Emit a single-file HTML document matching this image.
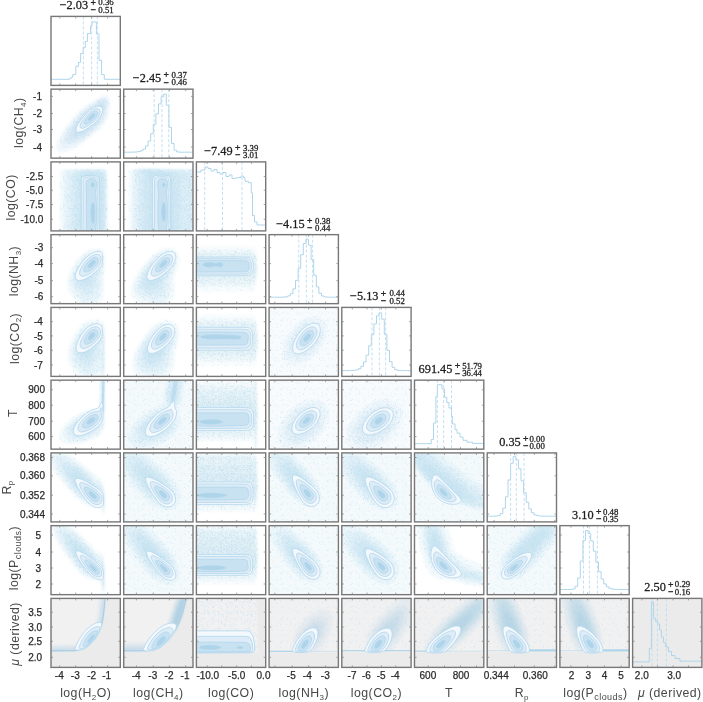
<!DOCTYPE html><html><head><meta charset="utf-8"><style>html,body{margin:0;padding:0;background:#fff}svg{display:block;will-change:transform}</style></head><body><svg width="703" height="702" viewBox="0 0 703 702">
<defs></defs>
<rect width="703" height="702" fill="#fff"/>
<rect x="51.00" y="16.40" width="69.3" height="69.0" fill="#fff"/>
<rect x="51.00" y="89.15" width="69.3" height="69.0" fill="#fff"/>
<rect x="123.70" y="89.15" width="69.3" height="69.0" fill="#fff"/>
<rect x="51.00" y="161.90" width="69.3" height="69.0" fill="#fff"/>
<rect x="123.70" y="161.90" width="69.3" height="69.0" fill="#fff"/>
<rect x="196.40" y="161.90" width="69.3" height="69.0" fill="#fff"/>
<rect x="51.00" y="234.65" width="69.3" height="69.0" fill="#fff"/>
<rect x="123.70" y="234.65" width="69.3" height="69.0" fill="#fff"/>
<rect x="196.40" y="234.65" width="69.3" height="69.0" fill="#fff"/>
<rect x="269.10" y="234.65" width="69.3" height="69.0" fill="#fff"/>
<rect x="51.00" y="307.40" width="69.3" height="69.0" fill="#fff"/>
<rect x="123.70" y="307.40" width="69.3" height="69.0" fill="#fff"/>
<rect x="196.40" y="307.40" width="69.3" height="69.0" fill="#fff"/>
<rect x="269.10" y="307.40" width="69.3" height="69.0" fill="#fff"/>
<rect x="341.80" y="307.40" width="69.3" height="69.0" fill="#fff"/>
<rect x="51.00" y="380.15" width="69.3" height="69.0" fill="#fff"/>
<rect x="123.70" y="380.15" width="69.3" height="69.0" fill="#fff"/>
<rect x="196.40" y="380.15" width="69.3" height="69.0" fill="#fff"/>
<rect x="269.10" y="380.15" width="69.3" height="69.0" fill="#fff"/>
<rect x="341.80" y="380.15" width="69.3" height="69.0" fill="#fff"/>
<rect x="414.50" y="380.15" width="69.3" height="69.0" fill="#fff"/>
<rect x="51.00" y="452.90" width="69.3" height="69.0" fill="#fff"/>
<rect x="123.70" y="452.90" width="69.3" height="69.0" fill="#fff"/>
<rect x="196.40" y="452.90" width="69.3" height="69.0" fill="#fff"/>
<rect x="269.10" y="452.90" width="69.3" height="69.0" fill="#fff"/>
<rect x="341.80" y="452.90" width="69.3" height="69.0" fill="#fff"/>
<rect x="414.50" y="452.90" width="69.3" height="69.0" fill="#fff"/>
<rect x="487.20" y="452.90" width="69.3" height="69.0" fill="#fff"/>
<rect x="51.00" y="525.65" width="69.3" height="69.0" fill="#fff"/>
<rect x="123.70" y="525.65" width="69.3" height="69.0" fill="#fff"/>
<rect x="196.40" y="525.65" width="69.3" height="69.0" fill="#fff"/>
<rect x="269.10" y="525.65" width="69.3" height="69.0" fill="#fff"/>
<rect x="341.80" y="525.65" width="69.3" height="69.0" fill="#fff"/>
<rect x="414.50" y="525.65" width="69.3" height="69.0" fill="#fff"/>
<rect x="487.20" y="525.65" width="69.3" height="69.0" fill="#fff"/>
<rect x="559.90" y="525.65" width="69.3" height="69.0" fill="#fff"/>
<rect x="51.00" y="598.40" width="69.3" height="69.0" fill="#ebebeb"/>
<rect x="123.70" y="598.40" width="69.3" height="69.0" fill="#ebebeb"/>
<rect x="196.40" y="598.40" width="69.3" height="69.0" fill="#ebebeb"/>
<rect x="269.10" y="598.40" width="69.3" height="69.0" fill="#ebebeb"/>
<rect x="341.80" y="598.40" width="69.3" height="69.0" fill="#ebebeb"/>
<rect x="414.50" y="598.40" width="69.3" height="69.0" fill="#ebebeb"/>
<rect x="487.20" y="598.40" width="69.3" height="69.0" fill="#ebebeb"/>
<rect x="559.90" y="598.40" width="69.3" height="69.0" fill="#ebebeb"/>
<rect x="632.60" y="598.40" width="69.3" height="69.0" fill="#ebebeb"/>
<defs><filter id="hb" x="-5%" y="-5%" width="110%" height="110%"><feGaussianBlur stdDeviation="0.9"/></filter>
<pattern id="sp0" width="23" height="23" patternUnits="userSpaceOnUse"><path d="M14.4 2.1h0.6v0.6h-0.6zM20.6 12.4h0.6v0.6h-0.6zM17.8 11.7h0.6v0.6h-0.6zM5.2 20.0h0.6v0.6h-0.6zM6.9 8.3h0.6v0.6h-0.6zM20.1 13.8h0.6v0.6h-0.6zM0.1 1.4h0.6v0.6h-0.6zM18.9 8.9h0.6v0.6h-0.6zM18.3 7.4h0.6v0.6h-0.6zM10.8 3.5h0.6v0.6h-0.6zM7.0 18.8h0.6v0.6h-0.6zM6.4 8.7h0.6v0.6h-0.6zM5.9 22.5h0.6v0.6h-0.6zM10.2 13.6h0.6v0.6h-0.6zM11.6 13.9h0.6v0.6h-0.6zM12.7 14.7h0.6v0.6h-0.6zM22.9 15.6h0.6v0.6h-0.6zM18.2 3.5h0.6v0.6h-0.6zM14.3 10.1h0.6v0.6h-0.6zM22.7 5.5h0.6v0.6h-0.6zM5.0 9.3h0.6v0.6h-0.6zM3.7 2.2h0.6v0.6h-0.6zM14.1 22.3h0.6v0.6h-0.6zM1.0 4.9h0.6v0.6h-0.6zM0.8 15.5h0.6v0.6h-0.6zM11.8 6.9h0.6v0.6h-0.6zM10.7 20.1h0.6v0.6h-0.6zM21.1 15.2h0.6v0.6h-0.6zM14.5 3.0h0.6v0.6h-0.6zM11.8 19.4h0.6v0.6h-0.6zM11.4 21.7h0.6v0.6h-0.6zM5.7 20.8h0.6v0.6h-0.6zM0.3 13.1h0.6v0.6h-0.6zM4.4 3.3h0.6v0.6h-0.6zM15.9 4.4h0.6v0.6h-0.6zM4.6 21.3h0.6v0.6h-0.6zM8.5 12.7h0.6v0.6h-0.6zM0.1 4.2h0.6v0.6h-0.6zM19.1 20.3h0.6v0.6h-0.6zM3.6 14.8h0.6v0.6h-0.6zM6.2 13.1h0.6v0.6h-0.6zM20.2 8.7h0.6v0.6h-0.6zM11.7 9.5h0.6v0.6h-0.6zM19.5 5.5h0.6v0.6h-0.6zM14.7 0.9h0.6v0.6h-0.6zM17.1 20.2h0.6v0.6h-0.6z" fill="#bddef1"/></pattern><pattern id="sp1" width="29" height="29" patternUnits="userSpaceOnUse"><path d="M13.6 19.2h0.6v0.6h-0.6zM15.9 18.3h0.6v0.6h-0.6zM9.3 23.9h0.6v0.6h-0.6zM21.8 23.3h0.6v0.6h-0.6zM0.7 9.5h0.6v0.6h-0.6zM10.8 20.9h0.6v0.6h-0.6zM0.9 25.2h0.6v0.6h-0.6zM3.6 25.9h0.6v0.6h-0.6zM28.0 4.7h0.6v0.6h-0.6zM19.1 0.8h0.6v0.6h-0.6zM12.4 18.9h0.6v0.6h-0.6zM15.2 6.2h0.6v0.6h-0.6zM25.3 16.3h0.6v0.6h-0.6zM10.0 27.4h0.6v0.6h-0.6zM17.1 11.0h0.6v0.6h-0.6zM19.8 7.3h0.6v0.6h-0.6zM10.3 13.2h0.6v0.6h-0.6zM15.1 19.1h0.6v0.6h-0.6zM22.2 2.9h0.6v0.6h-0.6zM26.4 11.0h0.6v0.6h-0.6zM4.4 3.9h0.6v0.6h-0.6zM27.1 19.2h0.6v0.6h-0.6zM0.2 24.1h0.6v0.6h-0.6zM21.8 10.9h0.6v0.6h-0.6zM23.5 10.8h0.6v0.6h-0.6zM4.0 15.6h0.6v0.6h-0.6zM12.1 6.2h0.6v0.6h-0.6zM23.6 7.2h0.6v0.6h-0.6zM0.4 9.6h0.6v0.6h-0.6zM18.2 13.3h0.6v0.6h-0.6zM23.0 2.4h0.6v0.6h-0.6zM14.9 21.8h0.6v0.6h-0.6zM21.0 16.8h0.6v0.6h-0.6zM6.6 8.7h0.6v0.6h-0.6zM5.8 2.2h0.6v0.6h-0.6zM10.5 22.1h0.6v0.6h-0.6zM5.2 3.8h0.6v0.6h-0.6zM10.0 3.9h0.6v0.6h-0.6zM27.5 3.8h0.6v0.6h-0.6zM16.6 2.4h0.6v0.6h-0.6zM9.9 26.3h0.6v0.6h-0.6zM7.9 7.8h0.6v0.6h-0.6zM27.6 8.9h0.6v0.6h-0.6zM12.9 24.2h0.6v0.6h-0.6zM28.4 18.0h0.6v0.6h-0.6zM15.0 5.4h0.6v0.6h-0.6zM15.1 12.6h0.6v0.6h-0.6zM26.0 25.6h0.6v0.6h-0.6zM21.5 10.9h0.6v0.6h-0.6zM16.8 20.6h0.6v0.6h-0.6zM12.4 2.8h0.6v0.6h-0.6zM25.5 21.1h0.6v0.6h-0.6zM11.9 22.5h0.6v0.6h-0.6zM26.8 23.9h0.6v0.6h-0.6zM2.0 19.6h0.6v0.6h-0.6zM12.5 10.8h0.6v0.6h-0.6zM15.1 1.9h0.6v0.6h-0.6zM27.6 15.0h0.6v0.6h-0.6zM7.3 22.0h0.6v0.6h-0.6zM23.4 5.5h0.6v0.6h-0.6zM19.6 7.7h0.6v0.6h-0.6zM20.8 15.5h0.6v0.6h-0.6zM18.3 21.7h0.6v0.6h-0.6zM28.2 26.0h0.6v0.6h-0.6zM9.6 3.6h0.6v0.6h-0.6zM11.5 5.3h0.6v0.6h-0.6zM5.9 23.2h0.6v0.6h-0.6zM1.5 18.7h0.6v0.6h-0.6zM6.2 20.9h0.6v0.6h-0.6zM26.5 28.9h0.6v0.6h-0.6zM24.4 27.2h0.6v0.6h-0.6zM3.3 24.4h0.6v0.6h-0.6zM17.5 22.5h0.6v0.6h-0.6zM13.9 11.5h0.6v0.6h-0.6zM17.2 18.6h0.6v0.6h-0.6zM19.1 5.3h0.6v0.6h-0.6zM8.9 22.0h0.6v0.6h-0.6zM27.9 22.0h0.6v0.6h-0.6zM13.5 20.9h0.6v0.6h-0.6zM18.2 12.9h0.6v0.6h-0.6zM18.4 11.0h0.6v0.6h-0.6zM5.3 12.2h0.6v0.6h-0.6zM1.8 1.0h0.6v0.6h-0.6zM11.9 24.5h0.6v0.6h-0.6zM22.2 15.7h0.6v0.6h-0.6zM23.6 11.2h0.6v0.6h-0.6zM21.2 15.9h0.6v0.6h-0.6zM3.3 20.9h0.6v0.6h-0.6zM26.5 11.1h0.6v0.6h-0.6zM23.3 24.1h0.6v0.6h-0.6zM25.5 26.7h0.6v0.6h-0.6zM15.2 11.2h0.6v0.6h-0.6zM26.6 4.0h0.6v0.6h-0.6zM1.4 22.1h0.6v0.6h-0.6zM0.9 28.8h0.6v0.6h-0.6zM0.6 4.3h0.6v0.6h-0.6zM7.3 20.7h0.6v0.6h-0.6zM7.2 23.9h0.6v0.6h-0.6zM5.4 26.7h0.6v0.6h-0.6zM16.4 3.6h0.6v0.6h-0.6zM1.1 2.7h0.6v0.6h-0.6zM17.1 28.6h0.6v0.6h-0.6zM4.8 3.4h0.6v0.6h-0.6zM19.7 5.1h0.6v0.6h-0.6zM0.6 16.7h0.6v0.6h-0.6zM9.0 12.9h0.6v0.6h-0.6zM27.2 21.8h0.6v0.6h-0.6zM15.6 5.5h0.6v0.6h-0.6zM23.5 26.5h0.6v0.6h-0.6zM19.1 6.3h0.6v0.6h-0.6zM17.7 22.3h0.6v0.6h-0.6zM5.5 2.0h0.6v0.6h-0.6zM16.7 13.7h0.6v0.6h-0.6zM1.2 0.9h0.6v0.6h-0.6zM23.2 9.1h0.6v0.6h-0.6zM27.8 9.1h0.6v0.6h-0.6zM24.8 20.9h0.6v0.6h-0.6zM1.5 13.2h0.6v0.6h-0.6zM9.8 1.6h0.6v0.6h-0.6zM9.2 28.9h0.6v0.6h-0.6zM3.3 25.8h0.6v0.6h-0.6zM18.2 26.6h0.6v0.6h-0.6zM23.1 7.2h0.6v0.6h-0.6zM9.1 11.4h0.6v0.6h-0.6zM25.0 6.6h0.6v0.6h-0.6zM23.1 3.6h0.6v0.6h-0.6zM3.7 1.0h0.6v0.6h-0.6zM22.2 14.6h0.6v0.6h-0.6zM25.6 3.6h0.6v0.6h-0.6zM5.7 5.1h0.6v0.6h-0.6zM16.6 25.0h0.6v0.6h-0.6zM18.5 14.0h0.6v0.6h-0.6zM17.7 5.3h0.6v0.6h-0.6zM2.8 19.4h0.6v0.6h-0.6z" fill="#bddef1"/></pattern><pattern id="sp2" width="31" height="31" patternUnits="userSpaceOnUse"><path d="M8.2 22.7h0.6v0.6h-0.6zM16.3 25.3h0.6v0.6h-0.6zM8.8 13.8h0.6v0.6h-0.6zM16.0 1.9h0.6v0.6h-0.6zM19.5 21.2h0.6v0.6h-0.6zM16.6 7.6h0.6v0.6h-0.6zM12.3 19.9h0.6v0.6h-0.6zM24.5 11.7h0.6v0.6h-0.6zM27.1 19.8h0.6v0.6h-0.6zM5.6 8.0h0.6v0.6h-0.6zM4.2 14.8h0.6v0.6h-0.6zM3.5 16.3h0.6v0.6h-0.6zM30.4 19.6h0.6v0.6h-0.6zM29.2 6.3h0.6v0.6h-0.6zM7.2 29.8h0.6v0.6h-0.6zM30.1 9.0h0.6v0.6h-0.6zM6.4 9.5h0.6v0.6h-0.6zM15.7 7.9h0.6v0.6h-0.6zM15.4 2.1h0.6v0.6h-0.6zM28.4 13.1h0.6v0.6h-0.6zM1.3 23.9h0.6v0.6h-0.6zM9.8 22.0h0.6v0.6h-0.6zM18.6 6.1h0.6v0.6h-0.6zM2.1 4.2h0.6v0.6h-0.6zM7.3 10.0h0.6v0.6h-0.6zM14.4 23.8h0.6v0.6h-0.6zM27.3 15.1h0.6v0.6h-0.6zM23.6 28.6h0.6v0.6h-0.6zM25.7 20.3h0.6v0.6h-0.6zM23.6 19.2h0.6v0.6h-0.6zM21.9 23.8h0.6v0.6h-0.6zM26.3 23.3h0.6v0.6h-0.6zM21.1 10.7h0.6v0.6h-0.6zM22.8 8.0h0.6v0.6h-0.6zM9.4 13.6h0.6v0.6h-0.6zM5.2 15.2h0.6v0.6h-0.6zM23.5 4.4h0.6v0.6h-0.6zM5.1 13.7h0.6v0.6h-0.6zM28.5 19.8h0.6v0.6h-0.6zM18.5 4.2h0.6v0.6h-0.6zM10.2 4.3h0.6v0.6h-0.6zM29.0 5.4h0.6v0.6h-0.6zM4.8 8.8h0.6v0.6h-0.6zM15.9 29.8h0.6v0.6h-0.6zM2.8 0.8h0.6v0.6h-0.6zM29.9 5.7h0.6v0.6h-0.6zM17.8 5.1h0.6v0.6h-0.6zM24.9 14.7h0.6v0.6h-0.6zM8.7 0.5h0.6v0.6h-0.6zM24.9 14.2h0.6v0.6h-0.6zM21.8 5.1h0.6v0.6h-0.6zM20.0 8.4h0.6v0.6h-0.6zM29.5 24.6h0.6v0.6h-0.6zM13.4 5.7h0.6v0.6h-0.6zM12.9 19.1h0.6v0.6h-0.6zM21.5 12.6h0.6v0.6h-0.6zM25.9 12.9h0.6v0.6h-0.6zM10.4 25.3h0.6v0.6h-0.6zM20.8 5.0h0.6v0.6h-0.6zM6.5 28.6h0.6v0.6h-0.6zM17.1 27.7h0.6v0.6h-0.6zM23.8 20.7h0.6v0.6h-0.6zM2.0 1.5h0.6v0.6h-0.6zM22.6 20.6h0.6v0.6h-0.6zM0.5 18.6h0.6v0.6h-0.6zM29.7 23.9h0.6v0.6h-0.6zM14.5 6.6h0.6v0.6h-0.6zM12.7 29.6h0.6v0.6h-0.6zM22.3 27.5h0.6v0.6h-0.6zM16.2 3.5h0.6v0.6h-0.6zM22.7 9.8h0.6v0.6h-0.6zM2.6 1.0h0.6v0.6h-0.6zM17.4 25.8h0.6v0.6h-0.6zM17.3 28.4h0.6v0.6h-0.6zM28.9 30.7h0.6v0.6h-0.6zM1.2 19.0h0.6v0.6h-0.6zM14.0 20.6h0.6v0.6h-0.6zM19.6 21.0h0.6v0.6h-0.6zM17.1 17.7h0.6v0.6h-0.6zM2.3 29.5h0.6v0.6h-0.6zM18.4 18.8h0.6v0.6h-0.6zM6.9 10.4h0.6v0.6h-0.6zM6.1 15.9h0.6v0.6h-0.6zM27.2 0.6h0.6v0.6h-0.6zM6.1 22.4h0.6v0.6h-0.6zM14.1 21.5h0.6v0.6h-0.6zM23.3 13.1h0.6v0.6h-0.6zM21.9 26.4h0.6v0.6h-0.6zM17.2 23.4h0.6v0.6h-0.6zM25.0 10.4h0.6v0.6h-0.6zM14.4 2.4h0.6v0.6h-0.6zM19.2 4.1h0.6v0.6h-0.6zM25.4 5.7h0.6v0.6h-0.6zM21.0 9.4h0.6v0.6h-0.6zM19.9 13.9h0.6v0.6h-0.6zM12.6 28.8h0.6v0.6h-0.6zM17.3 8.6h0.6v0.6h-0.6zM12.3 27.9h0.6v0.6h-0.6zM23.1 21.1h0.6v0.6h-0.6zM11.8 26.5h0.6v0.6h-0.6zM14.5 12.5h0.6v0.6h-0.6zM23.4 0.1h0.6v0.6h-0.6zM15.6 24.4h0.6v0.6h-0.6zM10.5 7.6h0.6v0.6h-0.6zM25.6 4.4h0.6v0.6h-0.6zM11.8 24.8h0.6v0.6h-0.6zM26.2 21.3h0.6v0.6h-0.6zM24.3 6.6h0.6v0.6h-0.6zM13.9 8.3h0.6v0.6h-0.6zM22.1 29.1h0.6v0.6h-0.6zM1.1 8.3h0.6v0.6h-0.6zM12.1 21.8h0.6v0.6h-0.6zM26.7 4.0h0.6v0.6h-0.6zM18.0 25.3h0.6v0.6h-0.6zM17.3 3.6h0.6v0.6h-0.6zM20.6 16.0h0.6v0.6h-0.6zM21.0 1.1h0.6v0.6h-0.6zM18.1 17.1h0.6v0.6h-0.6zM13.0 26.2h0.6v0.6h-0.6zM5.7 2.6h0.6v0.6h-0.6zM9.1 8.5h0.6v0.6h-0.6zM9.1 23.7h0.6v0.6h-0.6zM13.4 18.9h0.6v0.6h-0.6zM31.0 9.7h0.6v0.6h-0.6zM10.9 19.5h0.6v0.6h-0.6zM13.9 14.1h0.6v0.6h-0.6zM11.5 26.7h0.6v0.6h-0.6zM18.0 9.1h0.6v0.6h-0.6zM29.4 23.5h0.6v0.6h-0.6zM27.6 19.7h0.6v0.6h-0.6zM11.7 23.0h0.6v0.6h-0.6zM8.3 11.7h0.6v0.6h-0.6zM27.4 22.5h0.6v0.6h-0.6zM15.3 21.7h0.6v0.6h-0.6zM21.3 12.0h0.6v0.6h-0.6zM2.3 0.8h0.6v0.6h-0.6zM26.9 29.9h0.6v0.6h-0.6zM9.7 22.1h0.6v0.6h-0.6zM15.3 6.3h0.6v0.6h-0.6zM6.1 22.7h0.6v0.6h-0.6zM13.0 8.6h0.6v0.6h-0.6zM25.7 14.5h0.6v0.6h-0.6zM25.7 26.7h0.6v0.6h-0.6zM14.7 13.9h0.6v0.6h-0.6zM23.8 8.9h0.6v0.6h-0.6zM14.2 9.5h0.6v0.6h-0.6zM11.6 2.4h0.6v0.6h-0.6zM16.9 6.8h0.6v0.6h-0.6zM6.2 8.4h0.6v0.6h-0.6zM9.8 5.4h0.6v0.6h-0.6zM21.9 2.0h0.6v0.6h-0.6zM23.9 14.4h0.6v0.6h-0.6zM1.8 6.6h0.6v0.6h-0.6z" fill="#bddef1"/></pattern><pattern id="sp3" width="37" height="37" patternUnits="userSpaceOnUse"><path d="M27.3 8.1h0.6v0.6h-0.6zM34.1 0.9h0.6v0.6h-0.6zM10.1 4.7h0.6v0.6h-0.6zM21.2 23.4h0.6v0.6h-0.6zM18.7 3.7h0.6v0.6h-0.6zM2.8 5.8h0.6v0.6h-0.6zM4.6 33.4h0.6v0.6h-0.6zM32.7 12.4h0.6v0.6h-0.6zM17.5 12.3h0.6v0.6h-0.6zM29.8 3.2h0.6v0.6h-0.6zM2.5 29.4h0.6v0.6h-0.6zM22.0 25.0h0.6v0.6h-0.6zM32.0 20.2h0.6v0.6h-0.6zM32.1 22.9h0.6v0.6h-0.6zM0.2 3.7h0.6v0.6h-0.6zM19.3 9.6h0.6v0.6h-0.6zM13.7 21.6h0.6v0.6h-0.6zM28.1 35.2h0.6v0.6h-0.6zM2.7 30.2h0.6v0.6h-0.6zM9.8 23.7h0.6v0.6h-0.6zM30.1 19.2h0.6v0.6h-0.6zM17.4 0.6h0.6v0.6h-0.6zM16.8 33.0h0.6v0.6h-0.6zM35.8 2.5h0.6v0.6h-0.6zM11.8 4.8h0.6v0.6h-0.6zM1.5 25.6h0.6v0.6h-0.6zM14.5 30.0h0.6v0.6h-0.6zM5.7 29.1h0.6v0.6h-0.6zM3.0 16.7h0.6v0.6h-0.6zM21.0 6.6h0.6v0.6h-0.6zM35.3 1.3h0.6v0.6h-0.6zM21.4 31.5h0.6v0.6h-0.6zM23.9 36.2h0.6v0.6h-0.6zM12.0 9.0h0.6v0.6h-0.6zM21.1 32.0h0.6v0.6h-0.6zM27.8 14.9h0.6v0.6h-0.6zM21.8 11.5h0.6v0.6h-0.6zM29.7 18.7h0.6v0.6h-0.6zM20.4 0.3h0.6v0.6h-0.6zM7.3 16.4h0.6v0.6h-0.6zM21.6 7.4h0.6v0.6h-0.6zM18.2 26.4h0.6v0.6h-0.6zM6.1 18.6h0.6v0.6h-0.6zM22.9 32.1h0.6v0.6h-0.6zM30.2 33.2h0.6v0.6h-0.6zM5.0 11.7h0.6v0.6h-0.6zM20.2 10.4h0.6v0.6h-0.6zM27.1 34.7h0.6v0.6h-0.6zM14.9 18.6h0.6v0.6h-0.6zM10.0 3.6h0.6v0.6h-0.6zM13.8 1.7h0.6v0.6h-0.6zM20.0 36.6h0.6v0.6h-0.6zM25.4 21.4h0.6v0.6h-0.6zM20.7 2.0h0.6v0.6h-0.6zM4.0 18.9h0.6v0.6h-0.6zM30.3 18.7h0.6v0.6h-0.6zM34.2 16.1h0.6v0.6h-0.6zM3.7 35.2h0.6v0.6h-0.6zM9.2 35.1h0.6v0.6h-0.6zM6.4 4.6h0.6v0.6h-0.6zM31.4 5.6h0.6v0.6h-0.6zM33.7 15.1h0.6v0.6h-0.6zM1.6 30.9h0.6v0.6h-0.6zM12.3 23.1h0.6v0.6h-0.6zM7.1 27.0h0.6v0.6h-0.6zM17.4 21.3h0.6v0.6h-0.6zM34.1 7.8h0.6v0.6h-0.6zM2.6 30.3h0.6v0.6h-0.6zM6.3 0.5h0.6v0.6h-0.6zM18.0 25.8h0.6v0.6h-0.6zM19.4 7.2h0.6v0.6h-0.6zM27.6 17.4h0.6v0.6h-0.6zM16.2 36.1h0.6v0.6h-0.6zM5.2 19.9h0.6v0.6h-0.6zM13.1 2.1h0.6v0.6h-0.6zM36.3 15.9h0.6v0.6h-0.6zM27.8 24.4h0.6v0.6h-0.6zM4.3 2.1h0.6v0.6h-0.6zM29.9 9.3h0.6v0.6h-0.6zM11.5 0.7h0.6v0.6h-0.6zM28.9 20.0h0.6v0.6h-0.6zM0.5 14.1h0.6v0.6h-0.6zM32.2 18.6h0.6v0.6h-0.6zM6.0 10.9h0.6v0.6h-0.6zM16.9 24.3h0.6v0.6h-0.6zM24.5 6.4h0.6v0.6h-0.6zM18.8 33.5h0.6v0.6h-0.6zM6.1 35.5h0.6v0.6h-0.6zM5.1 18.2h0.6v0.6h-0.6zM10.5 17.2h0.6v0.6h-0.6zM1.9 31.8h0.6v0.6h-0.6zM8.0 10.7h0.6v0.6h-0.6zM4.8 29.7h0.6v0.6h-0.6zM17.2 10.6h0.6v0.6h-0.6zM13.2 26.6h0.6v0.6h-0.6zM21.7 12.4h0.6v0.6h-0.6zM10.4 22.3h0.6v0.6h-0.6zM1.3 34.3h0.6v0.6h-0.6zM12.3 2.0h0.6v0.6h-0.6zM27.9 29.9h0.6v0.6h-0.6zM9.5 20.0h0.6v0.6h-0.6zM15.0 14.0h0.6v0.6h-0.6zM27.9 13.0h0.6v0.6h-0.6zM15.0 2.6h0.6v0.6h-0.6zM32.8 9.6h0.6v0.6h-0.6zM34.0 23.1h0.6v0.6h-0.6zM11.5 3.6h0.6v0.6h-0.6zM27.2 24.8h0.6v0.6h-0.6zM9.4 35.6h0.6v0.6h-0.6zM5.2 36.3h0.6v0.6h-0.6zM16.2 32.9h0.6v0.6h-0.6zM22.3 29.8h0.6v0.6h-0.6zM34.6 6.6h0.6v0.6h-0.6zM5.4 35.9h0.6v0.6h-0.6zM26.4 7.5h0.6v0.6h-0.6zM17.6 32.2h0.6v0.6h-0.6zM4.9 32.5h0.6v0.6h-0.6zM36.0 23.0h0.6v0.6h-0.6zM25.7 19.3h0.6v0.6h-0.6zM4.8 7.4h0.6v0.6h-0.6zM33.5 19.2h0.6v0.6h-0.6zM3.8 10.8h0.6v0.6h-0.6zM3.4 4.7h0.6v0.6h-0.6zM12.3 4.7h0.6v0.6h-0.6zM34.7 29.6h0.6v0.6h-0.6zM1.2 34.1h0.6v0.6h-0.6zM34.0 5.2h0.6v0.6h-0.6zM22.6 0.5h0.6v0.6h-0.6zM2.5 9.8h0.6v0.6h-0.6zM21.0 5.0h0.6v0.6h-0.6zM17.0 7.0h0.6v0.6h-0.6zM20.9 21.6h0.6v0.6h-0.6zM27.3 15.6h0.6v0.6h-0.6zM25.1 15.9h0.6v0.6h-0.6zM36.9 7.6h0.6v0.6h-0.6zM5.8 24.6h0.6v0.6h-0.6zM30.1 10.7h0.6v0.6h-0.6zM15.2 14.8h0.6v0.6h-0.6zM29.0 17.1h0.6v0.6h-0.6zM33.0 33.5h0.6v0.6h-0.6zM36.7 9.1h0.6v0.6h-0.6zM9.8 26.6h0.6v0.6h-0.6zM16.8 11.4h0.6v0.6h-0.6zM34.9 33.1h0.6v0.6h-0.6zM35.0 14.6h0.6v0.6h-0.6zM13.8 18.7h0.6v0.6h-0.6zM34.8 32.5h0.6v0.6h-0.6zM15.0 24.9h0.6v0.6h-0.6zM13.9 3.5h0.6v0.6h-0.6zM28.0 5.1h0.6v0.6h-0.6zM17.4 36.7h0.6v0.6h-0.6zM16.6 1.1h0.6v0.6h-0.6zM14.3 11.1h0.6v0.6h-0.6zM16.0 35.5h0.6v0.6h-0.6zM5.2 0.6h0.6v0.6h-0.6zM2.3 6.0h0.6v0.6h-0.6zM27.9 7.9h0.6v0.6h-0.6zM20.9 3.2h0.6v0.6h-0.6zM24.9 17.5h0.6v0.6h-0.6zM29.7 21.9h0.6v0.6h-0.6zM8.5 11.8h0.6v0.6h-0.6zM8.6 4.0h0.6v0.6h-0.6zM10.3 30.0h0.6v0.6h-0.6zM11.2 29.8h0.6v0.6h-0.6zM28.1 20.8h0.6v0.6h-0.6zM13.8 5.1h0.6v0.6h-0.6zM12.0 20.1h0.6v0.6h-0.6zM23.5 23.3h0.6v0.6h-0.6zM6.9 15.8h0.6v0.6h-0.6zM3.9 32.0h0.6v0.6h-0.6zM25.8 14.4h0.6v0.6h-0.6zM28.0 18.9h0.6v0.6h-0.6zM11.0 4.2h0.6v0.6h-0.6zM23.5 20.9h0.6v0.6h-0.6zM1.3 28.4h0.6v0.6h-0.6zM15.0 27.1h0.6v0.6h-0.6zM21.4 9.5h0.6v0.6h-0.6zM9.4 36.7h0.6v0.6h-0.6zM12.9 26.6h0.6v0.6h-0.6zM22.6 15.7h0.6v0.6h-0.6zM21.8 15.4h0.6v0.6h-0.6zM5.7 28.8h0.6v0.6h-0.6zM26.1 6.5h0.6v0.6h-0.6zM3.0 23.7h0.6v0.6h-0.6zM35.9 26.6h0.6v0.6h-0.6zM7.5 19.1h0.6v0.6h-0.6zM9.4 32.3h0.6v0.6h-0.6zM7.4 17.3h0.6v0.6h-0.6zM36.7 17.2h0.6v0.6h-0.6zM10.6 10.5h0.6v0.6h-0.6zM22.4 34.0h0.6v0.6h-0.6zM36.7 11.7h0.6v0.6h-0.6zM35.2 25.7h0.6v0.6h-0.6zM1.6 15.1h0.6v0.6h-0.6zM19.3 34.6h0.6v0.6h-0.6zM22.2 35.1h0.6v0.6h-0.6zM26.0 1.1h0.6v0.6h-0.6zM12.4 36.8h0.6v0.6h-0.6zM12.1 22.4h0.6v0.6h-0.6zM0.2 2.7h0.6v0.6h-0.6zM1.3 18.4h0.6v0.6h-0.6zM20.4 1.8h0.6v0.6h-0.6zM2.8 20.3h0.6v0.6h-0.6zM7.5 6.9h0.6v0.6h-0.6zM12.3 13.6h0.6v0.6h-0.6zM2.6 11.3h0.6v0.6h-0.6zM1.1 22.3h0.6v0.6h-0.6zM34.3 30.4h0.6v0.6h-0.6zM16.1 34.7h0.6v0.6h-0.6zM7.6 12.2h0.6v0.6h-0.6zM26.2 21.1h0.6v0.6h-0.6zM0.3 0.2h0.6v0.6h-0.6zM9.1 13.8h0.6v0.6h-0.6zM35.5 35.5h0.6v0.6h-0.6zM33.2 4.4h0.6v0.6h-0.6zM23.5 32.2h0.6v0.6h-0.6zM3.4 24.1h0.6v0.6h-0.6zM11.8 10.9h0.6v0.6h-0.6zM1.0 28.8h0.6v0.6h-0.6z" fill="#bddef1"/></pattern><pattern id="sp4" width="26" height="26" patternUnits="userSpaceOnUse"><path d="M7.5 18.3h0.6v0.6h-0.6zM23.3 23.8h0.6v0.6h-0.6zM2.2 25.2h0.6v0.6h-0.6zM3.1 18.6h0.6v0.6h-0.6zM19.5 22.4h0.6v0.6h-0.6zM11.7 21.9h0.6v0.6h-0.6zM3.8 9.3h0.6v0.6h-0.6zM13.3 2.6h0.6v0.6h-0.6zM7.7 18.9h0.6v0.6h-0.6zM14.3 3.6h0.6v0.6h-0.6zM19.3 10.0h0.6v0.6h-0.6zM22.3 25.9h0.6v0.6h-0.6zM1.5 14.6h0.6v0.6h-0.6zM15.4 13.6h0.6v0.6h-0.6zM25.6 24.6h0.6v0.6h-0.6zM12.0 7.4h0.6v0.6h-0.6zM20.0 26.0h0.6v0.6h-0.6zM2.5 23.7h0.6v0.6h-0.6zM22.7 9.5h0.6v0.6h-0.6zM15.1 8.5h0.6v0.6h-0.6zM23.1 3.3h0.6v0.6h-0.6zM20.5 23.8h0.6v0.6h-0.6zM22.6 4.8h0.6v0.6h-0.6zM1.5 0.2h0.6v0.6h-0.6zM18.6 23.1h0.6v0.6h-0.6zM5.1 15.6h0.6v0.6h-0.6zM6.9 17.5h0.6v0.6h-0.6zM8.4 19.1h0.6v0.6h-0.6zM15.4 1.1h0.6v0.6h-0.6zM16.3 2.4h0.6v0.6h-0.6zM24.2 13.0h0.6v0.6h-0.6zM0.3 1.3h0.6v0.6h-0.6zM5.0 13.1h0.6v0.6h-0.6zM9.4 19.1h0.6v0.6h-0.6zM21.3 17.1h0.6v0.6h-0.6zM14.3 16.0h0.6v0.6h-0.6zM13.3 1.2h0.6v0.6h-0.6zM19.8 6.2h0.6v0.6h-0.6zM17.0 23.3h0.6v0.6h-0.6zM7.5 3.2h0.6v0.6h-0.6zM2.3 13.9h0.6v0.6h-0.6zM12.0 1.3h0.6v0.6h-0.6zM22.9 24.4h0.6v0.6h-0.6zM15.6 4.5h0.6v0.6h-0.6zM1.4 10.7h0.6v0.6h-0.6zM11.4 14.2h0.6v0.6h-0.6zM10.0 18.7h0.6v0.6h-0.6zM15.1 24.4h0.6v0.6h-0.6zM15.3 19.1h0.6v0.6h-0.6zM24.7 9.0h0.6v0.6h-0.6zM8.8 2.0h0.6v0.6h-0.6zM10.6 18.4h0.6v0.6h-0.6zM16.0 25.3h0.6v0.6h-0.6zM23.0 0.4h0.6v0.6h-0.6zM18.4 20.1h0.6v0.6h-0.6zM12.2 4.6h0.6v0.6h-0.6zM21.2 12.0h0.6v0.6h-0.6zM12.6 13.6h0.6v0.6h-0.6zM25.1 16.0h0.6v0.6h-0.6zM7.3 25.7h0.6v0.6h-0.6zM3.3 17.9h0.6v0.6h-0.6zM21.6 10.2h0.6v0.6h-0.6zM7.7 18.6h0.6v0.6h-0.6zM22.0 12.1h0.6v0.6h-0.6zM15.8 10.7h0.6v0.6h-0.6zM13.2 9.5h0.6v0.6h-0.6zM2.3 12.8h0.6v0.6h-0.6zM20.4 7.3h0.6v0.6h-0.6zM1.7 6.3h0.6v0.6h-0.6zM25.1 3.9h0.6v0.6h-0.6zM22.8 11.4h0.6v0.6h-0.6zM7.9 7.6h0.6v0.6h-0.6zM3.3 21.8h0.6v0.6h-0.6zM23.0 22.0h0.6v0.6h-0.6zM12.5 8.9h0.6v0.6h-0.6zM3.2 16.1h0.6v0.6h-0.6zM13.0 23.5h0.6v0.6h-0.6zM6.4 9.3h0.6v0.6h-0.6zM10.6 14.4h0.6v0.6h-0.6zM16.6 11.5h0.6v0.6h-0.6zM23.8 16.9h0.6v0.6h-0.6zM20.8 25.0h0.6v0.6h-0.6zM4.2 3.6h0.6v0.6h-0.6zM12.4 25.1h0.6v0.6h-0.6zM12.8 17.3h0.6v0.6h-0.6zM25.7 20.7h0.6v0.6h-0.6zM2.3 16.5h0.6v0.6h-0.6zM13.3 22.6h0.6v0.6h-0.6zM23.8 8.5h0.6v0.6h-0.6zM10.4 18.4h0.6v0.6h-0.6zM6.8 6.9h0.6v0.6h-0.6zM14.5 13.2h0.6v0.6h-0.6zM8.3 17.7h0.6v0.6h-0.6zM24.1 5.2h0.6v0.6h-0.6zM2.2 1.6h0.6v0.6h-0.6zM5.4 20.6h0.6v0.6h-0.6zM2.2 21.0h0.6v0.6h-0.6zM18.5 17.3h0.6v0.6h-0.6zM7.6 8.4h0.6v0.6h-0.6zM23.4 17.1h0.6v0.6h-0.6zM23.2 2.2h0.6v0.6h-0.6zM24.3 17.2h0.6v0.6h-0.6zM6.7 15.0h0.6v0.6h-0.6zM0.0 16.0h0.6v0.6h-0.6zM10.1 11.6h0.6v0.6h-0.6zM25.0 5.9h0.6v0.6h-0.6zM19.9 18.9h0.6v0.6h-0.6zM1.6 12.1h0.6v0.6h-0.6z" fill="#bddef1"/></pattern><pattern id="sp5" width="34" height="34" patternUnits="userSpaceOnUse"><path d="M25.3 10.5h0.6v0.6h-0.6zM12.4 9.6h0.6v0.6h-0.6zM3.0 25.7h0.6v0.6h-0.6zM18.4 33.8h0.6v0.6h-0.6zM21.2 23.2h0.6v0.6h-0.6zM31.3 1.1h0.6v0.6h-0.6zM30.2 10.1h0.6v0.6h-0.6zM1.9 27.3h0.6v0.6h-0.6zM26.2 31.4h0.6v0.6h-0.6zM8.9 20.2h0.6v0.6h-0.6zM23.7 11.9h0.6v0.6h-0.6zM12.9 12.1h0.6v0.6h-0.6zM11.0 21.5h0.6v0.6h-0.6zM16.6 29.4h0.6v0.6h-0.6zM18.0 11.6h0.6v0.6h-0.6zM23.6 6.5h0.6v0.6h-0.6zM21.7 0.1h0.6v0.6h-0.6zM23.1 4.7h0.6v0.6h-0.6zM13.1 28.9h0.6v0.6h-0.6zM23.0 21.2h0.6v0.6h-0.6zM11.7 33.7h0.6v0.6h-0.6zM20.7 2.4h0.6v0.6h-0.6zM15.6 12.4h0.6v0.6h-0.6zM19.1 27.1h0.6v0.6h-0.6zM0.6 22.5h0.6v0.6h-0.6zM17.0 2.3h0.6v0.6h-0.6zM7.5 13.6h0.6v0.6h-0.6zM13.1 21.7h0.6v0.6h-0.6zM2.5 23.4h0.6v0.6h-0.6zM22.3 15.4h0.6v0.6h-0.6zM30.4 6.4h0.6v0.6h-0.6zM12.1 32.8h0.6v0.6h-0.6zM3.6 15.9h0.6v0.6h-0.6zM21.1 24.4h0.6v0.6h-0.6zM4.3 18.2h0.6v0.6h-0.6zM30.3 2.7h0.6v0.6h-0.6zM4.2 8.0h0.6v0.6h-0.6zM12.3 2.1h0.6v0.6h-0.6zM16.8 6.5h0.6v0.6h-0.6zM4.0 6.8h0.6v0.6h-0.6zM10.8 14.1h0.6v0.6h-0.6zM9.4 10.9h0.6v0.6h-0.6zM24.3 12.3h0.6v0.6h-0.6zM33.5 27.8h0.6v0.6h-0.6zM12.3 0.7h0.6v0.6h-0.6zM26.9 3.5h0.6v0.6h-0.6zM4.8 27.5h0.6v0.6h-0.6zM19.7 18.2h0.6v0.6h-0.6zM14.7 14.9h0.6v0.6h-0.6zM9.8 9.1h0.6v0.6h-0.6zM27.9 18.4h0.6v0.6h-0.6zM25.4 7.5h0.6v0.6h-0.6zM4.6 29.2h0.6v0.6h-0.6zM9.9 28.0h0.6v0.6h-0.6zM27.9 10.9h0.6v0.6h-0.6zM33.7 0.8h0.6v0.6h-0.6zM20.8 30.2h0.6v0.6h-0.6zM29.6 10.2h0.6v0.6h-0.6zM33.5 22.3h0.6v0.6h-0.6zM25.2 29.2h0.6v0.6h-0.6zM21.9 27.1h0.6v0.6h-0.6zM7.5 29.3h0.6v0.6h-0.6zM12.6 16.6h0.6v0.6h-0.6zM21.2 28.6h0.6v0.6h-0.6zM31.5 15.7h0.6v0.6h-0.6zM10.3 9.0h0.6v0.6h-0.6zM13.4 16.4h0.6v0.6h-0.6zM0.8 11.4h0.6v0.6h-0.6zM23.7 26.1h0.6v0.6h-0.6zM15.1 28.3h0.6v0.6h-0.6zM27.1 4.8h0.6v0.6h-0.6zM7.9 5.6h0.6v0.6h-0.6zM22.4 13.0h0.6v0.6h-0.6zM22.9 15.8h0.6v0.6h-0.6zM15.8 32.5h0.6v0.6h-0.6zM6.4 32.0h0.6v0.6h-0.6zM13.7 32.9h0.6v0.6h-0.6zM25.3 24.8h0.6v0.6h-0.6zM6.4 23.0h0.6v0.6h-0.6zM3.1 9.2h0.6v0.6h-0.6zM15.7 12.7h0.6v0.6h-0.6zM8.0 0.1h0.6v0.6h-0.6zM27.2 28.3h0.6v0.6h-0.6zM27.8 9.4h0.6v0.6h-0.6zM32.1 2.7h0.6v0.6h-0.6zM28.6 10.7h0.6v0.6h-0.6zM22.0 11.0h0.6v0.6h-0.6zM6.4 24.6h0.6v0.6h-0.6zM28.0 0.2h0.6v0.6h-0.6zM24.8 7.8h0.6v0.6h-0.6zM25.4 30.5h0.6v0.6h-0.6zM23.7 29.1h0.6v0.6h-0.6zM28.2 21.4h0.6v0.6h-0.6zM10.1 19.0h0.6v0.6h-0.6zM22.9 7.6h0.6v0.6h-0.6zM17.6 29.8h0.6v0.6h-0.6zM11.5 25.9h0.6v0.6h-0.6zM11.1 17.4h0.6v0.6h-0.6zM5.3 5.5h0.6v0.6h-0.6zM16.7 7.3h0.6v0.6h-0.6zM12.5 12.9h0.6v0.6h-0.6zM14.3 11.3h0.6v0.6h-0.6zM29.0 2.1h0.6v0.6h-0.6zM23.2 13.8h0.6v0.6h-0.6zM23.1 15.3h0.6v0.6h-0.6zM33.5 9.8h0.6v0.6h-0.6zM7.4 13.1h0.6v0.6h-0.6zM17.3 11.3h0.6v0.6h-0.6zM3.1 12.8h0.6v0.6h-0.6zM13.4 21.0h0.6v0.6h-0.6zM32.3 16.9h0.6v0.6h-0.6zM2.9 6.7h0.6v0.6h-0.6zM25.8 27.0h0.6v0.6h-0.6zM29.4 17.4h0.6v0.6h-0.6zM17.3 15.6h0.6v0.6h-0.6zM27.1 24.3h0.6v0.6h-0.6zM15.0 25.6h0.6v0.6h-0.6zM12.0 28.9h0.6v0.6h-0.6zM17.2 27.6h0.6v0.6h-0.6zM6.6 22.7h0.6v0.6h-0.6zM10.5 24.5h0.6v0.6h-0.6zM10.4 5.3h0.6v0.6h-0.6zM33.6 23.8h0.6v0.6h-0.6zM11.4 8.7h0.6v0.6h-0.6zM7.8 8.8h0.6v0.6h-0.6zM32.0 4.1h0.6v0.6h-0.6zM4.7 13.5h0.6v0.6h-0.6zM32.8 0.7h0.6v0.6h-0.6zM29.0 22.3h0.6v0.6h-0.6zM22.0 25.4h0.6v0.6h-0.6zM14.5 26.4h0.6v0.6h-0.6zM6.7 4.4h0.6v0.6h-0.6zM3.6 21.8h0.6v0.6h-0.6zM3.5 28.5h0.6v0.6h-0.6zM11.9 1.2h0.6v0.6h-0.6zM13.8 6.6h0.6v0.6h-0.6zM31.4 9.1h0.6v0.6h-0.6zM18.2 15.7h0.6v0.6h-0.6zM33.7 5.9h0.6v0.6h-0.6zM24.5 18.3h0.6v0.6h-0.6zM5.0 11.7h0.6v0.6h-0.6zM18.8 22.3h0.6v0.6h-0.6zM5.4 18.1h0.6v0.6h-0.6zM1.3 23.3h0.6v0.6h-0.6zM32.1 8.4h0.6v0.6h-0.6zM11.5 24.0h0.6v0.6h-0.6zM6.4 25.0h0.6v0.6h-0.6zM3.5 24.5h0.6v0.6h-0.6zM22.2 2.3h0.6v0.6h-0.6zM15.7 32.2h0.6v0.6h-0.6zM0.4 19.6h0.6v0.6h-0.6zM24.3 9.3h0.6v0.6h-0.6zM8.7 14.8h0.6v0.6h-0.6zM26.5 17.6h0.6v0.6h-0.6zM16.6 17.6h0.6v0.6h-0.6zM18.2 8.4h0.6v0.6h-0.6zM15.5 9.0h0.6v0.6h-0.6zM23.0 12.4h0.6v0.6h-0.6zM33.7 26.6h0.6v0.6h-0.6zM27.1 14.9h0.6v0.6h-0.6zM2.3 1.3h0.6v0.6h-0.6zM16.8 15.4h0.6v0.6h-0.6zM8.0 6.8h0.6v0.6h-0.6zM3.5 0.4h0.6v0.6h-0.6zM6.6 33.2h0.6v0.6h-0.6zM8.4 10.0h0.6v0.6h-0.6zM32.6 18.3h0.6v0.6h-0.6zM25.3 12.2h0.6v0.6h-0.6zM29.0 1.8h0.6v0.6h-0.6zM23.8 30.6h0.6v0.6h-0.6zM10.7 31.8h0.6v0.6h-0.6zM13.3 6.3h0.6v0.6h-0.6zM15.0 14.2h0.6v0.6h-0.6zM10.0 12.7h0.6v0.6h-0.6zM14.3 5.7h0.6v0.6h-0.6zM26.2 22.5h0.6v0.6h-0.6zM2.6 26.6h0.6v0.6h-0.6zM9.4 25.8h0.6v0.6h-0.6zM16.3 23.0h0.6v0.6h-0.6zM23.0 0.6h0.6v0.6h-0.6zM22.0 7.8h0.6v0.6h-0.6zM24.6 17.5h0.6v0.6h-0.6zM3.6 23.9h0.6v0.6h-0.6zM6.1 13.1h0.6v0.6h-0.6z" fill="#bddef1"/></pattern><pattern id="sp6" width="41" height="41" patternUnits="userSpaceOnUse"><path d="M18.4 32.8h0.6v0.6h-0.6zM34.5 37.4h0.6v0.6h-0.6zM1.0 35.7h0.6v0.6h-0.6zM11.0 20.6h0.6v0.6h-0.6zM11.9 15.1h0.6v0.6h-0.6zM40.7 18.3h0.6v0.6h-0.6zM9.3 7.2h0.6v0.6h-0.6zM1.9 20.3h0.6v0.6h-0.6zM17.1 9.5h0.6v0.6h-0.6zM26.6 6.6h0.6v0.6h-0.6zM6.3 15.6h0.6v0.6h-0.6zM34.4 2.6h0.6v0.6h-0.6zM8.1 19.3h0.6v0.6h-0.6zM28.9 28.5h0.6v0.6h-0.6zM6.6 26.7h0.6v0.6h-0.6zM36.2 40.0h0.6v0.6h-0.6zM8.3 36.3h0.6v0.6h-0.6zM30.0 26.0h0.6v0.6h-0.6zM34.4 36.8h0.6v0.6h-0.6zM10.5 18.2h0.6v0.6h-0.6zM3.8 32.8h0.6v0.6h-0.6zM24.0 11.7h0.6v0.6h-0.6zM20.5 21.6h0.6v0.6h-0.6zM19.7 40.2h0.6v0.6h-0.6zM32.0 24.6h0.6v0.6h-0.6zM19.0 20.8h0.6v0.6h-0.6zM20.4 32.3h0.6v0.6h-0.6zM20.0 12.8h0.6v0.6h-0.6zM18.6 34.1h0.6v0.6h-0.6zM16.6 0.8h0.6v0.6h-0.6zM6.6 9.8h0.6v0.6h-0.6zM12.1 7.3h0.6v0.6h-0.6zM10.9 10.6h0.6v0.6h-0.6zM10.2 38.8h0.6v0.6h-0.6zM32.1 1.0h0.6v0.6h-0.6zM4.7 12.2h0.6v0.6h-0.6zM8.4 23.6h0.6v0.6h-0.6zM21.6 28.8h0.6v0.6h-0.6zM12.8 31.7h0.6v0.6h-0.6zM9.8 15.7h0.6v0.6h-0.6zM15.3 9.0h0.6v0.6h-0.6zM20.6 34.9h0.6v0.6h-0.6zM27.6 5.0h0.6v0.6h-0.6zM39.9 2.7h0.6v0.6h-0.6zM35.0 9.5h0.6v0.6h-0.6zM17.6 20.2h0.6v0.6h-0.6zM18.5 38.6h0.6v0.6h-0.6zM17.0 29.9h0.6v0.6h-0.6zM9.8 23.1h0.6v0.6h-0.6zM39.0 21.4h0.6v0.6h-0.6zM2.8 28.4h0.6v0.6h-0.6zM8.4 25.7h0.6v0.6h-0.6zM27.1 13.8h0.6v0.6h-0.6zM24.2 3.8h0.6v0.6h-0.6zM11.4 8.2h0.6v0.6h-0.6zM38.4 32.1h0.6v0.6h-0.6zM16.8 26.0h0.6v0.6h-0.6zM24.4 32.7h0.6v0.6h-0.6zM3.7 1.8h0.6v0.6h-0.6zM36.5 36.9h0.6v0.6h-0.6zM4.2 15.7h0.6v0.6h-0.6zM16.2 38.0h0.6v0.6h-0.6zM36.3 24.4h0.6v0.6h-0.6zM38.7 22.4h0.6v0.6h-0.6zM37.1 33.5h0.6v0.6h-0.6zM33.9 25.6h0.6v0.6h-0.6zM9.6 27.7h0.6v0.6h-0.6zM1.3 6.5h0.6v0.6h-0.6zM18.5 24.8h0.6v0.6h-0.6zM2.6 14.6h0.6v0.6h-0.6zM39.4 3.1h0.6v0.6h-0.6zM0.3 5.5h0.6v0.6h-0.6zM13.3 19.7h0.6v0.6h-0.6zM8.3 10.8h0.6v0.6h-0.6zM0.6 31.4h0.6v0.6h-0.6zM20.5 5.0h0.6v0.6h-0.6zM3.1 0.6h0.6v0.6h-0.6zM36.9 40.9h0.6v0.6h-0.6zM28.2 12.8h0.6v0.6h-0.6zM15.2 20.9h0.6v0.6h-0.6zM34.5 8.6h0.6v0.6h-0.6zM32.7 8.6h0.6v0.6h-0.6zM13.4 16.5h0.6v0.6h-0.6zM34.7 32.4h0.6v0.6h-0.6zM38.1 1.6h0.6v0.6h-0.6zM25.4 34.3h0.6v0.6h-0.6zM14.4 40.6h0.6v0.6h-0.6zM36.9 22.9h0.6v0.6h-0.6zM38.7 14.8h0.6v0.6h-0.6zM14.2 9.6h0.6v0.6h-0.6zM3.5 7.5h0.6v0.6h-0.6zM35.6 13.3h0.6v0.6h-0.6zM27.3 34.9h0.6v0.6h-0.6zM9.5 0.1h0.6v0.6h-0.6zM23.2 32.2h0.6v0.6h-0.6zM12.6 27.4h0.6v0.6h-0.6zM37.7 0.8h0.6v0.6h-0.6zM14.0 2.9h0.6v0.6h-0.6zM8.0 30.1h0.6v0.6h-0.6zM1.8 27.6h0.6v0.6h-0.6zM14.0 12.9h0.6v0.6h-0.6zM40.6 35.3h0.6v0.6h-0.6zM9.0 8.6h0.6v0.6h-0.6zM18.8 17.5h0.6v0.6h-0.6zM39.9 4.7h0.6v0.6h-0.6zM0.3 26.5h0.6v0.6h-0.6zM12.1 3.6h0.6v0.6h-0.6zM33.7 7.4h0.6v0.6h-0.6zM3.9 31.4h0.6v0.6h-0.6zM38.1 20.5h0.6v0.6h-0.6zM34.2 27.1h0.6v0.6h-0.6zM5.9 30.1h0.6v0.6h-0.6zM24.3 24.9h0.6v0.6h-0.6zM22.8 8.1h0.6v0.6h-0.6zM28.4 28.6h0.6v0.6h-0.6zM12.6 4.8h0.6v0.6h-0.6zM15.8 11.1h0.6v0.6h-0.6zM9.9 18.4h0.6v0.6h-0.6zM12.0 4.7h0.6v0.6h-0.6zM7.2 4.3h0.6v0.6h-0.6zM37.1 26.7h0.6v0.6h-0.6zM36.4 30.4h0.6v0.6h-0.6zM14.8 15.2h0.6v0.6h-0.6zM28.4 16.0h0.6v0.6h-0.6zM20.1 8.5h0.6v0.6h-0.6zM11.5 21.4h0.6v0.6h-0.6zM14.3 23.8h0.6v0.6h-0.6zM39.6 38.3h0.6v0.6h-0.6zM14.0 1.7h0.6v0.6h-0.6zM23.7 37.3h0.6v0.6h-0.6zM38.7 40.6h0.6v0.6h-0.6zM12.2 14.2h0.6v0.6h-0.6zM33.2 29.8h0.6v0.6h-0.6zM4.7 33.8h0.6v0.6h-0.6zM30.1 26.7h0.6v0.6h-0.6zM33.1 11.8h0.6v0.6h-0.6zM34.3 25.5h0.6v0.6h-0.6zM40.0 36.0h0.6v0.6h-0.6zM29.1 4.4h0.6v0.6h-0.6zM40.1 19.7h0.6v0.6h-0.6zM11.4 0.9h0.6v0.6h-0.6zM21.4 34.6h0.6v0.6h-0.6zM8.8 31.9h0.6v0.6h-0.6zM3.4 1.9h0.6v0.6h-0.6zM18.0 30.6h0.6v0.6h-0.6zM29.5 28.4h0.6v0.6h-0.6zM31.9 5.2h0.6v0.6h-0.6zM0.7 21.5h0.6v0.6h-0.6zM38.6 28.3h0.6v0.6h-0.6zM10.1 13.8h0.6v0.6h-0.6zM12.0 20.7h0.6v0.6h-0.6zM34.1 40.0h0.6v0.6h-0.6zM36.7 26.1h0.6v0.6h-0.6zM30.2 20.6h0.6v0.6h-0.6zM13.6 2.7h0.6v0.6h-0.6zM19.0 5.0h0.6v0.6h-0.6zM34.2 34.9h0.6v0.6h-0.6zM14.6 30.4h0.6v0.6h-0.6zM33.0 34.2h0.6v0.6h-0.6zM32.1 23.7h0.6v0.6h-0.6zM19.2 23.6h0.6v0.6h-0.6zM36.8 21.8h0.6v0.6h-0.6zM15.8 30.1h0.6v0.6h-0.6zM30.7 13.5h0.6v0.6h-0.6zM26.2 20.4h0.6v0.6h-0.6zM13.6 19.3h0.6v0.6h-0.6zM21.8 27.1h0.6v0.6h-0.6zM24.8 8.9h0.6v0.6h-0.6zM22.0 1.0h0.6v0.6h-0.6zM4.5 3.6h0.6v0.6h-0.6zM40.6 7.3h0.6v0.6h-0.6zM39.6 35.1h0.6v0.6h-0.6zM1.5 29.4h0.6v0.6h-0.6zM38.7 30.7h0.6v0.6h-0.6zM21.8 18.2h0.6v0.6h-0.6zM5.2 4.2h0.6v0.6h-0.6zM33.6 19.1h0.6v0.6h-0.6zM17.8 35.4h0.6v0.6h-0.6zM29.2 20.9h0.6v0.6h-0.6zM33.9 25.9h0.6v0.6h-0.6zM22.1 15.3h0.6v0.6h-0.6zM2.0 6.2h0.6v0.6h-0.6zM33.7 25.7h0.6v0.6h-0.6zM28.5 19.9h0.6v0.6h-0.6zM37.3 14.2h0.6v0.6h-0.6zM11.1 10.6h0.6v0.6h-0.6zM32.2 28.5h0.6v0.6h-0.6zM35.8 13.0h0.6v0.6h-0.6zM14.6 23.6h0.6v0.6h-0.6zM16.8 10.6h0.6v0.6h-0.6zM13.7 30.9h0.6v0.6h-0.6zM0.2 15.4h0.6v0.6h-0.6zM9.5 19.6h0.6v0.6h-0.6zM13.6 38.0h0.6v0.6h-0.6zM4.4 29.5h0.6v0.6h-0.6zM31.4 30.2h0.6v0.6h-0.6zM17.5 13.9h0.6v0.6h-0.6zM23.3 34.5h0.6v0.6h-0.6zM11.7 15.8h0.6v0.6h-0.6zM14.8 40.5h0.6v0.6h-0.6zM30.9 36.7h0.6v0.6h-0.6zM19.3 27.0h0.6v0.6h-0.6zM24.5 34.1h0.6v0.6h-0.6zM17.3 22.3h0.6v0.6h-0.6zM22.8 30.1h0.6v0.6h-0.6zM36.8 5.1h0.6v0.6h-0.6zM11.0 40.5h0.6v0.6h-0.6zM21.3 32.8h0.6v0.6h-0.6zM28.2 5.8h0.6v0.6h-0.6zM3.6 9.9h0.6v0.6h-0.6zM39.4 23.6h0.6v0.6h-0.6zM20.4 31.3h0.6v0.6h-0.6zM10.1 6.1h0.6v0.6h-0.6zM31.2 39.4h0.6v0.6h-0.6zM33.4 14.2h0.6v0.6h-0.6zM25.9 40.8h0.6v0.6h-0.6zM37.6 30.9h0.6v0.6h-0.6zM3.6 19.9h0.6v0.6h-0.6zM21.6 14.9h0.6v0.6h-0.6zM30.5 4.0h0.6v0.6h-0.6zM37.6 3.6h0.6v0.6h-0.6zM26.3 25.8h0.6v0.6h-0.6zM24.7 31.7h0.6v0.6h-0.6zM15.9 37.2h0.6v0.6h-0.6zM23.4 15.0h0.6v0.6h-0.6zM22.7 38.4h0.6v0.6h-0.6zM37.1 12.2h0.6v0.6h-0.6zM33.9 38.5h0.6v0.6h-0.6zM30.2 37.7h0.6v0.6h-0.6zM37.9 6.4h0.6v0.6h-0.6zM2.7 35.3h0.6v0.6h-0.6zM31.6 28.9h0.6v0.6h-0.6zM19.0 28.8h0.6v0.6h-0.6zM30.8 34.5h0.6v0.6h-0.6zM12.1 22.0h0.6v0.6h-0.6zM19.2 20.8h0.6v0.6h-0.6zM33.8 15.0h0.6v0.6h-0.6zM1.4 35.5h0.6v0.6h-0.6zM11.9 36.9h0.6v0.6h-0.6zM20.0 6.6h0.6v0.6h-0.6zM34.9 31.7h0.6v0.6h-0.6zM11.1 11.3h0.6v0.6h-0.6zM33.7 7.5h0.6v0.6h-0.6zM10.0 8.1h0.6v0.6h-0.6zM12.4 23.5h0.6v0.6h-0.6zM22.7 11.5h0.6v0.6h-0.6zM26.8 9.9h0.6v0.6h-0.6zM36.1 4.0h0.6v0.6h-0.6zM36.1 13.3h0.6v0.6h-0.6zM10.3 31.7h0.6v0.6h-0.6zM30.6 0.9h0.6v0.6h-0.6zM26.0 19.8h0.6v0.6h-0.6zM15.8 24.7h0.6v0.6h-0.6zM31.8 2.0h0.6v0.6h-0.6zM36.8 12.1h0.6v0.6h-0.6zM19.6 37.2h0.6v0.6h-0.6zM37.6 40.8h0.6v0.6h-0.6zM5.2 34.9h0.6v0.6h-0.6zM6.8 7.0h0.6v0.6h-0.6zM31.3 31.3h0.6v0.6h-0.6zM12.5 18.5h0.6v0.6h-0.6zM24.0 7.0h0.6v0.6h-0.6zM20.4 19.7h0.6v0.6h-0.6zM6.0 37.8h0.6v0.6h-0.6zM30.9 36.0h0.6v0.6h-0.6zM30.4 16.1h0.6v0.6h-0.6zM6.0 2.6h0.6v0.6h-0.6zM10.7 36.9h0.6v0.6h-0.6z" fill="#bddef1"/></pattern>
<clipPath id="c10"><rect x="51.00" y="89.15" width="69.3" height="69.0"/></clipPath>
<clipPath id="c20"><rect x="51.00" y="161.90" width="69.3" height="69.0"/></clipPath>
<clipPath id="c21"><rect x="123.70" y="161.90" width="69.3" height="69.0"/></clipPath>
<clipPath id="c30"><rect x="51.00" y="234.65" width="69.3" height="69.0"/></clipPath>
<clipPath id="c31"><rect x="123.70" y="234.65" width="69.3" height="69.0"/></clipPath>
<clipPath id="c32"><rect x="196.40" y="234.65" width="69.3" height="69.0"/></clipPath>
<clipPath id="c40"><rect x="51.00" y="307.40" width="69.3" height="69.0"/></clipPath>
<clipPath id="c41"><rect x="123.70" y="307.40" width="69.3" height="69.0"/></clipPath>
<clipPath id="c42"><rect x="196.40" y="307.40" width="69.3" height="69.0"/></clipPath>
<clipPath id="c43"><rect x="269.10" y="307.40" width="69.3" height="69.0"/></clipPath>
<clipPath id="c50"><rect x="51.00" y="380.15" width="69.3" height="69.0"/></clipPath>
<clipPath id="c51"><rect x="123.70" y="380.15" width="69.3" height="69.0"/></clipPath>
<clipPath id="c52"><rect x="196.40" y="380.15" width="69.3" height="69.0"/></clipPath>
<clipPath id="c53"><rect x="269.10" y="380.15" width="69.3" height="69.0"/></clipPath>
<clipPath id="c54"><rect x="341.80" y="380.15" width="69.3" height="69.0"/></clipPath>
<clipPath id="c60"><rect x="51.00" y="452.90" width="69.3" height="69.0"/></clipPath>
<clipPath id="c61"><rect x="123.70" y="452.90" width="69.3" height="69.0"/></clipPath>
<clipPath id="c62"><rect x="196.40" y="452.90" width="69.3" height="69.0"/></clipPath>
<clipPath id="c63"><rect x="269.10" y="452.90" width="69.3" height="69.0"/></clipPath>
<clipPath id="c64"><rect x="341.80" y="452.90" width="69.3" height="69.0"/></clipPath>
<clipPath id="c65"><rect x="414.50" y="452.90" width="69.3" height="69.0"/></clipPath>
<clipPath id="c70"><rect x="51.00" y="525.65" width="69.3" height="69.0"/></clipPath>
<clipPath id="c71"><rect x="123.70" y="525.65" width="69.3" height="69.0"/></clipPath>
<clipPath id="c72"><rect x="196.40" y="525.65" width="69.3" height="69.0"/></clipPath>
<clipPath id="c73"><rect x="269.10" y="525.65" width="69.3" height="69.0"/></clipPath>
<clipPath id="c74"><rect x="341.80" y="525.65" width="69.3" height="69.0"/></clipPath>
<clipPath id="c75"><rect x="414.50" y="525.65" width="69.3" height="69.0"/></clipPath>
<clipPath id="c76"><rect x="487.20" y="525.65" width="69.3" height="69.0"/></clipPath>
<clipPath id="c80"><rect x="51.00" y="598.40" width="69.3" height="69.0"/></clipPath>
<clipPath id="c81"><rect x="123.70" y="598.40" width="69.3" height="69.0"/></clipPath>
<clipPath id="c82"><rect x="196.40" y="598.40" width="69.3" height="69.0"/></clipPath>
<clipPath id="c83"><rect x="269.10" y="598.40" width="69.3" height="69.0"/></clipPath>
<clipPath id="c84"><rect x="341.80" y="598.40" width="69.3" height="69.0"/></clipPath>
<clipPath id="c85"><rect x="414.50" y="598.40" width="69.3" height="69.0"/></clipPath>
<clipPath id="c86"><rect x="487.20" y="598.40" width="69.3" height="69.0"/></clipPath>
<clipPath id="c87"><rect x="559.90" y="598.40" width="69.3" height="69.0"/></clipPath>
</defs>
<g clip-path="url(#c10)">
<g filter="url(#hb)" fill="#6fb0d9" fill-opacity="0.08">
<path id="h100" d="M62.5 152.7L60.5 152.7L59.0 152.4L57.6 151.7L56.7 150.7L55.8 148.2L56.2 144.2L57.7 139.7L60.8 133.7L64.7 127.7L69.4 121.7L74.1 116.2L80.0 110.2L83.0 107.4L86.5 104.9L93.0 101.2L99.0 97.2L101.5 96.0L103.5 95.4L105.5 95.2L107.0 95.5L108.5 96.4L110.0 98.7L110.6 101.7L110.4 105.7L109.4 111.7L108.3 115.7L106.7 119.7L104.7 123.2L102.5 126.2L99.5 129.4L93.0 135.3L86.5 140.5L81.0 144.5L75.5 147.8L70.5 150.3L66.0 152.0L62.5 152.7Z"/>
<path id="h101" d="M68.0 147.7L64.5 148.0L62.3 147.2L61.5 146.4L60.9 145.2L60.7 142.2L61.7 138.2L63.8 133.7L66.8 128.7L70.8 123.2L79.2 113.7L83.0 110.0L86.0 107.6L92.5 103.6L98.5 99.4L101.0 98.0L103.0 97.3L104.5 97.2L106.0 97.5L107.0 98.0L108.2 99.7L108.8 101.7L108.8 104.2L108.2 107.7L106.7 113.7L105.3 117.7L103.2 121.7L101.2 124.7L98.5 127.6L94.0 131.8L89.0 136.0L84.0 139.7L75.5 144.9L71.5 146.7L68.0 147.7Z"/>
<path id="h102" d="M71.5 143.7L68.5 144.1L66.5 143.6L65.1 142.2L64.7 139.7L65.4 136.2L67.2 132.2L69.8 127.7L73.1 123.2L80.0 115.2L83.5 111.7L86.5 109.3L92.5 105.5L98.0 101.3L100.5 99.7L103.5 98.9L105.0 99.1L105.9 99.7L106.7 100.7L107.3 102.7L107.3 105.2L106.8 107.7L103.4 117.7L101.9 120.7L99.9 123.7L97.5 126.4L93.5 130.1L85.0 136.8L77.5 141.4L74.5 142.8L71.5 143.7Z"/>
<path id="h103" d="M72.5 140.2L70.5 139.9L69.1 138.7L68.7 137.2L69.0 134.7L70.1 131.7L71.9 128.2L77.3 120.7L81.0 116.5L85.0 112.5L87.5 110.6L93.0 107.0L98.5 102.5L100.5 101.3L102.0 100.8L103.5 100.7L104.5 101.2L105.3 102.2L105.8 103.7L105.7 105.7L105.2 108.2L101.2 118.2L99.6 121.2L97.8 123.7L91.5 129.6L84.0 135.3L77.5 138.9L75.0 139.7L72.5 140.2Z"/>
<path id="h104" d="M77.0 136.2L75.0 136.4L73.5 135.8L72.7 134.7L72.7 132.7L73.4 130.2L74.6 127.7L79.0 121.2L82.5 117.2L86.0 113.7L93.5 108.5L98.5 104.2L100.0 103.2L101.5 102.7L102.5 102.7L103.5 103.2L104.0 104.0L104.2 105.2L103.5 108.7L99.4 118.2L96.6 122.7L92.0 127.1L86.5 131.5L81.5 134.5L77.0 136.2Z"/>
<path id="h105" d="M80.5 131.7L79.0 131.9L78.0 131.5L77.4 130.7L77.3 129.2L77.9 127.2L78.9 125.2L82.0 120.7L85.1 117.2L88.0 114.4L94.0 110.6L99.0 106.2L100.5 105.6L101.5 106.0L101.8 107.2L101.1 109.7L97.2 118.2L95.0 121.7L91.5 125.1L87.5 128.2L83.5 130.6L80.5 131.7Z"/>
</g>
<use href="#h100" fill="url(#sp0)"/>
<use href="#h101" fill="url(#sp1)"/>
<use href="#h102" fill="url(#sp2)"/>
<use href="#h103" fill="url(#sp3)"/>
<use href="#h104" fill="url(#sp4)"/>
<use href="#h105" fill="url(#sp5)"/>
<path d="M79.5 132.2L77.5 132.2L76.5 131.5L76.0 130.2L76.2 128.2L77.1 125.7L78.8 122.7L83.7 116.2L89.5 110.3L94.0 107.4L96.5 106.5L98.5 106.2L100.0 106.3L101.5 107.0L102.4 108.2L102.7 109.2L102.7 110.7L102.3 112.7L100.7 116.2L98.1 119.7L93.5 124.0L88.5 127.8L83.5 130.8L79.5 132.2Z" fill="#f3f8fc"/>
<path d="M83.0 128.2L81.5 128.2L80.5 127.7L80.1 126.7L80.1 125.7L80.8 123.7L81.8 121.7L85.1 117.2L89.3 112.7L92.5 110.2L96.0 108.8L97.5 108.7L99.0 109.2L100.0 110.7L100.1 112.7L99.2 115.2L97.2 118.2L94.0 121.4L89.5 124.9L86.0 127.0L83.0 128.2Z" fill="#ddecf6"/>
<path d="M86.0 124.2L85.0 124.2L84.5 123.9L84.2 123.2L84.3 122.2L85.5 119.7L88.1 116.2L90.6 113.7L93.0 112.0L95.5 111.2L97.0 111.7L97.5 112.7L97.5 114.2L96.9 115.7L95.5 117.7L93.0 120.1L90.5 122.0L88.0 123.5L86.0 124.2Z" fill="#c9e2f1"/>
<path d="M89.5 120.2L88.5 120.2L88.3 119.7L88.6 118.7L89.5 117.1L92.0 114.6L93.5 113.8L94.5 113.9L95.0 114.7L94.9 115.2L94.0 116.9L91.5 119.1L89.5 120.2Z" fill="#aed4ea"/>
<path d="M79.5 132.2L77.5 132.2L76.5 131.5L76.0 130.2L76.2 128.2L77.1 125.7L78.8 122.7L83.7 116.2L89.5 110.3L94.0 107.4L96.5 106.5L98.5 106.2L100.0 106.3L101.5 107.0L102.4 108.2L102.7 109.2L102.7 110.7L102.3 112.7L100.7 116.2L98.1 119.7L93.5 124.0L88.5 127.8L83.5 130.8L79.5 132.2ZM83.0 128.2L81.5 128.2L80.5 127.7L80.1 126.7L80.1 125.7L80.8 123.7L81.8 121.7L85.1 117.2L89.3 112.7L92.5 110.2L96.0 108.8L97.5 108.7L99.0 109.2L100.0 110.7L100.1 112.7L99.2 115.2L97.2 118.2L94.0 121.4L89.5 124.9L86.0 127.0L83.0 128.2ZM86.0 124.2L85.0 124.2L84.5 123.9L84.2 123.2L84.3 122.2L85.5 119.7L88.1 116.2L90.6 113.7L93.0 112.0L95.5 111.2L97.0 111.7L97.5 112.7L97.5 114.2L96.9 115.7L95.5 117.7L93.0 120.1L90.5 122.0L88.0 123.5L86.0 124.2ZM89.5 120.2L88.5 120.2L88.3 119.7L88.6 118.7L89.5 117.1L92.0 114.6L93.5 113.8L94.5 113.9L95.0 114.7L94.9 115.2L94.0 116.9L91.5 119.1L89.5 120.2Z" fill="none" stroke="#b3d7ed" stroke-width="0.8"/>
</g>
<g clip-path="url(#c20)">
<g filter="url(#hb)" fill="#6fb0d9" fill-opacity="0.065">
<path id="h200" d="M108.0 230.9L59.9 230.9L59.9 173.9L60.1 171.4L61.0 170.5L63.5 169.7L67.5 169.2L85.5 168.7L103.5 168.8L105.0 169.1L105.9 169.9L107.9 173.9L108.3 176.4L108.4 230.9L108.0 230.9Z"/>
<path id="h201" d="M106.5 230.9L63.0 230.9L63.0 174.9L63.3 171.9L63.9 170.9L65.5 170.2L69.0 169.7L84.0 169.2L103.0 169.3L104.5 169.5L105.5 170.2L106.7 173.9L106.8 176.4L106.9 230.9L106.5 230.9Z"/>
<path id="h202" d="M106.0 230.9L66.5 230.9L66.5 175.4L66.9 172.4L67.4 171.4L68.0 171.0L70.2 170.4L73.0 170.1L87.5 169.6L103.0 169.8L104.5 170.1L105.0 170.6L105.8 172.9L106.1 176.4L106.0 230.9Z"/>
<path id="h203" d="M105.0 230.9L71.3 230.9L71.3 176.4L71.8 173.4L73.4 171.9L75.0 171.3L78.0 170.8L89.0 170.2L102.0 170.6L103.8 170.9L104.5 171.5L105.2 173.4L105.4 176.9L105.4 230.9L105.0 230.9Z"/>
<path id="h204" d="M104.0 230.9L76.2 230.9L76.3 176.4L76.9 173.9L78.0 172.9L79.0 172.4L81.5 171.8L85.0 171.3L94.0 171.1L101.4 171.9L103.0 172.4L104.0 173.4L104.5 177.4L104.5 230.9L104.0 230.9Z"/>
<path id="h205" d="M101.0 230.9L80.8 230.9L80.9 176.9L81.1 175.4L81.5 174.4L82.7 173.4L84.0 172.9L89.5 172.1L95.6 172.4L99.4 173.4L100.6 174.4L101.0 175.4L101.3 179.4L101.3 230.9L101.0 230.9Z"/>
</g>
<use href="#h200" fill="url(#sp0)"/>
<use href="#h201" fill="url(#sp1)"/>
<use href="#h202" fill="url(#sp2)"/>
<use href="#h203" fill="url(#sp3)"/>
<use href="#h204" fill="url(#sp4)"/>
<use href="#h205" fill="url(#sp5)"/>
<path d="M99.0 230.9L81.3 230.9L81.3 180.4L81.6 178.4L82.1 177.4L83.0 176.7L84.5 176.0L91.0 175.6L95.5 175.8L98.0 176.8L98.9 177.9L99.2 178.9L99.6 184.4L99.4 192.9L99.6 215.9L99.4 230.9L99.0 230.9Z" fill="#f3f8fc"/>
<path d="M97.5 230.9L83.0 230.9L83.1 180.9L83.2 179.4L83.7 178.4L84.5 177.7L85.5 177.3L91.5 176.9L95.0 177.1L96.7 177.9L97.5 178.9L97.8 179.9L98.2 184.4L97.8 192.9L98.2 214.9L97.8 230.9L97.5 230.9Z" fill="#ddecf6"/>
<path d="M95.5 230.9L86.5 230.9L86.4 212.9L86.5 193.9L86.1 185.4L86.2 182.4L86.5 180.9L87.3 179.9L89.0 179.2L92.0 178.7L94.0 178.9L95.0 179.4L96.0 181.2L96.5 183.9L96.4 186.4L95.5 192.4L96.4 204.9L96.6 212.9L96.3 222.4L95.5 230.9Z" fill="#c9e2f1"/>
<path d="M93.0 187.1L92.0 186.9L91.5 186.4L91.0 184.9L91.3 183.4L92.5 182.4L93.0 182.4L93.7 182.9L94.3 184.4L94.0 186.2L93.0 187.1ZM93.0 223.4L92.5 223.1L92.0 222.0L91.5 220.0L90.9 212.9L91.5 205.9L92.0 203.9L92.5 202.9L93.0 202.6L93.5 202.9L93.9 203.9L94.4 205.9L94.9 212.9L94.4 219.9L94.0 221.9L93.5 223.1L93.0 223.4Z" fill="#aed4ea"/>
<path d="M81.3 230.9L81.3 182.9L81.5 178.9L82.1 177.4L84.0 176.2L86.5 175.7L92.5 175.6L95.5 175.8L97.5 176.5L98.9 177.9L99.4 179.9L99.6 184.4L99.4 192.9L99.4 230.9M83.0 230.9L83.1 179.9L83.7 178.4L85.2 177.4L87.5 177.1L92.5 176.9L95.0 177.1L96.7 177.9L97.7 179.4L98.1 181.9L98.2 185.4L97.8 193.4L98.2 214.4L97.8 230.9M86.5 230.9L86.4 212.9L86.5 193.9L86.1 185.4L86.2 182.4L86.5 180.9L87.5 179.8L90.0 179.0L92.5 178.7L94.1 178.9L95.4 179.9L96.1 181.4L96.5 183.9L96.4 186.4L95.5 192.4L96.4 204.4L96.6 212.4L96.4 221.4L95.6 230.9M93.0 187.1L92.0 186.9L91.5 186.4L91.0 184.9L91.3 183.4L92.5 182.4L93.0 182.4L93.7 182.9L94.3 184.4L94.0 186.2L93.0 187.1ZM93.0 223.4L92.5 223.1L92.0 222.0L91.5 220.0L90.9 212.9L91.5 205.9L92.0 203.9L92.5 202.9L93.0 202.6L93.5 202.9L93.9 203.9L94.4 205.9L94.9 212.9L94.4 219.9L94.0 221.9L93.5 223.1L93.0 223.4Z" fill="none" stroke="#b3d7ed" stroke-width="0.8"/>
</g>
<g clip-path="url(#c21)">
<g filter="url(#hb)" fill="#6fb0d9" fill-opacity="0.065">
<path id="h210" d="M192.7 230.9L129.4 230.9L129.4 175.9L129.2 173.9L128.7 171.9L128.9 170.9L130.4 169.9L133.7 169.1L145.7 168.2L154.2 168.1L174.2 168.7L192.7 168.9L192.7 230.9Z"/>
<path id="h211" d="M192.7 230.9L132.3 230.9L132.3 175.9L132.1 173.9L131.4 171.9L131.5 170.9L133.4 169.9L136.2 169.3L147.2 168.6L155.7 168.6L175.7 169.3L192.7 169.4L192.7 230.9Z"/>
<path id="h212" d="M192.7 230.9L135.3 230.9L135.4 175.9L135.0 173.9L133.9 171.9L134.1 170.9L135.7 170.1L138.7 169.5L148.7 168.9L156.7 169.0L176.7 169.8L192.7 170.0L192.7 230.9Z"/>
<path id="h213" d="M192.7 230.9L139.1 230.9L139.1 175.4L138.6 173.9L136.8 171.9L136.7 171.4L137.0 170.9L139.2 170.1L143.2 169.6L155.2 169.4L179.8 170.9L189.0 171.9L192.7 172.8L192.7 230.9Z"/>
<path id="h214" d="M179.7 230.9L143.5 230.9L143.6 175.4L142.9 173.9L140.0 171.9L139.9 171.4L140.3 170.9L143.7 170.1L149.2 169.8L156.2 169.9L163.2 170.4L174.7 172.0L177.5 172.9L178.4 173.4L179.3 174.4L179.7 175.9L179.8 178.9L179.7 230.9Z"/>
<path id="h215" d="M173.2 230.9L148.7 230.9L148.8 174.9L148.2 173.8L144.5 171.9L144.3 171.4L145.1 170.9L148.2 170.5L151.7 170.3L160.0 170.9L166.0 171.9L170.2 172.9L172.3 173.9L173.1 174.9L173.5 176.4L173.6 180.4L173.6 230.9L173.2 230.9Z"/>
</g>
<use href="#h210" fill="url(#sp0)"/>
<use href="#h211" fill="url(#sp1)"/>
<use href="#h212" fill="url(#sp2)"/>
<use href="#h213" fill="url(#sp3)"/>
<use href="#h214" fill="url(#sp4)"/>
<use href="#h215" fill="url(#sp5)"/>
<path d="M170.2 230.9L152.7 230.9L152.7 179.9L153.0 177.9L153.5 176.9L154.2 176.3L155.7 175.6L160.7 175.2L166.7 175.4L169.2 176.4L170.1 177.4L170.4 178.4L170.8 184.9L170.6 192.9L170.6 230.9L170.2 230.9Z" fill="#f3f8fc"/>
<path d="M168.7 230.9L154.4 230.9L154.5 180.4L154.7 178.9L155.2 177.9L155.7 177.4L157.2 176.8L163.2 176.5L166.2 176.7L167.2 177.1L168.2 177.8L168.9 179.4L169.3 184.9L168.9 192.4L169.2 214.4L168.9 230.9L168.7 230.9Z" fill="#ddecf6"/>
<path d="M165.7 230.9L158.8 230.9L158.2 222.4L157.9 208.4L158.6 192.9L157.8 186.4L157.8 182.9L158.2 181.1L158.9 179.9L160.7 179.0L163.2 178.6L165.2 178.8L166.2 179.6L167.1 181.4L167.5 183.9L167.4 186.4L166.4 190.9L166.3 192.9L167.3 205.9L167.3 217.4L166.5 227.9L166.1 230.9L165.7 230.9Z" fill="#c9e2f1"/>
<path d="M164.2 186.5L163.2 186.4L162.7 185.8L162.4 184.9L162.7 183.6L163.7 182.9L164.7 183.4L165.1 184.4L164.8 185.9L164.2 186.5ZM163.7 221.2L163.2 220.9L162.7 220.1L162.2 218.4L161.6 211.9L162.2 205.6L162.7 203.9L163.2 203.1L163.7 202.8L164.2 203.1L164.6 203.9L165.1 205.9L165.6 211.9L165.2 217.9L164.7 219.8L164.2 220.9L163.7 221.2Z" fill="#aed4ea"/>
<path d="M152.7 230.9L152.7 182.4L152.9 178.4L153.7 176.7L155.7 175.6L158.2 175.3L163.2 175.1L166.2 175.3L168.7 176.1L170.1 177.4L170.5 178.9L170.8 184.4L170.6 192.9L170.6 230.9M154.4 230.9L154.6 179.4L155.2 177.9L156.7 177.0L163.2 176.5L166.2 176.7L167.7 177.4L168.7 178.9L169.2 181.4L169.3 185.4L168.9 193.4L169.2 214.4L168.9 230.9M158.8 230.9L158.2 222.4L157.9 212.9L158.0 204.4L158.6 192.9L157.8 186.4L157.8 182.9L158.3 180.9L159.2 179.7L161.1 178.9L163.7 178.6L165.2 178.8L166.2 179.6L167.1 181.4L167.5 183.9L167.4 186.4L166.3 192.4L167.2 203.9L167.5 212.4L167.1 221.4L166.1 230.9M164.2 186.5L163.2 186.4L162.7 185.8L162.4 184.9L162.7 183.6L163.7 182.9L164.7 183.4L165.1 184.4L164.8 185.9L164.2 186.5ZM163.7 221.2L163.2 220.9L162.7 220.1L162.2 218.4L161.6 211.9L162.2 205.6L162.7 203.9L163.2 203.1L163.7 202.8L164.2 203.1L164.6 203.9L165.1 205.9L165.6 211.9L165.2 217.9L164.7 219.8L164.2 220.9L163.7 221.2Z" fill="none" stroke="#b3d7ed" stroke-width="0.8"/>
</g>
<g clip-path="url(#c30)">
<g filter="url(#hb)" fill="#6fb0d9" fill-opacity="0.065">
<path id="h300" d="M100.0 303.6L77.3 303.6L69.0 292.6L67.4 289.1L66.7 285.6L66.6 283.1L67.0 280.1L67.6 277.1L68.8 273.6L71.7 267.6L76.4 260.6L81.0 255.2L85.0 251.8L90.0 249.1L92.5 248.3L95.0 247.9L97.5 247.9L99.5 248.3L102.5 249.6L103.5 250.9L104.0 252.2L104.6 256.1L104.8 264.1L104.0 276.6L104.0 287.6L103.7 294.1L103.1 297.6L102.5 299.9L101.0 302.8L100.4 303.6L100.0 303.6Z"/>
<path id="h301" d="M93.5 303.6L84.4 303.6L81.0 301.2L74.5 293.7L71.8 290.1L70.1 286.1L69.7 281.6L70.6 276.1L72.7 270.6L76.1 264.6L80.7 258.6L84.0 255.2L88.0 252.5L92.0 250.9L96.0 250.5L98.0 250.7L100.0 251.4L102.0 252.7L103.0 254.0L104.0 257.8L104.1 264.6L103.6 269.6L102.1 277.1L102.0 287.1L101.1 293.1L99.8 296.6L98.0 299.6L96.0 301.9L93.5 303.6Z"/>
<path id="h302" d="M90.0 299.7L87.0 299.6L84.0 298.1L81.0 295.5L75.9 290.1L74.0 287.5L72.7 284.6L72.3 281.6L72.4 278.6L73.5 274.1L75.6 269.1L78.7 264.1L83.0 258.6L86.0 255.9L89.5 253.9L93.0 252.8L96.5 252.8L98.5 253.4L100.0 254.2L101.1 255.2L102.2 256.6L103.2 260.1L103.1 265.6L102.3 269.1L99.6 277.1L98.8 287.1L97.4 292.6L96.0 295.4L94.1 297.6L92.0 299.1L90.0 299.7Z"/>
<path id="h303" d="M89.0 293.7L86.5 293.4L84.0 292.2L80.0 289.2L77.4 286.6L76.0 284.6L75.1 282.1L74.8 279.6L75.1 276.6L76.2 272.6L78.3 268.1L81.2 263.6L84.5 259.6L87.0 257.5L90.0 255.8L93.0 255.0L95.5 255.0L97.0 255.4L98.5 256.1L100.5 258.3L101.5 261.3L101.4 265.1L100.3 269.1L97.0 277.1L95.2 285.6L94.0 289.1L93.0 291.0L92.0 292.2L90.5 293.3L89.0 293.7Z"/>
<path id="h304" d="M87.5 287.2L85.5 287.2L83.0 286.5L80.7 285.1L79.0 283.4L78.0 281.5L77.4 279.1L77.4 276.6L77.9 274.1L79.1 270.6L81.0 267.1L83.4 263.6L86.0 260.6L88.5 258.6L91.0 257.4L93.5 257.0L95.5 257.3L97.8 258.6L99.1 260.6L99.6 263.6L99.2 266.6L98.2 269.6L94.9 276.1L91.5 283.8L89.6 286.1L87.5 287.2Z"/>
<path id="h305" d="M87.0 281.2L85.5 281.6L84.0 281.5L82.5 280.7L81.5 279.6L80.8 278.1L80.5 276.1L80.6 274.1L81.3 271.6L83.8 266.6L87.5 262.0L89.0 260.8L91.0 259.9L93.0 259.6L94.5 259.9L96.0 260.9L97.0 262.6L97.2 265.1L96.7 267.6L95.0 271.0L91.0 277.3L89.0 279.7L87.0 281.2Z"/>
</g>
<use href="#h300" fill="url(#sp0)"/>
<use href="#h301" fill="url(#sp1)"/>
<use href="#h302" fill="url(#sp2)"/>
<use href="#h303" fill="url(#sp3)"/>
<use href="#h304" fill="url(#sp4)"/>
<use href="#h305" fill="url(#sp5)"/>
<path d="M82.0 280.2L79.5 280.6L77.5 280.3L76.0 279.1L75.4 277.6L75.3 275.1L76.1 272.1L77.8 268.6L79.6 265.6L82.2 262.1L85.3 258.6L88.0 256.0L90.5 254.2L93.5 252.5L96.5 251.6L99.0 251.3L101.0 251.8L102.0 253.0L102.4 254.2L102.8 258.6L102.2 263.1L101.5 265.1L100.6 266.6L97.0 270.7L91.5 275.2L86.5 278.4L82.0 280.2Z" fill="#f3f8fc"/>
<path d="M83.5 276.2L82.0 276.2L80.5 275.6L79.8 274.6L79.5 272.6L80.0 270.6L80.8 268.6L84.2 263.1L88.5 258.4L92.5 255.6L94.5 254.8L96.5 254.4L98.5 254.6L99.7 255.2L100.5 255.9L101.0 257.1L101.1 260.1L100.2 263.1L98.4 266.1L95.0 269.6L91.0 272.8L87.0 275.1L83.5 276.2Z" fill="#ddecf6"/>
<path d="M87.5 271.7L86.0 272.0L85.0 271.9L84.1 271.1L83.8 270.1L84.0 268.6L84.5 267.1L86.6 263.6L89.7 260.1L92.5 258.2L94.0 257.6L95.5 257.4L96.5 257.6L97.5 258.1L98.2 259.1L98.3 261.1L97.7 263.1L96.5 265.0L94.6 267.1L92.0 269.3L89.5 270.9L87.5 271.7Z" fill="#c9e2f1"/>
<path d="M89.5 267.7L88.5 267.6L88.0 266.6L88.5 265.1L89.4 263.6L92.0 261.1L93.5 260.5L94.7 260.6L95.2 261.1L95.3 262.1L94.5 264.1L92.0 266.5L89.5 267.7Z" fill="#aed4ea"/>
<path d="M82.0 280.2L79.5 280.6L77.5 280.3L76.0 279.1L75.4 277.6L75.3 275.1L76.1 272.1L77.8 268.6L79.6 265.6L82.2 262.1L85.3 258.6L88.0 256.0L90.5 254.2L93.5 252.5L96.5 251.6L99.0 251.3L101.0 251.8L102.0 253.0L102.4 254.2L102.8 258.6L102.2 263.1L101.5 265.1L100.6 266.6L97.0 270.7L91.5 275.2L86.5 278.4L82.0 280.2ZM83.5 276.2L82.0 276.2L80.5 275.6L79.8 274.6L79.5 272.6L80.0 270.6L80.8 268.6L84.2 263.1L88.5 258.4L92.5 255.6L94.5 254.8L96.5 254.4L98.5 254.6L99.7 255.2L100.5 255.9L101.0 257.1L101.1 260.1L100.2 263.1L98.4 266.1L95.0 269.6L91.0 272.8L87.0 275.1L83.5 276.2ZM87.5 271.7L86.0 272.0L85.0 271.9L84.1 271.1L83.8 270.1L84.0 268.6L84.5 267.1L86.6 263.6L89.7 260.1L92.5 258.2L94.0 257.6L95.5 257.4L96.5 257.6L97.5 258.1L98.2 259.1L98.3 261.1L97.7 263.1L96.5 265.0L94.6 267.1L92.0 269.3L89.5 270.9L87.5 271.7ZM89.5 267.7L88.5 267.6L88.0 266.6L88.5 265.1L89.4 263.6L92.0 261.1L93.5 260.5L94.7 260.6L95.2 261.1L95.3 262.1L94.5 264.1L92.0 266.5L89.5 267.7Z" fill="none" stroke="#b3d7ed" stroke-width="0.8"/>
</g>
<g clip-path="url(#c31)">
<g filter="url(#hb)" fill="#6fb0d9" fill-opacity="0.065">
<path id="h310" d="M169.2 303.6L141.9 303.6L135.7 300.8L133.2 298.9L131.5 296.1L130.8 292.1L130.9 289.1L131.6 285.6L132.9 281.6L134.4 278.1L138.5 271.1L144.3 263.6L151.2 255.9L156.2 251.8L159.2 250.1L162.2 248.8L165.2 247.9L168.2 247.6L170.7 247.7L172.7 248.2L174.7 249.2L176.5 250.7L178.0 252.7L178.9 254.7L179.4 256.6L179.6 259.1L179.4 262.1L178.8 265.1L175.4 274.6L174.6 277.6L174.5 280.6L175.1 287.6L174.4 293.6L173.5 296.6L172.2 299.6L170.3 302.6L169.5 303.6L169.2 303.6Z"/>
<path id="h311" d="M161.2 303.6L151.9 303.6L138.7 297.2L136.3 295.1L135.0 292.6L134.5 289.6L134.7 286.1L136.4 280.1L140.0 273.1L145.0 266.1L151.9 258.1L156.2 254.5L160.7 251.9L165.2 250.5L169.2 250.5L171.2 251.0L172.7 251.7L174.2 252.9L175.6 254.7L176.8 258.1L176.8 262.6L175.6 267.6L172.2 275.6L171.2 278.6L170.9 281.6L170.9 289.1L170.4 292.1L169.7 294.6L168.2 297.6L166.2 300.3L163.7 302.5L161.2 303.6Z"/>
<path id="h312" d="M157.7 299.7L154.7 299.6L151.7 298.9L143.7 295.7L140.4 293.6L138.7 291.6L137.7 289.1L137.5 286.1L137.9 283.1L139.9 277.6L143.0 272.1L147.7 265.6L153.7 258.9L157.2 256.0L161.2 253.8L165.2 252.8L168.7 252.9L170.2 253.4L171.7 254.3L173.0 255.7L173.9 257.1L174.7 260.6L174.3 265.1L172.9 269.1L169.5 276.1L168.3 279.1L167.7 282.1L167.0 289.1L165.5 293.6L164.2 295.8L162.2 297.8L160.2 299.0L157.7 299.7Z"/>
<path id="h313" d="M156.2 294.2L153.2 294.3L148.7 293.4L145.2 292.2L142.8 290.6L141.3 288.6L140.6 286.6L140.5 283.6L141.2 280.6L143.0 276.1L145.9 271.1L150.4 265.1L155.2 259.9L158.2 257.5L161.7 255.8L164.7 255.1L167.7 255.3L170.3 256.6L171.2 257.7L172.0 259.1L172.5 262.1L171.9 266.1L170.4 270.1L165.8 278.6L163.1 287.1L161.8 290.1L160.7 291.6L159.2 293.0L157.7 293.8L156.2 294.2Z"/>
<path id="h314" d="M153.2 289.7L150.2 289.8L147.7 289.2L145.7 288.1L144.3 286.6L143.6 284.6L143.4 282.1L143.9 279.6L145.0 276.6L147.2 272.6L149.9 268.6L153.5 264.1L156.9 260.6L159.7 258.7L162.2 257.7L164.7 257.3L167.2 257.8L169.2 259.4L170.2 261.8L170.2 265.1L169.1 268.6L159.2 286.0L156.7 288.4L155.2 289.2L153.2 289.7Z"/>
<path id="h315" d="M151.7 285.2L150.2 285.1L148.7 284.4L147.6 283.1L147.1 281.6L147.1 279.6L147.5 277.6L149.5 273.1L153.7 267.1L158.4 262.1L160.2 261.0L162.2 260.2L164.2 260.1L165.7 260.5L167.2 262.1L167.7 264.1L167.4 266.6L166.2 269.6L160.2 278.4L157.2 282.2L154.7 284.2L153.2 284.9L151.7 285.2Z"/>
</g>
<use href="#h310" fill="url(#sp0)"/>
<use href="#h311" fill="url(#sp1)"/>
<use href="#h312" fill="url(#sp2)"/>
<use href="#h313" fill="url(#sp3)"/>
<use href="#h314" fill="url(#sp4)"/>
<use href="#h315" fill="url(#sp5)"/>
<path d="M152.7 280.2L150.2 280.5L148.2 279.8L147.2 278.6L146.8 276.6L147.4 273.6L148.6 270.6L150.5 267.1L153.0 263.6L158.8 257.1L161.7 254.8L164.2 253.3L167.2 252.0L169.7 251.5L172.2 251.7L174.2 252.7L175.0 253.7L175.6 255.2L175.8 256.6L175.6 258.6L174.2 262.6L171.7 266.6L167.7 270.9L162.2 275.4L157.2 278.5L152.7 280.2Z" fill="#f3f8fc"/>
<path d="M154.7 276.2L152.7 276.0L151.7 275.3L151.2 274.1L151.1 272.6L151.6 270.6L152.7 268.1L156.5 262.6L160.7 258.2L164.7 255.5L166.7 254.8L168.7 254.5L170.2 254.7L171.7 255.5L172.5 256.6L172.8 257.6L172.6 260.1L171.5 263.1L169.5 266.1L165.7 269.9L161.7 273.0L157.7 275.3L154.7 276.2Z" fill="#ddecf6"/>
<path d="M158.7 271.7L157.2 272.0L156.2 271.8L155.6 271.1L155.3 270.1L155.9 267.6L158.0 264.1L161.0 260.6L163.7 258.6L166.7 257.5L168.7 257.9L169.7 259.1L169.8 260.6L169.2 262.6L168.1 264.6L166.3 266.6L163.7 268.9L161.2 270.6L158.7 271.7Z" fill="#c9e2f1"/>
<path d="M160.7 267.7L159.7 267.3L159.6 266.6L160.1 265.1L161.0 263.6L163.7 261.1L165.2 260.5L166.2 260.6L166.7 261.1L166.8 262.1L165.9 264.1L163.2 266.6L160.7 267.7Z" fill="#aed4ea"/>
<path d="M152.7 280.2L150.2 280.5L148.2 279.8L147.2 278.6L146.8 276.6L147.4 273.6L148.6 270.6L150.5 267.1L153.0 263.6L158.8 257.1L161.7 254.8L164.2 253.3L167.2 252.0L169.7 251.5L172.2 251.7L174.2 252.7L175.0 253.7L175.6 255.2L175.8 256.6L175.6 258.6L174.2 262.6L171.7 266.6L167.7 270.9L162.2 275.4L157.2 278.5L152.7 280.2ZM154.7 276.2L152.7 276.0L151.7 275.3L151.2 274.1L151.1 272.6L151.6 270.6L152.7 268.1L156.5 262.6L160.7 258.2L164.7 255.5L166.7 254.8L168.7 254.5L170.2 254.7L171.7 255.5L172.5 256.6L172.8 257.6L172.6 260.1L171.5 263.1L169.5 266.1L165.7 269.9L161.7 273.0L157.7 275.3L154.7 276.2ZM158.7 271.7L157.2 272.0L156.2 271.8L155.6 271.1L155.3 270.1L155.9 267.6L158.0 264.1L161.0 260.6L163.7 258.6L166.7 257.5L168.7 257.9L169.7 259.1L169.8 260.6L169.2 262.6L168.1 264.6L166.3 266.6L163.7 268.9L161.2 270.6L158.7 271.7ZM160.7 267.7L159.7 267.3L159.6 266.6L160.1 265.1L161.0 263.6L163.7 261.1L165.2 260.5L166.2 260.6L166.7 261.1L166.8 262.1L165.9 264.1L163.2 266.6L160.7 267.7Z" fill="none" stroke="#b3d7ed" stroke-width="0.8"/>
</g>
<g clip-path="url(#c32)">
<g filter="url(#hb)" fill="#6fb0d9" fill-opacity="0.045">
<path id="h320" d="M252.4 291.7L196.4 291.8L196.4 246.0L250.9 246.1L253.4 246.3L254.4 246.9L255.2 248.2L255.9 250.1L257.2 256.1L258.1 263.1L258.1 270.1L257.2 279.6L255.4 288.4L254.4 290.6L253.4 291.4L252.4 291.7Z"/>
<path id="h321" d="M251.9 287.2L196.4 287.3L196.4 249.3L249.9 249.4L252.4 249.5L253.9 249.9L254.9 251.1L255.4 252.1L256.7 257.1L257.5 264.1L257.5 270.6L256.7 278.1L255.4 283.9L254.9 285.2L253.9 286.5L251.9 287.2Z"/>
<path id="h322" d="M252.4 283.7L196.4 283.8L196.4 252.2L249.9 252.2L252.4 252.3L253.9 252.8L254.9 254.0L255.4 255.0L256.3 258.6L257.0 264.6L257.0 270.1L256.4 275.6L255.4 280.5L254.4 282.6L253.4 283.4L252.4 283.7Z"/>
<path id="h323" d="M252.4 280.7L196.4 280.8L196.4 254.7L249.4 254.7L251.9 254.8L253.4 255.2L254.4 256.0L254.9 256.8L255.8 259.6L256.4 264.1L256.4 269.1L256.0 274.1L255.2 277.6L253.9 280.0L252.4 280.7Z"/>
<path id="h324" d="M249.9 278.2L196.4 278.2L196.4 257.1L248.9 257.1L252.9 257.4L254.4 258.6L255.6 262.1L255.9 267.1L255.5 272.6L254.9 275.4L253.9 277.2L252.4 278.0L249.9 278.2Z"/>
<path id="h325" d="M252.9 274.7L251.4 275.0L248.9 275.1L196.4 275.1L196.4 259.8L248.4 259.8L252.4 260.0L253.4 260.5L254.4 261.9L254.9 263.7L255.1 266.1L255.0 269.6L254.6 272.1L253.9 273.8L252.9 274.7Z"/>
</g>
<use href="#h320" fill="url(#sp0)"/>
<use href="#h321" fill="url(#sp1)"/>
<use href="#h322" fill="url(#sp2)"/>
<path d="M245.9 275.7L196.4 275.7L196.4 257.1L244.4 257.1L247.9 257.3L249.9 257.7L251.9 259.2L252.7 260.6L253.1 262.1L253.4 266.1L252.8 271.6L251.8 273.6L250.4 274.8L248.4 275.5L245.9 275.7Z" fill="#f3f8fc"/>
<path d="M244.9 274.2L196.4 274.2L196.4 258.6L242.9 258.6L248.4 259.0L250.2 260.1L251.1 262.1L251.5 265.6L251.1 270.6L250.5 272.1L249.4 273.3L247.9 273.9L244.9 274.2Z" fill="#ddecf6"/>
<path d="M246.4 271.7L240.9 272.0L196.4 272.0L196.4 260.8L209.4 260.4L225.9 260.7L241.9 260.7L246.4 261.0L247.4 261.4L248.4 262.1L249.0 263.6L249.2 265.6L248.9 268.6L248.5 270.1L247.6 271.1L246.4 271.7Z" fill="#c9e2f1"/>
<path d="M220.9 266.7L218.9 266.8L215.4 265.8L210.9 267.0L207.4 267.0L204.5 266.1L203.7 265.6L203.2 264.6L203.9 263.6L206.9 262.6L210.9 262.6L215.4 263.6L218.9 262.7L220.4 262.7L222.4 263.6L223.0 264.6L222.4 265.9L220.9 266.7Z" fill="#aed4ea"/>
<path d="M196.4 257.1L242.9 257.1L248.4 257.3L250.7 258.1L252.2 259.6L253.1 262.1L253.4 265.6L253.1 270.1L252.4 272.6L250.9 274.5L248.4 275.5L242.9 275.7L196.4 275.7M196.4 258.6L246.9 258.8L249.4 259.5L250.6 260.6L251.3 262.6L251.5 265.6L251.2 269.6L250.8 271.6L249.6 273.1L247.4 274.0L241.9 274.2L196.4 274.2M196.4 260.8L208.9 260.4L244.9 260.8L246.9 261.1L248.4 262.1L249.0 263.6L249.2 265.6L248.9 268.6L248.4 270.3L247.4 271.3L245.4 271.8L196.4 272.0M220.9 266.7L218.9 266.8L215.4 265.8L210.9 267.0L207.4 267.0L204.5 266.1L203.7 265.6L203.2 264.6L203.9 263.6L206.9 262.6L210.9 262.6L215.4 263.6L218.9 262.7L220.4 262.7L222.4 263.6L223.0 264.6L222.4 265.9L220.9 266.7Z" fill="none" stroke="#b3d7ed" stroke-width="0.8"/>
</g>
<g clip-path="url(#c40)">
<g filter="url(#hb)" fill="#6fb0d9" fill-opacity="0.065">
<path id="h400" d="M104.5 376.4L77.7 376.4L73.7 371.9L70.9 367.9L69.0 364.4L67.9 360.9L67.3 355.4L68.1 349.4L70.1 342.9L73.2 336.4L77.7 329.4L81.5 325.0L86.0 321.7L88.5 320.5L91.0 319.7L95.5 319.2L99.5 319.9L102.5 321.0L103.5 322.2L104.0 323.6L104.7 328.4L105.0 335.9L105.1 362.4L104.5 376.4Z"/>
<path id="h401" d="M103.5 376.4L101.7 376.4L100.5 372.0L100.0 370.9L99.5 370.5L98.5 371.1L95.0 374.7L91.8 376.4L86.0 376.4L83.5 375.3L79.5 372.2L74.8 366.9L72.3 362.9L70.7 358.4L70.3 353.4L71.1 347.9L73.1 341.9L76.2 335.9L80.1 329.9L83.0 326.7L87.0 323.9L91.5 322.2L94.0 321.9L96.0 322.0L100.0 323.2L102.7 324.9L103.5 326.3L103.9 327.9L104.5 335.4L104.7 360.9L104.2 372.9L103.8 376.4L103.5 376.4Z"/>
<path id="h402" d="M103.0 373.0L102.5 372.6L102.0 371.1L100.5 362.2L99.8 359.9L99.5 359.7L99.0 360.7L96.7 366.4L94.5 369.4L93.0 370.6L91.5 371.4L90.0 371.8L88.0 371.9L86.0 371.5L84.0 370.6L82.0 369.2L79.3 366.9L75.5 362.3L74.2 359.9L73.3 357.4L72.8 352.9L73.3 348.4L74.8 343.4L77.3 337.9L80.6 332.4L83.5 328.9L87.0 326.2L91.0 324.5L95.0 324.2L98.5 325.2L102.0 327.7L103.0 329.3L103.5 330.9L104.0 336.4L104.2 360.9L103.8 368.9L103.5 371.7L103.0 373.0Z"/>
<path id="h403" d="M88.5 366.4L86.0 366.2L83.5 365.1L80.5 362.9L78.0 360.2L76.5 357.6L75.6 354.9L75.3 351.9L75.6 348.4L76.8 343.9L78.7 339.4L81.2 334.9L84.0 331.2L86.5 328.9L89.5 327.2L92.5 326.5L95.0 326.6L97.0 327.2L98.8 328.4L100.6 330.4L101.8 332.4L102.5 334.4L102.7 336.4L102.5 342.1L102.0 343.1L100.5 343.9L99.0 346.5L97.7 350.4L95.9 357.9L94.0 362.4L93.0 363.9L91.5 365.3L90.0 366.1L88.5 366.4ZM103.0 363.5L102.5 362.7L102.2 359.4L102.5 352.9L103.0 352.9L103.3 356.4L103.0 363.5Z"/>
<path id="h404" d="M87.5 360.9L85.5 360.9L83.0 359.9L81.0 358.5L79.5 356.7L78.4 354.4L77.9 351.9L77.8 349.4L78.2 346.4L79.3 342.9L80.8 339.4L83.0 335.6L85.4 332.4L87.5 330.5L90.0 329.2L92.5 328.7L94.5 328.8L97.0 330.0L98.9 332.4L99.8 335.4L99.6 338.9L98.7 341.9L92.5 356.9L91.5 358.4L90.0 359.9L87.5 360.9Z"/>
<path id="h405" d="M87.5 355.1L86.0 355.4L84.5 355.1L83.0 354.3L81.9 352.9L81.2 351.4L80.8 349.4L80.9 346.9L81.4 344.4L83.6 338.9L87.0 333.9L88.5 332.7L90.0 331.9L92.0 331.4L93.5 331.5L95.5 332.5L96.8 334.4L97.3 336.9L97.0 339.4L95.5 343.3L91.5 351.0L89.5 353.7L87.5 355.1Z"/>
</g>
<use href="#h400" fill="url(#sp0)"/>
<use href="#h401" fill="url(#sp1)"/>
<use href="#h402" fill="url(#sp2)"/>
<use href="#h403" fill="url(#sp3)"/>
<use href="#h404" fill="url(#sp4)"/>
<use href="#h405" fill="url(#sp5)"/>
<path d="M81.0 352.9L79.0 352.7L77.5 351.9L76.5 350.4L76.0 347.9L76.3 345.4L77.4 341.9L78.8 338.9L81.2 334.9L83.8 331.4L86.5 328.4L88.5 326.7L91.0 325.2L93.5 324.2L96.0 323.7L98.5 323.9L100.5 324.8L101.5 325.9L102.0 327.2L102.5 331.9L101.9 336.4L100.2 339.9L96.0 344.5L90.5 349.0L85.5 351.8L83.0 352.6L81.0 352.9Z" fill="#f3f8fc"/>
<path d="M85.0 348.4L83.0 348.5L81.5 348.0L80.5 346.9L80.1 345.4L80.2 343.4L80.9 340.9L83.4 335.9L87.5 330.6L91.0 327.9L93.0 327.1L95.0 326.7L97.0 326.9L98.5 327.5L100.1 329.4L100.6 331.9L100.2 334.9L98.8 337.9L96.0 341.3L92.0 344.8L88.5 347.1L85.0 348.4Z" fill="#ddecf6"/>
<path d="M88.0 344.0L86.5 344.2L85.5 344.1L84.6 343.4L84.2 342.4L84.2 340.9L84.5 339.4L86.3 335.9L89.0 332.3L91.5 330.4L94.0 329.6L95.5 329.8L96.5 330.2L97.5 331.4L97.8 332.9L97.6 334.9L96.7 336.9L95.2 338.9L92.5 341.4L90.0 343.1L88.0 344.0Z" fill="#c9e2f1"/>
<path d="M90.5 339.6L89.0 339.9L88.3 339.4L88.2 338.4L88.8 336.4L90.2 334.4L91.5 333.1L93.0 332.6L94.0 332.7L94.5 333.0L95.0 333.9L94.6 335.9L93.0 337.9L90.5 339.6Z" fill="#aed4ea"/>
<path d="M81.0 352.9L79.0 352.7L77.5 351.9L76.5 350.4L76.0 347.9L76.3 345.4L77.4 341.9L78.8 338.9L81.2 334.9L83.8 331.4L86.5 328.4L88.5 326.7L91.0 325.2L93.5 324.2L96.0 323.7L98.5 323.9L100.5 324.8L101.5 325.9L102.0 327.2L102.5 331.9L101.9 336.4L100.2 339.9L96.0 344.5L90.5 349.0L85.5 351.8L83.0 352.6L81.0 352.9ZM85.0 348.4L83.0 348.5L81.5 348.0L80.5 346.9L80.1 345.4L80.2 343.4L80.9 340.9L83.4 335.9L87.5 330.6L91.0 327.9L93.0 327.1L95.0 326.7L97.0 326.9L98.5 327.5L100.1 329.4L100.6 331.9L100.2 334.9L98.8 337.9L96.0 341.3L92.0 344.8L88.5 347.1L85.0 348.4ZM88.0 344.0L86.5 344.2L85.5 344.1L84.6 343.4L84.2 342.4L84.2 340.9L84.5 339.4L86.3 335.9L89.0 332.3L91.5 330.4L94.0 329.6L95.5 329.8L96.5 330.2L97.5 331.4L97.8 332.9L97.6 334.9L96.7 336.9L95.2 338.9L92.5 341.4L90.0 343.1L88.0 344.0ZM90.5 339.6L89.0 339.9L88.3 339.4L88.2 338.4L88.8 336.4L90.2 334.4L91.5 333.1L93.0 332.6L94.0 332.7L94.5 333.0L95.0 333.9L94.6 335.9L93.0 337.9L90.5 339.6Z" fill="none" stroke="#b3d7ed" stroke-width="0.8"/>
</g>
<g clip-path="url(#c41)">
<g filter="url(#hb)" fill="#6fb0d9" fill-opacity="0.065">
<path id="h410" d="M168.2 376.4L139.0 376.4L135.8 374.4L133.7 371.9L132.5 368.9L132.0 364.9L132.2 361.4L132.9 357.4L133.9 353.9L135.4 349.9L139.5 342.4L145.6 333.9L150.7 327.8L155.7 323.7L158.2 322.2L161.2 320.9L164.2 320.1L166.7 319.8L169.2 320.0L171.7 320.6L174.2 321.9L176.0 323.4L177.6 325.4L178.5 327.4L179.3 329.9L179.6 332.9L179.5 335.9L179.0 338.9L175.5 351.4L175.0 361.4L174.1 366.4L173.1 369.4L171.6 372.4L169.5 375.4L168.6 376.4L168.2 376.4Z"/>
<path id="h411" d="M158.7 376.4L153.1 376.4L149.7 375.6L143.2 373.4L139.2 371.1L136.9 368.4L135.8 365.4L135.5 361.9L135.9 357.4L137.9 350.9L140.8 344.9L145.8 337.4L151.8 329.9L155.7 326.5L160.2 324.0L164.7 322.8L168.7 323.0L170.7 323.6L172.7 324.7L174.4 326.4L175.7 328.4L176.4 330.4L176.9 332.9L176.9 335.4L176.6 338.4L175.5 342.4L172.4 351.4L170.8 362.4L170.1 365.4L169.1 367.9L167.2 371.0L164.7 373.6L161.7 375.5L158.7 376.4Z"/>
<path id="h412" d="M158.2 371.9L154.7 372.3L150.2 371.8L145.2 370.3L142.0 368.4L140.1 366.4L138.8 363.4L138.3 359.9L138.7 355.9L140.5 350.4L143.5 344.4L147.8 337.9L153.0 331.4L156.7 328.3L160.2 326.3L164.2 325.3L167.7 325.4L169.7 326.1L171.2 327.0L172.6 328.4L173.5 329.9L174.3 331.9L174.6 333.9L174.7 336.4L174.3 338.9L173.0 343.4L169.8 351.4L167.6 360.9L166.1 364.9L164.7 367.4L162.7 369.6L160.7 370.9L158.2 371.9Z"/>
<path id="h413" d="M154.7 368.0L151.2 368.0L147.7 367.2L145.2 366.0L143.2 364.3L141.8 361.9L141.3 359.4L141.3 355.9L142.1 352.4L144.0 347.9L146.8 342.9L151.0 336.9L154.7 332.4L157.7 330.0L161.2 328.3L164.2 327.7L167.2 328.0L168.7 328.6L170.2 329.8L171.2 331.1L172.0 332.9L172.4 334.9L172.4 336.9L171.6 341.4L167.2 351.4L164.4 359.4L162.7 362.7L161.2 364.7L159.2 366.4L157.2 367.4L154.7 368.0Z"/>
<path id="h414" d="M154.2 363.9L151.2 364.1L148.7 363.6L146.7 362.5L145.2 360.9L144.3 358.9L144.0 356.4L144.3 353.4L145.2 350.4L147.0 346.4L149.3 342.4L152.9 337.4L156.2 333.6L158.7 331.7L161.2 330.5L163.7 330.0L166.2 330.4L168.5 331.9L169.9 334.4L170.2 337.9L169.3 341.9L162.4 356.4L160.7 359.4L159.2 361.1L157.7 362.4L156.2 363.3L154.2 363.9Z"/>
<path id="h415" d="M153.7 359.5L151.7 359.7L150.2 359.3L148.7 358.2L147.8 356.9L147.4 354.9L147.5 352.9L148.0 350.4L149.0 347.9L152.7 341.4L155.7 337.4L157.7 335.3L159.7 333.9L161.7 333.1L163.7 333.0L165.2 333.4L166.7 334.7L167.6 336.9L167.5 339.4L166.6 342.4L161.7 351.5L159.2 355.4L156.7 358.0L155.2 359.0L153.7 359.5Z"/>
</g>
<use href="#h410" fill="url(#sp0)"/>
<use href="#h411" fill="url(#sp1)"/>
<use href="#h412" fill="url(#sp2)"/>
<use href="#h413" fill="url(#sp3)"/>
<use href="#h414" fill="url(#sp4)"/>
<use href="#h415" fill="url(#sp5)"/>
<path d="M152.7 353.5L150.2 353.4L148.7 352.6L147.6 350.9L147.3 348.9L147.8 345.9L149.0 342.4L150.5 339.4L153.0 335.4L158.0 329.4L160.2 327.5L162.7 325.9L165.7 324.7L168.2 324.3L170.2 324.5L172.2 325.3L173.4 326.4L174.2 327.9L174.6 329.4L174.7 331.4L173.9 335.4L171.5 339.9L167.2 344.7L161.7 349.3L156.7 352.2L152.7 353.5Z" fill="#f3f8fc"/>
<path d="M156.2 349.0L154.2 349.2L152.7 348.7L151.9 347.9L151.4 346.4L151.5 344.4L152.0 342.4L153.0 339.9L154.8 336.9L158.7 331.8L162.2 328.9L164.2 327.9L166.2 327.4L168.2 327.4L169.7 327.9L171.2 329.4L171.9 331.9L171.5 334.9L169.8 338.4L167.2 341.6L163.2 345.2L159.7 347.5L156.2 349.0Z" fill="#ddecf6"/>
<path d="M159.2 344.5L157.7 344.9L156.7 344.7L156.1 344.4L155.5 343.4L155.4 341.9L155.8 340.4L157.5 336.9L160.2 333.3L162.7 331.3L165.2 330.3L166.7 330.3L167.7 330.7L168.7 331.9L169.1 333.4L168.8 335.4L167.8 337.4L166.3 339.4L163.7 341.9L161.2 343.6L159.2 344.5Z" fill="#c9e2f1"/>
<path d="M161.2 340.4L160.2 340.5L159.5 339.9L159.6 338.4L160.2 336.9L161.7 334.9L162.7 334.0L164.2 333.3L165.4 333.4L166.0 333.9L166.2 334.9L165.6 336.9L163.7 338.9L161.2 340.4Z" fill="#aed4ea"/>
<path d="M152.7 353.5L150.2 353.4L148.7 352.6L147.6 350.9L147.3 348.9L147.8 345.9L149.0 342.4L150.5 339.4L153.0 335.4L158.0 329.4L160.2 327.5L162.7 325.9L165.7 324.7L168.2 324.3L170.2 324.5L172.2 325.3L173.4 326.4L174.2 327.9L174.6 329.4L174.7 331.4L173.9 335.4L171.5 339.9L167.2 344.7L161.7 349.3L156.7 352.2L152.7 353.5ZM156.2 349.0L154.2 349.2L152.7 348.7L151.9 347.9L151.4 346.4L151.5 344.4L152.0 342.4L153.0 339.9L154.8 336.9L158.7 331.8L162.2 328.9L164.2 327.9L166.2 327.4L168.2 327.4L169.7 327.9L171.2 329.4L171.9 331.9L171.5 334.9L169.8 338.4L167.2 341.6L163.2 345.2L159.7 347.5L156.2 349.0ZM159.2 344.5L157.7 344.9L156.7 344.7L156.1 344.4L155.5 343.4L155.4 341.9L155.8 340.4L157.5 336.9L160.2 333.3L162.7 331.3L165.2 330.3L166.7 330.3L167.7 330.7L168.7 331.9L169.1 333.4L168.8 335.4L167.8 337.4L166.3 339.4L163.7 341.9L161.2 343.6L159.2 344.5ZM161.2 340.4L160.2 340.5L159.5 339.9L159.6 338.4L160.2 336.9L161.7 334.9L162.7 334.0L164.2 333.3L165.4 333.4L166.0 333.9L166.2 334.9L165.6 336.9L163.7 338.9L161.2 340.4Z" fill="none" stroke="#b3d7ed" stroke-width="0.8"/>
</g>
<g clip-path="url(#c42)">
<g filter="url(#hb)" fill="#6fb0d9" fill-opacity="0.045">
<path id="h420" d="M252.9 366.0L196.4 366.1L196.4 314.4L251.4 314.4L253.9 314.7L254.9 315.3L255.8 316.9L256.4 318.9L257.7 326.4L258.6 335.4L258.6 343.9L257.8 353.4L256.3 361.9L255.6 363.9L254.9 365.1L253.9 365.8L252.9 366.0Z"/>
<path id="h421" d="M253.4 361.9L249.4 362.2L196.4 362.2L196.4 318.0L250.4 318.0L252.9 318.2L254.4 318.7L255.4 320.1L255.9 321.4L257.1 326.9L257.8 333.4L258.0 341.9L257.6 349.4L256.4 356.8L255.2 360.4L254.4 361.4L253.4 361.9Z"/>
<path id="h422" d="M252.9 358.5L196.4 358.6L196.4 321.4L249.9 321.4L252.4 321.5L253.9 321.9L254.9 322.8L255.4 323.7L256.6 327.9L257.3 334.4L257.5 341.9L257.0 348.9L255.9 355.0L254.9 357.2L253.9 358.1L252.9 358.5Z"/>
<path id="h423" d="M253.4 355.0L249.4 355.4L196.4 355.4L196.4 324.7L249.9 324.7L252.4 324.8L253.9 325.2L255.3 326.9L256.1 329.9L256.8 334.9L257.0 340.9L256.7 346.4L255.9 351.2L254.9 353.8L253.4 355.0Z"/>
<path id="h424" d="M249.4 352.4L196.4 352.4L196.4 327.6L249.4 327.6L253.4 328.0L254.4 328.7L254.9 329.5L256.0 333.9L256.4 340.4L255.9 347.1L255.0 350.4L253.9 351.7L252.4 352.3L249.4 352.4Z"/>
<path id="h425" d="M251.9 348.9L196.4 349.0L196.4 331.0L248.9 331.0L252.9 331.3L254.3 332.4L255.0 333.9L255.6 337.4L255.6 341.9L255.3 344.9L254.4 347.5L253.4 348.5L251.9 348.9Z"/>
</g>
<use href="#h420" fill="url(#sp0)"/>
<use href="#h421" fill="url(#sp1)"/>
<use href="#h422" fill="url(#sp2)"/>
<path d="M246.9 349.9L196.4 350.1L196.4 327.3L243.9 327.3L247.4 327.5L249.4 328.1L250.5 328.9L251.3 329.9L252.2 332.4L252.7 336.9L252.4 343.9L251.8 346.4L250.6 348.4L248.9 349.5L246.9 349.9Z" fill="#f3f8fc"/>
<path d="M246.4 347.9L240.9 348.2L196.4 348.2L196.4 329.2L242.4 329.3L245.9 329.4L247.9 329.8L249.4 331.0L250.4 333.4L250.8 336.9L250.5 342.9L250.1 344.9L249.4 346.4L248.2 347.4L246.4 347.9Z" fill="#ddecf6"/>
<path d="M243.9 344.9L196.4 345.1L196.4 332.1L235.4 332.1L242.4 332.2L245.4 332.6L246.9 333.3L247.9 334.8L248.3 336.9L248.2 338.9L247.6 342.4L246.9 343.8L245.9 344.5L243.9 344.9Z" fill="#c9e2f1"/>
<path d="M237.9 338.9L234.4 339.1L226.4 338.7L216.4 339.1L210.4 339.0L203.4 338.2L201.0 337.4L200.6 336.9L200.9 336.4L202.0 335.9L204.4 335.4L209.4 334.9L214.9 334.7L235.9 335.5L238.9 335.9L240.9 336.9L241.0 337.4L240.7 337.9L239.9 338.4L237.9 338.9Z" fill="#aed4ea"/>
<path d="M196.4 327.3L241.9 327.3L247.4 327.5L249.9 328.4L251.3 329.9L252.2 332.4L252.7 336.9L252.4 343.9L251.8 346.4L250.4 348.6L249.4 349.3L247.9 349.8L242.4 350.1L196.4 350.1M196.4 329.2L240.9 329.2L246.4 329.5L248.4 330.1L249.7 331.4L250.5 333.9L250.8 337.4L250.5 342.9L250.0 345.4L248.9 346.9L246.9 347.8L241.4 348.2L196.4 348.2M196.4 332.1L217.9 331.9L243.9 332.3L246.3 332.9L247.4 333.8L248.1 335.4L248.3 337.4L247.8 341.4L247.2 343.4L246.1 344.4L244.4 344.9L196.4 345.1M237.9 338.9L234.4 339.1L226.4 338.7L216.4 339.1L210.4 339.0L203.4 338.2L201.0 337.4L200.6 336.9L200.9 336.4L202.0 335.9L204.4 335.4L209.4 334.9L214.9 334.7L235.9 335.5L238.9 335.9L240.9 336.9L241.0 337.4L240.7 337.9L239.9 338.4L237.9 338.9Z" fill="none" stroke="#b3d7ed" stroke-width="0.8"/>
</g>
<g clip-path="url(#c43)">
<g filter="url(#hb)" fill="#6fb0d9" fill-opacity="0.05">
<path id="h430" d="M338.1 376.4L269.1 376.4L269.1 307.4L338.1 307.4L338.1 376.4Z"/>
<path id="h431" d="M296.6 365.5L292.1 365.9L290.1 365.6L288.1 365.0L286.6 364.3L284.9 362.9L283.7 361.4L282.6 359.4L282.0 357.4L281.7 354.9L281.9 349.9L283.2 344.4L285.7 338.4L289.2 332.4L293.4 326.9L297.6 322.8L302.1 319.5L307.1 317.2L312.1 316.0L316.6 316.1L320.6 317.3L323.1 319.0L325.2 321.4L326.8 324.4L327.5 327.4L327.7 330.9L327.3 334.9L326.2 338.9L324.4 342.9L322.4 346.4L319.8 349.9L316.1 353.8L312.1 357.4L308.6 360.1L304.1 362.8L300.1 364.5L296.6 365.5Z"/>
<path id="h432" d="M298.1 360.5L294.1 360.7L291.1 359.8L288.6 357.9L286.9 354.9L286.3 351.4L286.7 346.9L287.9 342.4L289.9 337.9L292.9 332.9L296.1 328.8L299.6 325.5L303.1 323.0L307.1 321.2L311.1 320.2L314.6 320.3L318.1 321.4L320.2 322.9L321.9 324.9L323.0 327.4L323.6 329.9L323.7 332.9L323.3 335.9L322.4 338.9L320.9 342.4L319.1 345.4L316.7 348.4L313.6 351.6L310.6 354.2L304.6 358.2L301.1 359.7L298.1 360.5Z"/>
<path id="h433" d="M299.6 356.5L296.6 356.6L293.8 355.9L291.9 354.4L290.5 351.9L290.0 348.9L290.3 345.4L291.2 341.9L293.0 337.9L295.4 333.9L298.2 330.4L301.1 327.6L304.1 325.6L307.6 324.1L310.6 323.5L313.6 323.7L316.1 324.6L317.9 325.9L319.1 327.4L320.0 329.4L320.5 331.4L320.6 333.9L320.2 336.4L318.4 341.4L316.9 343.9L315.1 346.3L310.1 351.2L307.6 353.0L304.6 354.8L302.1 355.8L299.6 356.5Z"/>
<path id="h434" d="M301.1 353.0L298.6 353.1L296.6 352.7L294.8 351.4L293.6 349.4L293.2 346.9L293.4 344.4L294.1 341.4L295.4 338.4L297.2 335.4L299.6 332.2L301.6 330.2L304.1 328.4L306.6 327.2L309.6 326.5L312.1 326.5L314.1 327.2L315.6 328.3L316.6 329.4L317.3 330.9L317.8 332.9L317.5 336.9L316.1 340.9L313.6 344.6L309.6 348.5L305.1 351.5L301.1 353.0Z"/>
<path id="h435" d="M303.1 348.9L301.1 349.2L299.6 348.9L298.1 348.0L297.3 346.9L296.9 345.4L296.9 343.4L297.3 341.4L298.2 338.9L301.1 334.3L302.6 332.8L304.6 331.2L306.6 330.2L308.6 329.7L310.6 329.8L312.1 330.3L313.8 331.9L314.6 333.9L314.6 336.9L313.6 339.9L312.1 342.4L309.1 345.5L306.1 347.7L303.1 348.9Z"/>
</g>
<use href="#h430" fill="url(#sp0)"/>
<use href="#h431" fill="url(#sp1)"/>
<use href="#h432" fill="url(#sp2)"/>
<use href="#h433" fill="url(#sp3)"/>
<path d="M298.6 353.9L296.1 353.7L294.5 352.9L293.3 351.4L292.7 348.9L292.7 346.4L293.4 343.4L294.8 339.9L296.7 336.4L298.8 333.4L301.6 330.1L304.1 327.7L307.1 325.6L310.1 324.1L313.1 323.3L315.6 323.3L317.6 324.0L318.7 324.9L319.7 326.4L320.2 328.4L320.3 330.4L319.4 334.9L316.9 339.9L313.1 344.9L308.1 349.5L303.1 352.6L300.6 353.5L298.6 353.9Z" fill="#f3f8fc"/>
<path d="M302.6 349.4L300.6 349.8L298.6 349.5L297.6 348.9L296.6 347.4L296.3 345.4L296.6 342.9L297.5 340.4L299.0 337.4L302.6 332.4L304.6 330.4L307.1 328.6L309.6 327.4L311.6 326.8L313.6 326.9L315.0 327.4L316.1 328.4L316.6 329.3L317.1 331.9L316.5 334.9L315.0 338.4L312.6 341.9L309.6 345.0L306.1 347.7L302.6 349.4Z" fill="#ddecf6"/>
<path d="M304.1 345.5L302.6 345.7L301.6 345.6L300.6 344.9L300.1 343.9L300.0 342.4L300.2 340.9L301.8 337.4L304.3 333.9L307.1 331.6L310.1 330.4L311.6 330.4L312.6 330.9L313.6 332.3L313.8 333.9L313.4 335.9L312.3 338.4L310.9 340.4L308.6 342.7L306.1 344.6L304.1 345.5Z" fill="#c9e2f1"/>
<path d="M305.6 341.5L304.6 341.6L303.8 340.9L303.7 339.4L304.3 337.9L305.6 335.9L306.7 334.9L308.1 334.1L309.6 334.0L310.2 334.4L310.6 335.4L310.1 337.4L308.1 340.0L305.6 341.5Z" fill="#aed4ea"/>
<path d="M298.6 353.9L296.1 353.7L294.5 352.9L293.3 351.4L292.7 348.9L292.7 346.4L293.4 343.4L294.8 339.9L296.7 336.4L298.8 333.4L301.6 330.1L304.1 327.7L307.1 325.6L310.1 324.1L313.1 323.3L315.6 323.3L317.6 324.0L318.7 324.9L319.7 326.4L320.2 328.4L320.3 330.4L319.4 334.9L316.9 339.9L313.1 344.9L308.1 349.5L303.1 352.6L300.6 353.5L298.6 353.9ZM302.6 349.4L300.6 349.8L298.6 349.5L297.6 348.9L296.6 347.4L296.3 345.4L296.6 342.9L297.5 340.4L299.0 337.4L302.6 332.4L304.6 330.4L307.1 328.6L309.6 327.4L311.6 326.8L313.6 326.9L315.0 327.4L316.1 328.4L316.6 329.3L317.1 331.9L316.5 334.9L315.0 338.4L312.6 341.9L309.6 345.0L306.1 347.7L302.6 349.4ZM304.1 345.5L302.6 345.7L301.6 345.6L300.6 344.9L300.1 343.9L300.0 342.4L300.2 340.9L301.8 337.4L304.3 333.9L307.1 331.6L310.1 330.4L311.6 330.4L312.6 330.9L313.6 332.3L313.8 333.9L313.4 335.9L312.3 338.4L310.9 340.4L308.6 342.7L306.1 344.6L304.1 345.5ZM305.6 341.5L304.6 341.6L303.8 340.9L303.7 339.4L304.3 337.9L305.6 335.9L306.7 334.9L308.1 334.1L309.6 334.0L310.2 334.4L310.6 335.4L310.1 337.4L308.1 340.0L305.6 341.5Z" fill="none" stroke="#b3d7ed" stroke-width="0.8"/>
</g>
<g clip-path="url(#c50)">
<g filter="url(#hb)" fill="#6fb0d9" fill-opacity="0.065">
<path id="h500" d="M78.0 444.2L73.5 444.6L69.0 444.4L65.5 443.6L62.5 442.1L60.4 440.1L59.2 437.6L59.1 434.6L60.0 431.6L62.6 427.1L66.5 422.6L72.0 418.0L78.0 413.9L83.5 410.9L87.5 409.5L92.0 408.6L97.5 408.6L98.5 408.3L99.1 406.6L99.4 403.1L99.6 380.1L105.3 380.1L105.3 405.6L104.9 422.1L104.4 427.6L103.5 431.0L102.5 432.7L100.5 434.7L97.5 437.0L95.0 438.4L87.0 441.9L82.0 443.4L78.0 444.2Z"/>
<path id="h501" d="M76.5 441.7L73.0 441.7L69.5 441.1L67.0 440.1L65.0 438.6L63.8 437.1L63.1 435.1L63.3 432.6L64.1 430.1L66.6 426.1L70.3 422.1L75.5 417.9L81.0 414.4L85.0 412.4L89.5 411.1L93.5 410.7L98.5 411.2L99.3 410.6L99.8 409.1L100.1 406.1L100.2 380.1L104.9 380.1L104.8 409.6L104.0 423.6L103.0 427.8L101.6 430.1L99.3 432.6L97.0 434.6L94.0 436.4L89.5 438.5L85.5 439.9L81.0 441.1L76.5 441.7Z"/>
<path id="h502" d="M79.0 439.2L76.0 439.3L73.0 439.0L70.5 438.2L68.8 437.1L67.4 435.6L66.7 434.1L66.6 432.1L67.2 429.6L69.7 425.6L73.5 421.6L78.5 417.8L84.0 414.6L87.5 413.3L91.5 412.6L95.0 412.7L99.0 413.9L100.0 413.6L100.5 412.4L100.7 410.1L100.8 380.1L104.5 380.1L104.4 409.1L102.9 421.6L101.8 425.6L100.5 428.1L99.0 430.2L97.0 432.2L94.5 434.0L91.0 435.7L87.0 437.3L83.0 438.5L79.0 439.2Z"/>
<path id="h503" d="M102.5 412.8L101.8 410.6L101.4 406.1L101.4 381.6L101.5 380.1L104.0 380.1L104.1 406.6L103.5 411.4L103.0 412.6L102.5 412.8ZM81.0 436.7L78.0 436.9L75.0 436.5L72.5 435.5L70.9 434.1L70.0 432.1L70.1 430.1L71.1 427.6L72.8 425.1L75.7 422.1L79.0 419.5L83.0 417.0L86.5 415.3L90.0 414.5L93.0 414.4L95.5 414.9L98.0 416.3L99.3 417.6L99.9 418.6L100.3 420.1L100.4 422.1L99.5 425.6L97.3 429.1L94.5 431.7L90.5 433.9L85.5 435.8L81.0 436.7Z"/>
<path id="h504" d="M103.0 407.3L102.5 406.8L102.4 406.1L102.1 399.1L102.1 384.1L102.6 380.1L103.1 380.1L103.3 381.1L103.6 385.1L103.5 402.6L103.0 407.3ZM83.5 434.2L80.5 434.5L78.0 434.4L76.0 433.8L74.3 432.6L73.3 431.1L73.2 429.6L73.8 427.6L75.0 425.6L77.2 423.1L80.0 420.8L83.5 418.5L86.5 417.0L89.5 416.2L92.0 416.1L94.0 416.5L96.0 417.5L97.6 419.6L98.0 422.1L97.5 425.1L96.1 427.6L94.0 429.8L91.5 431.4L87.5 433.1L83.5 434.2Z"/>
<path id="h505" d="M83.5 431.7L80.0 431.5L78.5 430.9L77.5 429.9L77.1 428.6L77.2 427.6L77.8 426.1L78.9 424.6L82.5 421.4L87.0 418.8L89.0 418.3L91.0 418.2L92.5 418.5L94.0 419.3L95.2 421.1L95.4 423.1L94.8 425.1L93.6 427.1L91.9 428.6L89.5 430.0L86.5 431.1L83.5 431.7Z"/>
</g>
<use href="#h500" fill="url(#sp0)"/>
<use href="#h501" fill="url(#sp1)"/>
<use href="#h502" fill="url(#sp2)"/>
<use href="#h503" fill="url(#sp3)"/>
<use href="#h504" fill="url(#sp4)"/>
<use href="#h505" fill="url(#sp5)"/>
<path d="M102.6 412.0L102.9 400.0L103.3 390.0L103.6 378.0" fill="none" stroke="#9dcbe7" stroke-width="2.2" stroke-opacity="0.45" stroke-linejoin="round"/>
<path d="M79.5 435.7L77.5 435.7L75.5 435.1L74.2 434.1L73.5 432.6L73.4 430.6L73.8 428.6L74.9 426.1L76.4 423.6L80.9 418.1L87.0 412.9L92.0 410.0L97.5 408.4L98.5 407.7L101.0 402.9L102.0 402.0L102.5 402.6L102.8 404.6L103.0 416.1L102.5 420.3L101.2 423.1L97.5 427.0L91.0 431.5L85.0 434.4L82.0 435.3L79.5 435.7Z" fill="#f3f8fc"/>
<path d="M84.0 431.7L82.0 431.9L80.5 431.8L79.0 431.1L78.2 430.1L77.9 428.6L78.1 427.1L78.8 425.1L80.3 422.6L83.7 418.6L88.0 414.9L90.5 413.3L93.0 412.2L99.5 411.0L100.3 410.1L101.0 407.7L101.3 408.1L101.0 411.1L101.5 416.6L100.9 419.1L99.5 421.6L96.5 424.9L92.5 427.9L88.0 430.3L84.0 431.7Z" fill="#ddecf6"/>
<path d="M87.5 427.7L85.5 428.1L84.0 428.0L83.0 427.4L82.5 426.6L82.4 425.6L82.8 424.1L84.6 421.1L88.0 417.6L91.5 415.4L93.5 414.7L95.0 414.5L96.4 414.6L97.4 415.1L98.1 416.1L98.3 417.6L97.8 419.6L96.5 421.6L95.0 423.3L92.5 425.2L90.0 426.7L87.5 427.7Z" fill="#c9e2f1"/>
<path d="M89.0 424.2L87.5 424.2L87.0 423.6L87.2 422.1L88.5 420.3L90.3 418.6L92.0 417.7L93.5 417.5L94.5 417.9L94.9 419.1L94.0 421.1L91.5 423.1L89.0 424.2Z" fill="#aed4ea"/>
<path d="M79.5 435.7L77.5 435.7L75.5 435.1L74.2 434.1L73.5 432.6L73.4 430.6L73.8 428.6L74.9 426.1L76.4 423.6L80.9 418.1L87.0 412.9L92.0 410.0L97.5 408.4L98.5 407.7L101.0 402.9L102.0 402.0L102.5 402.6L102.8 404.6L103.0 416.1L102.5 420.3L101.2 423.1L97.5 427.0L91.0 431.5L85.0 434.4L82.0 435.3L79.5 435.7ZM84.0 431.7L82.0 431.9L80.5 431.8L79.0 431.1L78.2 430.1L77.9 428.6L78.1 427.1L78.8 425.1L80.3 422.6L83.7 418.6L88.0 414.9L90.5 413.3L93.0 412.2L99.5 411.0L100.3 410.1L101.0 407.7L101.3 408.1L101.0 411.1L101.5 416.6L100.9 419.1L99.5 421.6L96.5 424.9L92.5 427.9L88.0 430.3L84.0 431.7ZM87.5 427.7L85.5 428.1L84.0 428.0L83.0 427.4L82.5 426.6L82.4 425.6L82.8 424.1L84.6 421.1L88.0 417.6L91.5 415.4L93.5 414.7L95.0 414.5L96.4 414.6L97.4 415.1L98.1 416.1L98.3 417.6L97.8 419.6L96.5 421.6L95.0 423.3L92.5 425.2L90.0 426.7L87.5 427.7ZM89.0 424.2L87.5 424.2L87.0 423.6L87.2 422.1L88.5 420.3L90.3 418.6L92.0 417.7L93.5 417.5L94.5 417.9L94.9 419.1L94.0 421.1L91.5 423.1L89.0 424.2Z" fill="none" stroke="#b3d7ed" stroke-width="0.8"/>
</g>
<g clip-path="url(#c51)">
<g filter="url(#hb)" fill="#6fb0d9" fill-opacity="0.065">
<path id="h510" d="M192.7 449.1L123.7 449.1L123.7 380.1L192.7 380.1L192.7 449.1Z"/>
<path id="h511" d="M145.7 448.2L140.2 448.3L135.7 447.4L131.9 445.6L129.3 443.1L127.9 440.1L127.7 436.6L128.5 433.1L130.6 428.6L132.9 425.1L135.8 421.6L139.7 417.8L143.7 414.5L151.2 409.4L155.2 407.5L160.7 405.5L162.4 404.1L163.0 402.1L163.3 394.6L166.3 380.1L185.0 380.1L184.0 389.1L182.5 398.6L181.4 402.1L178.6 408.6L178.7 411.1L180.4 417.1L180.6 421.1L179.6 426.1L177.5 430.6L175.4 433.6L172.5 436.6L169.7 438.9L165.7 441.4L160.7 443.9L155.7 445.9L150.7 447.3L145.7 448.2Z"/>
<path id="h512" d="M147.7 443.7L143.7 443.7L140.2 443.1L137.2 441.7L135.2 440.0L133.8 437.6L133.4 435.1L133.9 432.1L135.4 428.6L138.0 424.6L141.0 421.1L145.2 417.3L149.7 413.9L153.2 411.8L156.2 410.4L159.7 409.4L165.6 408.1L167.1 407.1L167.1 405.6L165.5 400.1L165.3 396.6L166.5 389.6L168.7 380.1L182.6 380.1L181.5 391.1L179.9 399.6L179.1 401.6L177.7 403.8L173.2 408.1L172.6 409.1L173.0 410.6L175.5 415.6L176.4 419.6L176.0 424.1L174.3 428.6L172.3 431.6L170.2 434.0L167.7 436.0L164.7 437.9L160.7 440.0L156.2 441.8L151.7 443.0L147.7 443.7Z"/>
<path id="h513" d="M172.7 404.2L170.7 404.0L168.9 402.6L167.7 400.5L167.1 397.6L167.1 395.6L168.1 390.6L170.8 380.1L180.6 380.1L179.8 389.6L178.4 398.6L177.4 400.6L176.2 402.3L174.7 403.5L172.7 404.2ZM148.2 440.2L145.2 440.0L142.2 439.1L139.9 437.6L138.5 435.6L138.0 433.1L138.4 430.6L139.7 427.6L142.0 424.1L145.2 420.6L149.2 417.3L153.2 414.6L156.7 412.9L160.7 411.8L164.2 411.7L167.2 412.2L169.7 413.5L171.2 415.1L172.1 416.6L172.8 418.6L173.2 421.1L173.0 423.1L172.4 425.6L171.3 428.1L169.7 430.4L166.2 433.7L160.2 437.1L154.2 439.3L151.2 439.9L148.2 440.2Z"/>
<path id="h514" d="M172.7 401.7L171.2 401.4L170.2 400.6L169.3 399.1L168.9 397.6L168.9 395.6L170.4 388.6L171.7 384.0L173.2 380.1L178.2 380.1L178.2 387.6L177.0 397.1L176.2 399.1L175.2 400.5L174.2 401.2L172.7 401.7ZM153.2 436.7L150.2 437.0L147.2 436.8L144.7 435.8L143.2 434.6L142.1 432.6L142.0 430.6L142.7 428.1L144.1 425.6L146.5 422.6L149.2 420.0L153.0 417.1L156.2 415.4L159.2 414.4L162.2 414.1L164.7 414.4L167.2 415.4L168.2 416.3L169.2 417.6L169.9 419.1L170.3 421.1L169.9 424.6L168.3 428.1L165.7 431.0L162.7 433.1L157.7 435.5L153.2 436.7Z"/>
<path id="h515" d="M173.7 397.8L172.7 398.1L172.2 397.9L171.6 397.1L171.5 396.1L172.7 391.1L173.7 389.1L174.2 388.8L174.8 389.6L174.9 392.6L174.4 396.6L173.7 397.8ZM154.7 433.2L152.2 433.5L150.2 433.3L148.5 432.6L147.3 431.6L146.5 430.1L146.5 428.6L147.0 427.1L148.0 425.1L149.6 423.1L151.7 421.1L154.3 419.1L156.7 417.8L159.2 417.0L161.2 416.8L163.2 417.0L164.7 417.7L166.2 419.2L167.1 421.6L166.9 424.1L165.7 426.9L164.2 428.7L161.7 430.5L158.2 432.2L154.7 433.2Z"/>
</g>
<use href="#h510" fill="url(#sp0)"/>
<use href="#h511" fill="url(#sp1)"/>
<use href="#h512" fill="url(#sp2)"/>
<use href="#h513" fill="url(#sp3)"/>
<use href="#h514" fill="url(#sp4)"/>
<use href="#h515" fill="url(#sp5)"/>
<path d="M171.5 410.0L173.0 400.0L174.5 390.0L176.0 378.0" fill="none" stroke="#9dcbe7" stroke-width="4.0" stroke-opacity="0.3" stroke-linejoin="round"/>
<path d="M153.2 436.2L150.7 436.6L148.2 436.4L146.7 435.6L145.7 434.2L145.3 432.6L145.5 430.1L146.3 427.6L147.8 424.6L151.3 419.6L156.7 414.0L161.7 410.3L168.2 407.2L172.2 402.1L173.2 401.3L173.7 401.3L174.2 401.7L174.5 402.6L174.9 407.6L176.3 410.6L176.6 412.6L176.1 416.1L174.3 420.1L170.5 425.1L165.2 429.9L159.2 433.8L155.7 435.4L153.2 436.2Z" fill="#f3f8fc"/>
<path d="M155.7 432.2L153.7 432.6L151.7 432.3L150.6 431.6L149.9 430.6L149.7 429.1L150.0 427.1L151.0 424.6L152.5 422.1L156.2 417.6L160.7 413.7L164.2 411.7L168.7 410.3L171.2 409.1L172.9 413.1L173.1 415.1L172.4 418.1L170.8 421.1L167.9 424.6L164.2 427.8L159.7 430.6L155.7 432.2Z" fill="#ddecf6"/>
<path d="M158.2 428.3L155.7 428.5L154.7 428.0L154.1 427.1L154.1 425.6L154.5 424.1L156.6 420.6L159.8 417.1L163.2 414.9L166.2 414.0L167.7 414.0L168.7 414.5L169.5 415.6L169.6 417.6L168.9 419.6L167.6 421.6L165.8 423.6L163.2 425.7L160.7 427.3L158.2 428.3Z" fill="#c9e2f1"/>
<path d="M160.7 424.3L159.2 424.5L158.6 424.1L158.4 423.6L158.7 422.1L159.6 420.6L161.2 418.9L162.7 417.8L164.2 417.3L165.7 417.5L166.1 418.1L166.1 419.1L165.2 421.0L163.2 422.9L160.7 424.3Z" fill="#aed4ea"/>
<path d="M153.2 436.2L150.7 436.6L148.2 436.4L146.7 435.6L145.7 434.2L145.3 432.6L145.5 430.1L146.3 427.6L147.8 424.6L151.3 419.6L156.7 414.0L161.7 410.3L168.2 407.2L172.2 402.1L173.2 401.3L173.7 401.3L174.2 401.7L174.5 402.6L174.9 407.6L176.3 410.6L176.6 412.6L176.1 416.1L174.3 420.1L170.5 425.1L165.2 429.9L159.2 433.8L155.7 435.4L153.2 436.2ZM155.7 432.2L153.7 432.6L151.7 432.3L150.6 431.6L149.9 430.6L149.7 429.1L150.0 427.1L151.0 424.6L152.5 422.1L156.2 417.6L160.7 413.7L164.2 411.7L168.7 410.3L171.2 409.1L172.9 413.1L173.1 415.1L172.4 418.1L170.8 421.1L167.9 424.6L164.2 427.8L159.7 430.6L155.7 432.2ZM158.2 428.3L155.7 428.5L154.7 428.0L154.1 427.1L154.1 425.6L154.5 424.1L156.6 420.6L159.8 417.1L163.2 414.9L166.2 414.0L167.7 414.0L168.7 414.5L169.5 415.6L169.6 417.6L168.9 419.6L167.6 421.6L165.8 423.6L163.2 425.7L160.7 427.3L158.2 428.3ZM160.7 424.3L159.2 424.5L158.6 424.1L158.4 423.6L158.7 422.1L159.6 420.6L161.2 418.9L162.7 417.8L164.2 417.3L165.7 417.5L166.1 418.1L166.1 419.1L165.2 421.0L163.2 422.9L160.7 424.3Z" fill="none" stroke="#b3d7ed" stroke-width="0.8"/>
</g>
<g clip-path="url(#c52)">
<g filter="url(#hb)" fill="#6fb0d9" fill-opacity="0.045">
<path id="h520" d="M256.9 449.1L254.6 449.1L254.3 443.1L253.9 441.9L252.9 441.2L196.4 441.2L196.4 380.7L252.4 380.7L253.4 380.5L253.7 380.1L257.4 380.1L258.3 419.1L257.3 449.1L256.9 449.1Z"/>
<path id="h521" d="M256.4 449.1L255.2 449.1L254.7 442.1L254.4 440.6L253.9 439.6L253.4 439.2L196.4 439.2L196.4 382.9L252.9 383.0L253.9 382.5L254.7 380.1L257.0 380.1L257.7 405.1L257.9 419.6L256.8 449.1L256.4 449.1Z"/>
<path id="h522" d="M255.9 443.8L254.4 437.7L253.9 436.9L253.4 436.6L196.4 436.7L196.4 385.6L253.4 385.8L253.9 385.4L254.4 384.5L255.5 380.1L256.3 380.1L256.9 389.1L257.5 418.6L256.7 437.6L256.4 441.2L255.9 443.8Z"/>
<path id="h523" d="M255.9 436.5L255.4 436.4L254.4 433.7L253.9 433.1L253.4 433.0L248.9 433.3L196.4 433.4L196.4 390.6L248.9 390.6L251.4 390.7L253.4 391.2L253.9 390.9L254.4 389.9L255.4 385.9L255.9 385.8L256.7 399.6L257.1 418.1L256.7 428.1L255.9 436.5Z"/>
<path id="h524" d="M255.4 430.9L253.9 429.7L249.4 430.1L196.4 430.2L196.4 396.3L249.4 396.4L251.9 396.6L253.9 397.2L254.4 396.8L255.4 395.0L255.9 396.8L256.3 403.1L256.7 418.1L256.4 426.1L255.9 429.9L255.4 430.9Z"/>
<path id="h525" d="M250.9 426.7L196.4 426.7L196.4 402.5L249.4 402.5L251.9 402.8L253.9 404.0L254.9 404.0L255.4 404.6L255.9 409.1L256.1 418.6L255.8 423.6L255.4 425.5L254.9 425.9L253.9 425.9L250.9 426.7Z"/>
</g>
<use href="#h520" fill="url(#sp0)"/>
<use href="#h521" fill="url(#sp1)"/>
<use href="#h522" fill="url(#sp2)"/>
<use href="#h523" fill="url(#sp3)"/>
<use href="#h524" fill="url(#sp4)"/>
<use href="#h525" fill="url(#sp5)"/>
<path d="M247.4 430.2L196.4 430.3L196.4 407.7L244.4 407.7L247.9 407.9L249.9 408.3L251.9 409.8L252.7 411.1L253.2 412.6L253.6 419.1L253.5 423.6L252.8 426.6L251.5 428.6L249.9 429.7L247.4 430.2Z" fill="#f3f8fc"/>
<path d="M246.9 428.2L196.4 428.4L196.4 409.7L243.4 409.7L246.9 409.8L248.9 410.3L250.4 411.4L251.3 413.6L251.7 419.1L251.6 423.1L251.1 425.1L250.4 426.6L248.9 427.7L246.9 428.2Z" fill="#ddecf6"/>
<path d="M217.4 426.2L207.4 426.2L196.4 425.8L196.4 412.8L243.4 412.8L246.9 413.4L247.9 414.1L248.4 415.0L249.0 419.1L249.0 422.1L248.4 423.7L246.9 424.9L242.9 425.4L217.4 426.2Z" fill="#c9e2f1"/>
<path d="M217.4 423.7L211.9 424.1L206.4 423.9L201.8 423.1L200.5 422.6L200.0 422.1L200.0 421.6L200.7 421.1L202.4 420.6L205.9 420.0L209.9 419.7L217.7 420.1L220.4 420.7L222.5 421.6L222.5 422.1L221.8 422.6L217.4 423.7Z" fill="#aed4ea"/>
<path d="M196.4 407.7L243.4 407.7L248.9 408.0L251.3 409.1L252.7 411.1L253.4 414.1L253.6 420.6L253.2 425.1L252.3 427.6L250.9 429.2L248.4 430.1L242.9 430.3L196.4 430.3M196.4 409.7L242.4 409.7L247.9 410.0L249.9 410.9L251.1 412.6L251.5 415.1L251.7 420.1L251.5 423.6L250.7 426.1L249.4 427.5L247.4 428.1L241.9 428.3L196.4 428.4M196.4 412.8L239.9 412.8L245.4 413.0L247.4 413.6L248.2 414.6L248.8 417.1L249.1 420.6L248.8 422.6L248.0 424.1L246.9 424.9L244.9 425.3L213.4 426.2L196.4 425.8M217.4 423.7L211.9 424.1L206.4 423.9L201.8 423.1L200.5 422.6L200.0 422.1L200.0 421.6L200.7 421.1L202.4 420.6L205.9 420.0L209.9 419.7L217.7 420.1L220.4 420.7L222.5 421.6L222.5 422.1L221.8 422.6L217.4 423.7Z" fill="none" stroke="#b3d7ed" stroke-width="0.8"/>
</g>
<g clip-path="url(#c53)">
<g filter="url(#hb)" fill="#6fb0d9" fill-opacity="0.05">
<path id="h530" d="M338.1 449.1L269.1 449.1L269.1 380.1L338.1 380.1L338.1 449.1Z"/>
<path id="h531" d="M295.1 449.1L289.6 449.1L285.1 447.9L283.1 446.8L281.1 445.2L279.8 443.6L278.7 441.6L278.0 439.6L277.5 437.1L277.6 432.1L278.9 426.6L281.7 420.6L285.4 415.1L290.3 409.6L295.1 405.6L300.6 402.3L306.6 400.1L312.1 399.2L315.1 399.3L317.6 399.7L320.1 400.4L322.1 401.4L324.6 403.1L326.9 405.6L328.5 408.6L329.4 412.1L329.6 415.6L329.2 419.6L327.9 424.1L326.0 428.1L323.4 432.1L320.6 435.4L317.1 438.7L313.1 441.8L309.1 444.3L304.1 446.8L299.6 448.3L295.1 449.1Z"/>
<path id="h532" d="M297.1 444.2L292.6 444.2L288.7 443.1L285.8 441.1L283.7 438.1L282.7 434.6L282.8 430.1L284.0 425.6L286.3 420.6L289.4 416.1L293.6 411.7L297.6 408.4L302.1 405.9L306.6 404.3L311.1 403.7L315.1 404.0L319.1 405.6L321.2 407.1L322.9 409.1L324.2 411.6L324.9 414.6L325.0 417.6L324.4 421.1L323.2 424.6L321.7 427.6L319.7 430.6L317.1 433.6L314.1 436.4L311.1 438.6L307.6 440.7L304.1 442.4L300.6 443.5L297.1 444.2Z"/>
<path id="h533" d="M299.6 440.2L296.1 440.5L292.6 439.9L290.1 438.6L287.9 436.1L286.8 433.1L286.7 429.6L287.5 426.1L289.1 422.1L291.7 418.1L294.7 414.6L298.1 411.7L301.6 409.5L305.6 407.9L309.1 407.3L312.6 407.4L316.1 408.5L318.1 409.9L319.6 411.6L320.6 413.6L321.2 415.6L321.4 418.1L321.1 420.6L320.4 423.1L319.3 425.6L317.8 428.1L315.9 430.6L311.1 435.0L308.1 436.9L305.1 438.5L299.6 440.2Z"/>
<path id="h534" d="M301.6 436.7L298.6 437.1L295.6 436.8L293.1 435.6L291.6 434.1L290.5 431.6L290.2 429.1L290.7 426.1L291.8 423.1L293.5 420.1L295.9 417.1L298.6 414.5L301.6 412.5L305.1 410.9L308.1 410.3L311.1 410.4L313.6 411.1L315.1 412.1L316.3 413.1L317.2 414.6L318.0 416.6L318.2 418.6L318.0 420.6L316.8 424.6L314.2 428.6L310.6 432.1L306.1 435.0L301.6 436.7Z"/>
<path id="h535" d="M301.1 433.2L299.1 433.2L297.1 432.6L295.7 431.6L294.7 430.1L294.3 428.6L294.3 426.6L294.8 424.6L295.9 422.1L297.2 420.1L299.1 418.0L301.1 416.2L303.1 415.0L305.6 414.1L307.6 413.7L309.6 413.9L311.6 414.5L313.6 416.4L314.2 417.6L314.6 419.1L314.3 422.1L313.1 425.1L310.8 428.1L307.7 430.6L304.6 432.3L301.1 433.2Z"/>
</g>
<use href="#h530" fill="url(#sp0)"/>
<use href="#h531" fill="url(#sp1)"/>
<use href="#h532" fill="url(#sp2)"/>
<use href="#h533" fill="url(#sp3)"/>
<path d="M299.6 434.2L297.1 434.3L294.6 433.6L293.1 432.5L292.1 430.6L291.8 428.1L292.4 425.1L293.6 422.1L295.5 419.1L297.8 416.1L300.6 413.4L303.6 411.0L306.6 409.3L310.1 408.0L313.1 407.5L315.6 407.7L317.7 408.6L318.8 409.6L319.7 411.1L320.2 414.1L319.3 418.1L316.9 422.6L313.4 426.6L308.6 430.4L304.1 432.8L299.6 434.2Z" fill="#f3f8fc"/>
<path d="M301.1 430.7L299.1 430.7L297.5 430.1L296.3 429.1L295.7 427.6L295.6 425.6L296.1 423.6L296.9 421.6L298.5 419.1L302.6 414.7L305.1 412.9L307.1 411.8L309.6 410.9L311.6 410.7L313.6 410.9L315.1 411.6L316.1 412.6L316.6 413.6L316.8 416.1L316.0 419.1L314.3 422.1L311.6 425.1L308.1 427.9L304.6 429.7L301.1 430.7Z" fill="#ddecf6"/>
<path d="M303.1 427.2L301.6 427.2L300.6 426.8L299.8 426.1L299.4 425.1L299.4 423.6L299.8 422.1L301.5 419.1L304.1 416.5L307.1 414.6L310.1 413.9L311.6 414.1L312.5 414.6L313.4 416.1L313.5 417.6L312.9 419.6L311.7 421.6L309.8 423.6L307.6 425.4L305.1 426.7L303.1 427.2Z" fill="#c9e2f1"/>
<path d="M305.1 423.7L303.6 423.5L303.1 422.6L303.3 421.1L304.1 419.7L305.6 418.2L307.1 417.3L308.6 417.0L309.6 417.4L310.2 418.6L309.4 420.6L307.6 422.5L305.1 423.7Z" fill="#aed4ea"/>
<path d="M299.6 434.2L297.1 434.3L294.6 433.6L293.1 432.5L292.1 430.6L291.8 428.1L292.4 425.1L293.6 422.1L295.5 419.1L297.8 416.1L300.6 413.4L303.6 411.0L306.6 409.3L310.1 408.0L313.1 407.5L315.6 407.7L317.7 408.6L318.8 409.6L319.7 411.1L320.2 414.1L319.3 418.1L316.9 422.6L313.4 426.6L308.6 430.4L304.1 432.8L299.6 434.2ZM301.1 430.7L299.1 430.7L297.5 430.1L296.3 429.1L295.7 427.6L295.6 425.6L296.1 423.6L296.9 421.6L298.5 419.1L302.6 414.7L305.1 412.9L307.1 411.8L309.6 410.9L311.6 410.7L313.6 410.9L315.1 411.6L316.1 412.6L316.6 413.6L316.8 416.1L316.0 419.1L314.3 422.1L311.6 425.1L308.1 427.9L304.6 429.7L301.1 430.7ZM303.1 427.2L301.6 427.2L300.6 426.8L299.8 426.1L299.4 425.1L299.4 423.6L299.8 422.1L301.5 419.1L304.1 416.5L307.1 414.6L310.1 413.9L311.6 414.1L312.5 414.6L313.4 416.1L313.5 417.6L312.9 419.6L311.7 421.6L309.8 423.6L307.6 425.4L305.1 426.7L303.1 427.2ZM305.1 423.7L303.6 423.5L303.1 422.6L303.3 421.1L304.1 419.7L305.6 418.2L307.1 417.3L308.6 417.0L309.6 417.4L310.2 418.6L309.4 420.6L307.6 422.5L305.1 423.7Z" fill="none" stroke="#b3d7ed" stroke-width="0.8"/>
</g>
<g clip-path="url(#c54)">
<g filter="url(#hb)" fill="#6fb0d9" fill-opacity="0.05">
<path id="h540" d="M410.8 449.1L341.8 449.1L341.8 380.1L410.8 380.1L410.8 449.1Z"/>
<path id="h541" d="M372.8 449.1L352.9 449.1L349.8 447.0L348.2 445.1L347.0 443.1L346.1 440.6L345.7 438.1L345.6 435.1L346.0 432.1L348.0 426.1L351.6 419.6L356.4 413.6L362.8 407.7L368.8 403.7L375.3 400.8L381.8 399.3L385.3 399.1L388.3 399.3L391.3 399.8L393.8 400.7L396.8 402.4L399.3 404.7L401.1 407.1L402.5 410.6L403.1 414.1L403.0 417.6L402.4 421.1L401.0 425.1L399.0 429.1L396.7 432.6L393.7 436.1L390.3 439.4L386.3 442.5L381.8 445.3L376.8 447.8L372.8 449.1Z"/>
<path id="h542" d="M368.8 445.7L363.8 446.0L359.3 445.2L355.8 443.5L354.2 442.1L353.1 440.6L351.6 437.1L351.4 432.6L352.5 427.6L354.8 422.6L358.3 417.6L362.5 413.1L367.3 409.3L372.3 406.4L377.8 404.5L382.8 403.8L387.8 404.3L391.8 405.8L394.3 407.6L395.9 409.6L397.2 412.1L397.9 415.1L398.0 418.1L397.4 421.6L396.4 424.6L394.7 428.1L392.7 431.1L390.1 434.1L387.3 436.7L383.8 439.4L380.3 441.5L376.3 443.4L372.3 444.8L368.8 445.7Z"/>
<path id="h543" d="M370.3 441.7L365.8 442.0L362.3 441.4L359.3 439.8L357.3 437.6L356.1 434.6L355.9 431.1L356.7 427.1L358.5 423.1L361.2 419.1L364.8 415.3L368.8 412.0L372.8 409.7L377.3 408.1L381.3 407.5L385.3 407.8L388.8 409.0L390.8 410.5L392.2 412.1L393.3 414.1L393.9 416.6L394.0 419.1L393.6 421.6L392.7 424.6L391.4 427.1L389.8 429.6L387.7 432.1L382.8 436.3L379.3 438.4L376.3 439.9L373.3 441.0L370.3 441.7Z"/>
<path id="h544" d="M371.8 438.2L368.3 438.5L365.3 438.1L362.8 436.9L361.0 435.1L359.9 432.6L359.7 430.1L360.3 427.1L361.7 423.6L364.1 420.1L366.8 417.1L369.8 414.6L373.3 412.5L376.8 411.2L380.3 410.7L383.3 410.9L386.3 411.9L387.8 413.0L388.9 414.1L389.7 415.6L390.4 417.6L390.5 419.6L390.3 421.6L389.6 424.1L388.7 426.1L385.8 430.1L381.8 433.7L376.8 436.5L371.8 438.2Z"/>
<path id="h545" d="M373.3 434.2L370.8 434.6L368.8 434.4L366.8 433.7L365.3 432.4L364.4 430.6L364.2 428.6L364.4 426.6L365.4 424.1L367.0 421.6L368.8 419.5L371.3 417.3L373.8 415.8L376.3 414.8L378.8 414.3L381.3 414.4L383.3 415.1L385.3 416.7L386.4 419.1L386.4 422.1L385.3 425.4L383.4 428.1L380.8 430.6L377.3 432.8L373.3 434.2Z"/>
</g>
<use href="#h540" fill="url(#sp0)"/>
<use href="#h541" fill="url(#sp1)"/>
<use href="#h542" fill="url(#sp2)"/>
<use href="#h543" fill="url(#sp3)"/>
<path d="M371.8 434.7L368.3 434.9L365.8 434.3L363.8 432.9L362.8 431.1L362.4 428.6L362.9 425.6L364.1 422.6L366.3 419.1L368.9 416.1L372.3 413.0L375.3 410.9L379.3 408.9L382.8 407.9L385.8 407.7L388.8 408.2L390.8 409.3L392.1 410.6L392.9 412.1L393.3 413.6L393.3 415.6L392.2 419.6L389.8 423.6L386.3 427.5L381.8 430.7L376.8 433.3L371.8 434.7Z" fill="#f3f8fc"/>
<path d="M373.3 431.2L371.3 431.3L369.3 430.9L367.8 430.0L366.8 428.4L366.5 426.6L367.0 424.1L368.1 421.6L369.4 419.6L371.5 417.1L373.8 415.1L376.3 413.3L378.8 412.0L381.3 411.2L383.8 410.9L385.9 411.1L387.8 412.1L388.8 413.1L389.4 414.1L389.7 416.6L389.0 419.6L386.9 423.1L384.3 425.9L380.8 428.4L376.8 430.3L373.3 431.2Z" fill="#ddecf6"/>
<path d="M374.8 427.7L372.3 427.3L371.4 426.6L370.8 425.6L370.7 424.1L371.1 422.6L372.8 419.6L375.8 416.7L378.8 414.9L380.8 414.2L382.3 414.1L383.8 414.3L384.8 414.8L385.9 416.1L386.1 418.1L385.6 420.1L384.4 422.1L382.4 424.1L379.8 426.0L377.3 427.1L374.8 427.7Z" fill="#c9e2f1"/>
<path d="M378.3 423.8L376.3 424.1L375.2 423.6L374.8 422.6L375.3 421.0L376.7 419.1L378.3 418.0L380.3 417.3L381.8 417.6L382.5 418.6L382.5 419.6L382.1 420.6L380.8 422.3L378.3 423.8Z" fill="#aed4ea"/>
<path d="M371.8 434.7L368.3 434.9L365.8 434.3L363.8 432.9L362.8 431.1L362.4 428.6L362.9 425.6L364.1 422.6L366.3 419.1L368.9 416.1L372.3 413.0L375.3 410.9L379.3 408.9L382.8 407.9L385.8 407.7L388.8 408.2L390.8 409.3L392.1 410.6L392.9 412.1L393.3 413.6L393.3 415.6L392.2 419.6L389.8 423.6L386.3 427.5L381.8 430.7L376.8 433.3L371.8 434.7ZM373.3 431.2L371.3 431.3L369.3 430.9L367.8 430.0L366.8 428.4L366.5 426.6L367.0 424.1L368.1 421.6L369.4 419.6L371.5 417.1L373.8 415.1L376.3 413.3L378.8 412.0L381.3 411.2L383.8 410.9L385.9 411.1L387.8 412.1L388.8 413.1L389.4 414.1L389.7 416.6L389.0 419.6L386.9 423.1L384.3 425.9L380.8 428.4L376.8 430.3L373.3 431.2ZM374.8 427.7L372.3 427.3L371.4 426.6L370.8 425.6L370.7 424.1L371.1 422.6L372.8 419.6L375.8 416.7L378.8 414.9L380.8 414.2L382.3 414.1L383.8 414.3L384.8 414.8L385.9 416.1L386.1 418.1L385.6 420.1L384.4 422.1L382.4 424.1L379.8 426.0L377.3 427.1L374.8 427.7ZM378.3 423.8L376.3 424.1L375.2 423.6L374.8 422.6L375.3 421.0L376.7 419.1L378.3 418.0L380.3 417.3L381.8 417.6L382.5 418.6L382.5 419.6L382.1 420.6L380.8 422.3L378.3 423.8Z" fill="none" stroke="#b3d7ed" stroke-width="0.8"/>
</g>
<g clip-path="url(#c60)">
<g filter="url(#hb)" fill="#6fb0d9" fill-opacity="0.065">
<path id="h600" d="M104.0 514.8L103.5 514.6L103.0 513.9L100.5 509.3L99.0 507.9L93.5 507.5L89.5 506.5L85.0 504.6L80.5 501.8L75.0 497.0L65.2 486.4L57.3 476.4L51.0 466.8L51.0 452.9L67.3 452.9L73.0 456.6L80.0 461.7L86.5 467.1L95.0 474.8L99.0 477.4L100.5 478.8L102.3 481.4L103.5 484.0L104.2 486.9L104.7 490.9L105.2 498.9L105.2 506.4L104.8 512.4L104.5 513.8L104.0 514.8Z"/>
<path id="h601" d="M104.0 511.4L103.5 511.5L103.0 510.9L100.5 506.2L99.0 504.7L98.0 504.5L94.0 504.7L90.5 504.2L86.0 502.6L82.0 500.2L77.3 496.4L69.8 488.4L64.7 482.4L60.3 476.4L56.7 470.9L54.2 466.4L52.3 461.9L51.5 458.4L51.7 455.4L52.1 454.4L52.9 453.4L53.8 452.9L59.5 452.9L64.5 454.8L70.0 457.7L75.0 461.0L80.5 465.0L87.0 470.4L95.5 478.3L100.5 481.8L102.0 483.9L103.0 485.9L103.8 488.4L104.3 491.9L104.8 497.9L104.9 504.4L104.5 509.4L104.0 511.4Z"/>
<path id="h602" d="M103.5 508.5L102.5 507.3L100.0 502.7L99.0 501.7L98.0 501.5L95.0 502.2L92.5 502.3L89.5 501.8L86.5 500.7L83.5 499.0L80.5 496.9L73.5 489.9L68.8 484.4L64.9 479.4L61.2 473.9L58.7 469.4L57.0 465.4L56.3 462.4L56.4 459.9L56.7 458.9L57.5 458.0L58.5 457.5L60.0 457.2L63.5 457.7L68.0 459.5L73.0 462.2L77.5 465.2L82.5 469.0L89.0 474.6L96.5 481.9L100.5 484.6L101.9 486.4L102.8 488.4L104.0 493.4L104.5 503.4L104.1 507.4L103.5 508.5Z"/>
<path id="h603" d="M103.5 504.6L103.0 504.7L102.5 504.1L100.0 499.3L99.0 498.1L98.5 497.9L94.0 499.7L92.0 499.9L89.5 499.6L87.0 498.7L84.5 497.5L82.0 495.8L79.5 493.6L75.0 488.9L70.8 483.9L67.4 479.4L64.5 474.9L62.4 470.9L61.2 467.4L60.9 464.9L61.7 462.9L62.5 462.3L64.0 461.9L67.0 462.3L71.0 463.9L76.0 466.8L81.0 470.3L86.0 474.3L93.0 480.9L97.5 486.2L98.5 486.9L100.0 487.5L101.0 488.3L102.5 490.9L103.5 494.7L103.9 500.4L103.5 504.6Z"/>
<path id="h604" d="M92.5 497.4L90.5 497.5L88.5 497.2L86.0 496.2L84.0 495.1L80.7 492.4L75.1 486.4L70.1 479.9L66.7 473.9L65.8 471.4L65.5 469.4L65.7 467.9L66.5 466.9L68.0 466.5L70.5 466.8L73.5 468.0L77.0 469.9L81.0 472.6L85.0 475.8L92.5 482.9L94.4 485.4L95.7 487.9L96.5 489.9L96.8 491.9L96.5 493.9L95.7 495.4L94.5 496.6L92.5 497.4ZM102.5 498.8L102.0 498.6L101.0 496.0L100.8 494.4L101.0 493.5L101.5 493.7L102.0 494.5L102.5 496.3L102.5 498.8Z"/>
<path id="h605" d="M91.5 494.5L90.0 494.8L88.5 494.6L85.5 493.5L83.0 491.8L79.5 488.3L75.5 483.4L72.3 478.4L71.4 476.4L70.9 474.4L71.0 473.1L71.5 472.3L72.5 471.9L74.5 472.1L79.0 474.2L84.5 478.1L90.5 483.6L92.8 486.9L93.5 488.9L93.8 490.4L93.6 491.9L93.3 492.9L92.5 493.9L91.5 494.5Z"/>
</g>
<use href="#h600" fill="url(#sp0)"/>
<use href="#h601" fill="url(#sp1)"/>
<use href="#h602" fill="url(#sp2)"/>
<use href="#h603" fill="url(#sp3)"/>
<use href="#h604" fill="url(#sp4)"/>
<use href="#h605" fill="url(#sp5)"/>
<path d="M99.5 507.5L96.5 507.6L93.5 506.7L90.5 504.8L87.1 501.4L81.2 493.4L77.2 486.4L75.2 481.4L75.0 479.9L75.5 478.6L77.0 478.1L79.0 478.4L82.5 479.6L86.5 481.6L95.5 487.1L99.5 490.1L101.9 492.4L103.0 494.4L103.5 496.4L103.7 499.4L103.5 502.9L103.0 504.9L102.4 505.9L101.2 506.9L99.5 507.5Z" fill="#f3f8fc"/>
<path d="M98.5 504.5L96.0 504.6L93.0 503.6L90.5 501.9L88.1 499.4L84.3 494.4L81.1 488.9L79.6 484.9L79.6 483.9L80.1 482.9L81.5 482.5L83.0 482.7L88.5 485.1L95.0 489.2L98.0 491.6L99.8 493.4L100.9 494.9L101.8 496.9L102.1 498.4L102.0 500.4L101.6 501.9L101.0 502.9L100.0 503.8L98.5 504.5Z" fill="#ddecf6"/>
<path d="M97.0 501.6L95.5 501.7L93.5 501.2L91.5 499.9L90.0 498.4L87.2 494.9L85.1 491.4L84.2 488.9L84.5 487.3L85.5 487.0L86.5 487.1L89.5 488.2L93.5 490.7L97.3 493.9L98.7 495.9L99.3 498.4L98.7 500.4L97.0 501.6Z" fill="#c9e2f1"/>
<path d="M95.5 498.7L94.5 498.8L93.5 498.5L91.5 496.9L89.3 493.9L88.8 492.4L89.0 491.7L90.0 491.5L91.5 492.0L93.5 493.3L95.4 494.9L96.4 496.9L96.2 497.9L95.5 498.7Z" fill="#aed4ea"/>
<path d="M99.5 507.5L96.5 507.6L93.5 506.7L90.5 504.8L87.1 501.4L81.2 493.4L77.2 486.4L75.2 481.4L75.0 479.9L75.5 478.6L77.0 478.1L79.0 478.4L82.5 479.6L86.5 481.6L95.5 487.1L99.5 490.1L101.9 492.4L103.0 494.4L103.5 496.4L103.7 499.4L103.5 502.9L103.0 504.9L102.4 505.9L101.2 506.9L99.5 507.5ZM98.5 504.5L96.0 504.6L93.0 503.6L90.5 501.9L88.1 499.4L84.3 494.4L81.1 488.9L79.6 484.9L79.6 483.9L80.1 482.9L81.5 482.5L83.0 482.7L88.5 485.1L95.0 489.2L98.0 491.6L99.8 493.4L100.9 494.9L101.8 496.9L102.1 498.4L102.0 500.4L101.6 501.9L101.0 502.9L100.0 503.8L98.5 504.5ZM97.0 501.6L95.5 501.7L93.5 501.2L91.5 499.9L90.0 498.4L87.2 494.9L85.1 491.4L84.2 488.9L84.5 487.3L85.5 487.0L86.5 487.1L89.5 488.2L93.5 490.7L97.3 493.9L98.7 495.9L99.3 498.4L98.7 500.4L97.0 501.6ZM95.5 498.7L94.5 498.8L93.5 498.5L91.5 496.9L89.3 493.9L88.8 492.4L89.0 491.7L90.0 491.5L91.5 492.0L93.5 493.3L95.4 494.9L96.4 496.9L96.2 497.9L95.5 498.7Z" fill="none" stroke="#b3d7ed" stroke-width="0.8"/>
</g>
<g clip-path="url(#c61)">
<g filter="url(#hb)" fill="#6fb0d9" fill-opacity="0.065">
<path id="h610" d="M192.7 521.9L123.7 521.9L123.7 452.9L192.7 452.9L192.7 521.9Z"/>
<path id="h611" d="M170.7 510.0L166.2 510.3L161.7 509.6L156.7 507.8L151.7 505.1L148.2 502.6L144.7 499.4L138.0 492.4L131.5 484.9L123.7 474.6L123.7 452.9L143.4 452.9L150.7 458.2L158.7 464.7L167.2 472.5L172.3 477.9L175.8 482.9L178.3 487.9L179.9 492.9L180.3 497.9L179.5 502.4L177.6 505.9L174.7 508.4L172.7 509.4L170.7 510.0Z"/>
<path id="h612" d="M165.7 505.9L162.2 505.6L158.7 504.7L155.2 503.1L151.2 500.6L147.9 497.9L143.9 493.9L134.4 482.9L127.9 473.9L123.7 466.3L123.7 452.9L134.6 452.9L141.2 456.3L148.7 461.2L155.7 466.6L164.2 474.2L169.7 479.9L172.4 483.9L174.8 488.9L175.8 493.4L175.8 497.4L174.6 500.9L172.7 503.4L169.7 505.2L165.7 505.9Z"/>
<path id="h613" d="M164.7 502.4L161.7 502.3L158.7 501.6L155.7 500.3L152.7 498.5L147.7 494.1L139.9 485.4L133.3 476.4L130.9 472.4L129.0 468.4L127.9 465.4L127.4 462.4L127.7 460.0L128.7 458.4L129.7 457.8L131.2 457.4L134.2 457.7L138.7 459.1L143.7 461.7L149.7 465.5L155.7 470.2L162.2 475.9L167.1 480.9L169.6 484.4L171.3 487.9L172.3 491.4L172.4 494.9L171.7 497.9L170.2 500.0L167.7 501.7L164.7 502.4Z"/>
<path id="h614" d="M163.2 499.4L161.2 499.4L158.7 498.9L156.2 497.8L153.7 496.4L149.7 492.9L143.0 485.4L137.9 478.4L134.4 471.9L133.5 469.4L133.2 466.9L133.5 464.9L134.3 463.9L136.2 463.2L139.2 463.5L142.7 464.7L146.7 466.8L151.2 469.8L156.2 473.6L161.2 478.0L165.2 482.1L167.1 484.9L168.6 487.9L169.4 490.9L169.4 493.4L169.0 495.4L167.7 497.4L165.7 498.8L163.2 499.4Z"/>
<path id="h615" d="M162.2 496.0L160.7 496.1L158.7 495.8L155.2 494.2L152.3 491.9L148.1 487.4L143.8 481.9L140.9 476.9L139.7 472.9L139.7 471.4L140.2 470.4L141.2 469.8L143.2 469.7L145.7 470.4L148.7 471.8L152.2 474.0L155.7 476.7L162.7 483.1L164.3 485.4L165.3 487.4L165.9 489.4L166.1 491.4L165.8 492.9L165.0 494.4L163.7 495.4L162.2 496.0Z"/>
</g>
<use href="#h610" fill="url(#sp0)"/>
<use href="#h611" fill="url(#sp1)"/>
<use href="#h612" fill="url(#sp2)"/>
<use href="#h613" fill="url(#sp3)"/>
<use href="#h614" fill="url(#sp4)"/>
<use href="#h615" fill="url(#sp5)"/>
<path d="M169.2 506.9L165.7 506.8L162.7 505.6L159.7 503.4L157.0 500.4L151.4 492.4L147.6 485.4L146.3 482.4L145.7 479.9L145.7 478.4L146.2 477.4L147.7 477.0L150.2 477.5L154.2 479.1L158.2 481.2L167.2 487.0L170.8 489.9L173.1 492.4L174.4 494.4L175.3 496.9L175.6 499.4L175.4 501.4L174.5 503.4L173.2 505.0L171.2 506.4L169.2 506.9Z" fill="#f3f8fc"/>
<path d="M167.7 504.0L165.2 503.8L162.2 502.4L159.8 500.4L157.3 497.4L153.6 491.9L151.0 486.9L150.1 483.4L150.2 482.4L150.7 481.8L151.7 481.5L153.7 481.7L159.2 484.2L165.7 488.5L168.7 490.9L170.5 492.9L171.5 494.4L172.3 496.4L172.6 498.4L172.4 499.9L171.8 501.4L170.7 502.7L169.2 503.6L167.7 504.0Z" fill="#ddecf6"/>
<path d="M166.7 501.0L164.7 500.8L162.7 499.9L161.2 498.7L159.2 496.4L156.7 492.9L155.2 489.9L154.6 487.4L154.7 486.8L155.2 486.2L156.2 486.0L157.2 486.2L160.7 487.7L164.7 490.4L168.0 493.4L169.4 495.9L169.6 497.9L168.7 499.9L167.7 500.6L166.7 501.0Z" fill="#c9e2f1"/>
<path d="M165.7 498.0L164.7 498.1L163.7 497.8L162.0 496.4L159.7 493.2L159.2 491.9L159.3 490.9L160.2 490.6L161.7 491.1L163.7 492.3L165.5 493.9L166.3 494.9L166.7 496.4L166.4 497.4L165.7 498.0Z" fill="#aed4ea"/>
<path d="M169.2 506.9L165.7 506.8L162.7 505.6L159.7 503.4L157.0 500.4L151.4 492.4L147.6 485.4L146.3 482.4L145.7 479.9L145.7 478.4L146.2 477.4L147.7 477.0L150.2 477.5L154.2 479.1L158.2 481.2L167.2 487.0L170.8 489.9L173.1 492.4L174.4 494.4L175.3 496.9L175.6 499.4L175.4 501.4L174.5 503.4L173.2 505.0L171.2 506.4L169.2 506.9ZM167.7 504.0L165.2 503.8L162.2 502.4L159.8 500.4L157.3 497.4L153.6 491.9L151.0 486.9L150.1 483.4L150.2 482.4L150.7 481.8L151.7 481.5L153.7 481.7L159.2 484.2L165.7 488.5L168.7 490.9L170.5 492.9L171.5 494.4L172.3 496.4L172.6 498.4L172.4 499.9L171.8 501.4L170.7 502.7L169.2 503.6L167.7 504.0ZM166.7 501.0L164.7 500.8L162.7 499.9L161.2 498.7L159.2 496.4L156.7 492.9L155.2 489.9L154.6 487.4L154.7 486.8L155.2 486.2L156.2 486.0L157.2 486.2L160.7 487.7L164.7 490.4L168.0 493.4L169.4 495.9L169.6 497.9L168.7 499.9L167.7 500.6L166.7 501.0ZM165.7 498.0L164.7 498.1L163.7 497.8L162.0 496.4L159.7 493.2L159.2 491.9L159.3 490.9L160.2 490.6L161.7 491.1L163.7 492.3L165.5 493.9L166.3 494.9L166.7 496.4L166.4 497.4L165.7 498.0Z" fill="none" stroke="#b3d7ed" stroke-width="0.8"/>
</g>
<g clip-path="url(#c62)">
<g filter="url(#hb)" fill="#6fb0d9" fill-opacity="0.045">
<path id="h620" d="M253.9 512.4L196.4 512.6L196.4 452.9L255.5 452.9L255.9 453.2L257.0 455.4L257.7 459.4L258.3 478.9L258.4 490.9L257.7 500.9L256.6 508.9L256.0 510.9L255.4 511.7L253.9 512.4Z"/>
<path id="h621" d="M253.4 509.4L196.4 509.5L196.4 453.9L251.9 453.9L254.4 454.1L255.4 454.5L256.5 456.4L257.1 459.9L257.8 478.9L257.9 490.9L257.3 499.4L256.3 505.4L255.1 508.4L254.4 509.1L253.4 509.4Z"/>
<path id="h622" d="M253.9 505.4L250.4 505.7L196.4 505.7L196.4 455.5L251.4 455.5L253.9 455.7L254.9 456.0L255.9 457.4L256.5 460.9L257.3 477.9L257.5 489.9L257.1 495.9L256.3 501.4L255.4 504.0L254.9 504.8L253.9 505.4Z"/>
<path id="h623" d="M253.9 501.9L250.4 502.2L196.4 502.2L196.4 458.1L250.9 458.1L253.4 458.2L254.4 458.7L254.9 459.3L255.4 460.8L255.9 464.9L256.8 477.9L257.1 488.9L256.8 493.9L256.0 498.9L254.9 501.3L253.9 501.9Z"/>
<path id="h624" d="M253.4 499.0L196.4 499.2L196.4 464.9L249.9 464.9L252.4 465.0L253.4 465.4L254.4 466.7L255.4 470.4L256.3 478.9L256.6 488.4L256.4 492.8L255.7 496.4L254.9 498.1L253.4 499.0Z"/>
<path id="h625" d="M253.9 495.5L250.4 495.9L196.4 495.9L196.4 473.7L249.4 473.7L252.9 474.0L253.9 474.6L254.9 476.6L255.4 479.1L255.9 484.9L255.8 491.9L254.9 494.6L253.9 495.5Z"/>
</g>
<use href="#h620" fill="url(#sp0)"/>
<use href="#h621" fill="url(#sp1)"/>
<use href="#h622" fill="url(#sp2)"/>
<use href="#h623" fill="url(#sp3)"/>
<use href="#h624" fill="url(#sp4)"/>
<use href="#h625" fill="url(#sp5)"/>
<path d="M248.9 503.9L243.4 504.4L196.4 504.4L196.4 482.0L243.9 482.0L247.4 482.2L249.4 482.6L251.4 484.1L252.5 486.4L252.9 489.4L253.1 495.4L252.8 498.9L252.0 501.4L250.9 502.9L248.9 503.9Z" fill="#f3f8fc"/>
<path d="M244.4 502.4L196.4 502.5L196.4 484.0L242.9 484.0L246.4 484.1L248.4 484.6L249.9 485.7L250.8 487.9L251.2 494.4L250.9 498.4L250.1 500.4L248.9 501.6L247.4 502.1L244.4 502.4Z" fill="#ddecf6"/>
<path d="M222.4 499.9L209.4 500.0L196.4 499.8L196.4 487.1L243.4 487.1L246.4 487.7L247.4 488.4L247.9 489.4L248.5 492.9L248.5 495.9L247.8 497.9L246.4 499.0L241.9 499.5L222.4 499.9Z" fill="#c9e2f1"/>
<path d="M215.9 497.4L209.4 497.6L203.9 497.2L199.3 496.4L198.2 495.9L197.9 495.4L198.2 494.9L199.2 494.4L201.4 493.8L205.9 493.2L210.9 493.1L216.4 493.3L222.0 493.9L226.4 494.9L226.7 495.4L223.8 496.4L215.9 497.4Z" fill="#aed4ea"/>
<path d="M196.4 482.0L242.9 482.0L248.4 482.4L250.7 483.4L252.2 485.4L252.9 488.4L253.1 494.4L252.8 498.9L252.0 501.4L250.4 503.3L247.9 504.1L242.4 504.4L196.4 504.4M196.4 484.0L241.9 484.0L247.4 484.3L249.4 485.2L250.5 486.9L251.0 489.4L251.2 494.4L251.0 497.9L250.1 500.4L248.9 501.6L246.9 502.2L241.4 502.4L196.4 502.5M196.4 487.1L238.9 487.1L244.9 487.3L246.8 487.9L247.7 488.9L248.2 490.9L248.6 494.4L248.4 496.4L247.8 497.9L246.5 498.9L244.4 499.4L214.4 500.0L196.4 499.8M215.9 497.4L209.4 497.6L203.9 497.2L199.3 496.4L198.2 495.9L197.9 495.4L198.2 494.9L199.2 494.4L201.4 493.8L205.9 493.2L210.9 493.1L216.4 493.3L222.0 493.9L226.4 494.9L226.7 495.4L223.8 496.4L215.9 497.4Z" fill="none" stroke="#b3d7ed" stroke-width="0.8"/>
</g>
<g clip-path="url(#c63)">
<g filter="url(#hb)" fill="#6fb0d9" fill-opacity="0.065">
<path id="h630" d="M338.1 521.9L269.1 521.9L269.1 452.9L338.1 452.9L338.1 521.9Z"/>
<path id="h631" d="M311.1 506.9L308.1 506.7L304.6 505.8L301.6 504.6L298.1 502.6L295.1 500.4L291.8 497.4L285.5 489.9L280.2 482.9L275.9 476.4L272.3 470.4L269.1 464.3L269.1 452.9L290.0 452.9L296.1 458.0L302.1 463.8L307.9 469.9L313.5 476.4L316.9 481.4L319.5 486.9L320.8 491.9L321.1 496.9L320.2 500.9L319.4 502.4L318.1 504.1L316.6 505.3L315.1 506.1L313.1 506.7L311.1 506.9Z"/>
<path id="h632" d="M311.1 502.5L308.6 502.8L305.6 502.4L302.6 501.4L299.6 499.8L296.6 497.8L294.1 495.6L288.3 488.9L283.9 482.9L280.2 477.4L277.3 472.4L274.7 467.4L272.9 462.9L271.8 458.9L271.5 455.4L272.1 452.9L283.0 452.9L286.6 455.0L292.6 459.4L298.6 464.6L304.9 470.9L311.1 477.9L313.8 481.9L315.8 485.9L317.0 489.9L317.4 493.4L316.9 496.9L315.7 499.4L313.7 501.4L311.1 502.5Z"/>
<path id="h633" d="M308.6 499.5L306.1 499.5L303.6 498.9L300.6 497.6L298.1 496.0L294.1 492.4L288.2 484.9L282.3 475.9L278.4 467.9L277.3 464.4L276.9 461.4L277.1 459.4L278.1 457.8L280.1 457.0L283.1 457.4L286.6 458.9L291.1 461.7L295.6 465.2L300.6 469.8L305.5 474.9L309.8 479.9L311.7 482.9L313.3 486.4L314.1 489.4L314.4 492.4L313.8 495.4L312.6 497.4L310.6 498.9L308.6 499.5Z"/>
<path id="h634" d="M308.1 496.4L306.6 496.7L304.6 496.6L302.6 496.0L300.1 494.8L296.1 491.6L291.8 486.4L286.3 478.4L282.8 471.4L281.9 468.4L281.6 465.9L281.7 464.4L282.6 463.0L284.1 462.4L286.6 462.8L289.6 464.1L292.6 466.0L296.1 468.6L300.1 472.2L307.7 480.4L309.4 482.9L310.6 485.4L311.5 487.9L311.8 490.4L311.6 492.4L310.8 494.4L309.6 495.7L308.1 496.4Z"/>
<path id="h635" d="M305.6 493.5L304.1 493.5L302.6 493.2L299.6 491.7L297.0 489.4L293.6 485.1L290.1 479.9L287.7 474.9L286.9 471.4L287.0 469.9L287.6 469.0L288.6 468.6L290.6 468.9L292.6 469.7L295.1 471.3L300.6 475.9L306.1 481.9L308.3 485.9L308.8 489.4L308.6 490.9L308.1 491.9L307.1 492.9L305.6 493.5Z"/>
</g>
<use href="#h630" fill="url(#sp0)"/>
<use href="#h631" fill="url(#sp1)"/>
<use href="#h632" fill="url(#sp2)"/>
<use href="#h633" fill="url(#sp3)"/>
<use href="#h634" fill="url(#sp4)"/>
<use href="#h635" fill="url(#sp5)"/>
<path d="M313.1 506.4L310.1 506.5L306.6 505.2L303.6 502.9L300.9 499.4L296.4 490.9L293.3 482.9L292.6 479.9L292.4 477.4L292.7 475.9L293.6 475.1L295.1 474.9L297.6 475.7L300.6 477.2L304.1 479.5L312.1 486.0L315.5 489.4L317.4 491.9L318.5 493.9L319.2 496.4L319.4 498.9L319.1 500.9L318.2 502.9L317.0 504.4L315.1 505.7L313.1 506.4Z" fill="#f3f8fc"/>
<path d="M311.1 503.4L308.6 503.1L305.6 501.4L303.6 499.4L301.3 495.9L298.5 490.4L296.7 485.4L296.2 481.9L296.6 480.4L297.1 479.9L298.6 479.7L300.1 480.1L304.6 482.6L310.6 487.5L313.4 490.4L314.9 492.4L315.9 494.4L316.4 496.4L316.5 497.9L316.1 499.7L315.1 501.4L314.1 502.4L312.6 503.1L311.1 503.4Z" fill="#ddecf6"/>
<path d="M311.6 499.9L310.1 500.3L308.1 499.9L306.1 498.7L304.6 497.0L302.4 493.4L300.6 489.4L300.0 486.4L300.2 485.4L300.6 484.8L302.1 484.5L305.1 485.9L309.0 488.9L312.1 492.3L313.2 494.4L313.6 496.9L312.8 498.9L311.6 499.9Z" fill="#c9e2f1"/>
<path d="M309.6 497.1L308.6 497.2L307.6 496.8L305.8 494.9L304.1 491.4L304.0 489.9L304.4 489.4L305.6 489.5L307.1 490.3L310.1 493.3L310.6 494.4L310.7 495.9L310.1 496.9L309.6 497.1Z" fill="#aed4ea"/>
<path d="M313.1 506.4L310.1 506.5L306.6 505.2L303.6 502.9L300.9 499.4L296.4 490.9L293.3 482.9L292.6 479.9L292.4 477.4L292.7 475.9L293.6 475.1L295.1 474.9L297.6 475.7L300.6 477.2L304.1 479.5L312.1 486.0L315.5 489.4L317.4 491.9L318.5 493.9L319.2 496.4L319.4 498.9L319.1 500.9L318.2 502.9L317.0 504.4L315.1 505.7L313.1 506.4ZM311.1 503.4L308.6 503.1L305.6 501.4L303.6 499.4L301.3 495.9L298.5 490.4L296.7 485.4L296.2 481.9L296.6 480.4L297.1 479.9L298.6 479.7L300.1 480.1L304.6 482.6L310.6 487.5L313.4 490.4L314.9 492.4L315.9 494.4L316.4 496.4L316.5 497.9L316.1 499.7L315.1 501.4L314.1 502.4L312.6 503.1L311.1 503.4ZM311.6 499.9L310.1 500.3L308.1 499.9L306.1 498.7L304.6 497.0L302.4 493.4L300.6 489.4L300.0 486.4L300.2 485.4L300.6 484.8L302.1 484.5L305.1 485.9L309.0 488.9L312.1 492.3L313.2 494.4L313.6 496.9L312.8 498.9L311.6 499.9ZM309.6 497.1L308.6 497.2L307.6 496.8L305.8 494.9L304.1 491.4L304.0 489.9L304.4 489.4L305.6 489.5L307.1 490.3L310.1 493.3L310.6 494.4L310.7 495.9L310.1 496.9L309.6 497.1Z" fill="none" stroke="#b3d7ed" stroke-width="0.8"/>
</g>
<g clip-path="url(#c64)">
<g filter="url(#hb)" fill="#6fb0d9" fill-opacity="0.065">
<path id="h640" d="M410.8 521.9L341.8 521.9L341.8 452.9L410.8 452.9L410.8 521.9Z"/>
<path id="h641" d="M388.8 509.9L384.8 510.3L380.3 509.7L375.3 508.1L370.8 505.8L366.8 503.0L363.3 500.0L357.9 494.4L352.6 488.4L346.5 480.4L341.8 473.2L341.8 452.9L359.6 452.9L367.3 457.7L375.8 464.1L384.3 471.7L390.3 477.9L394.1 483.4L396.5 488.4L398.0 493.4L398.3 497.9L397.5 502.4L395.6 505.9L392.7 508.4L388.8 509.9Z"/>
<path id="h642" d="M383.8 505.9L380.3 505.6L376.8 504.7L373.3 503.2L369.8 501.1L366.8 498.7L363.8 495.8L355.1 485.9L351.0 480.4L348.1 475.9L345.7 471.4L344.0 467.4L342.9 463.4L342.7 460.4L343.2 457.9L344.7 455.9L346.3 455.0L347.8 454.7L351.8 455.0L356.8 456.5L362.8 459.5L369.3 463.6L375.8 468.6L383.3 475.3L388.0 480.4L391.0 484.9L392.9 489.4L393.8 493.4L393.8 497.4L392.6 500.9L390.7 503.4L387.8 505.1L383.8 505.9Z"/>
<path id="h643" d="M382.8 502.4L380.3 502.4L377.3 501.8L374.3 500.6L371.3 498.9L366.5 494.9L358.9 486.4L355.6 481.9L353.0 477.9L351.1 474.4L349.6 470.9L348.7 467.4L348.6 464.9L349.1 462.9L350.3 461.5L351.3 460.9L352.8 460.6L356.3 460.9L360.3 462.2L365.3 464.7L370.8 468.2L375.8 472.1L381.8 477.4L385.5 481.4L387.9 484.9L389.5 488.4L390.3 491.9L390.4 495.4L389.4 498.4L387.8 500.4L385.8 501.7L382.8 502.4Z"/>
<path id="h644" d="M381.3 499.4L379.3 499.4L376.8 498.9L374.3 497.9L371.8 496.4L367.8 493.0L362.0 486.4L357.4 479.9L354.5 473.9L353.8 471.4L353.7 469.4L354.2 467.4L355.1 466.4L357.3 465.7L359.8 465.9L363.3 467.0L366.8 468.8L370.8 471.3L375.3 474.7L380.1 478.9L383.4 482.4L385.1 484.9L386.6 487.9L387.4 490.9L387.4 493.4L387.0 495.4L385.7 497.4L383.8 498.8L381.3 499.4Z"/>
<path id="h645" d="M380.3 496.0L377.3 495.9L373.5 494.4L370.8 492.4L366.6 487.9L362.9 482.9L360.4 478.4L359.8 476.4L359.5 474.4L359.8 472.9L360.3 472.2L361.8 471.5L363.8 471.6L366.3 472.4L368.8 473.6L374.8 477.7L380.8 483.3L382.3 485.4L383.3 487.4L383.9 489.4L384.1 491.4L383.8 492.9L383.0 494.4L381.8 495.4L380.3 496.0Z"/>
</g>
<use href="#h640" fill="url(#sp0)"/>
<use href="#h641" fill="url(#sp1)"/>
<use href="#h642" fill="url(#sp2)"/>
<use href="#h643" fill="url(#sp3)"/>
<use href="#h644" fill="url(#sp4)"/>
<use href="#h645" fill="url(#sp5)"/>
<path d="M386.8 507.5L383.3 507.5L379.8 506.2L376.8 503.8L374.1 500.4L369.7 492.9L366.4 485.4L365.6 482.4L365.2 479.9L365.4 478.4L366.3 477.2L367.8 476.8L370.3 477.2L373.8 478.5L377.8 480.6L382.8 483.7L386.8 486.7L389.9 489.4L392.1 491.9L393.4 494.4L394.1 496.9L394.2 499.4L393.8 501.4L392.8 503.4L391.1 505.4L389.3 506.6L386.8 507.5Z" fill="#f3f8fc"/>
<path d="M385.3 504.4L382.3 504.1L379.8 502.9L377.5 500.9L374.9 497.4L372.0 492.4L369.8 486.9L369.4 483.4L369.6 482.4L370.3 481.7L371.8 481.3L373.8 481.6L376.3 482.6L379.3 484.2L385.8 488.9L388.0 490.9L389.6 492.9L390.6 494.9L391.0 496.9L391.0 498.9L390.6 500.4L389.7 501.9L388.3 503.3L386.8 504.1L385.3 504.4Z" fill="#ddecf6"/>
<path d="M385.3 501.1L383.3 501.3L381.3 500.7L379.5 499.4L377.8 497.4L375.3 493.4L373.8 489.9L373.5 487.4L374.3 486.1L375.3 485.9L376.3 486.0L379.3 487.2L383.3 489.9L386.5 492.9L387.8 495.4L387.9 497.9L387.0 499.9L385.3 501.1Z" fill="#c9e2f1"/>
<path d="M383.8 498.1L382.8 498.2L381.7 497.9L380.8 497.3L379.6 495.9L378.4 493.9L377.8 492.4L377.8 491.2L378.3 490.6L379.3 490.5L381.2 491.4L384.3 494.1L384.9 495.4L385.0 496.4L384.7 497.4L383.8 498.1Z" fill="#aed4ea"/>
<path d="M386.8 507.5L383.3 507.5L379.8 506.2L376.8 503.8L374.1 500.4L369.7 492.9L366.4 485.4L365.6 482.4L365.2 479.9L365.4 478.4L366.3 477.2L367.8 476.8L370.3 477.2L373.8 478.5L377.8 480.6L382.8 483.7L386.8 486.7L389.9 489.4L392.1 491.9L393.4 494.4L394.1 496.9L394.2 499.4L393.8 501.4L392.8 503.4L391.1 505.4L389.3 506.6L386.8 507.5ZM385.3 504.4L382.3 504.1L379.8 502.9L377.5 500.9L374.9 497.4L372.0 492.4L369.8 486.9L369.4 483.4L369.6 482.4L370.3 481.7L371.8 481.3L373.8 481.6L376.3 482.6L379.3 484.2L385.8 488.9L388.0 490.9L389.6 492.9L390.6 494.9L391.0 496.9L391.0 498.9L390.6 500.4L389.7 501.9L388.3 503.3L386.8 504.1L385.3 504.4ZM385.3 501.1L383.3 501.3L381.3 500.7L379.5 499.4L377.8 497.4L375.3 493.4L373.8 489.9L373.5 487.4L374.3 486.1L375.3 485.9L376.3 486.0L379.3 487.2L383.3 489.9L386.5 492.9L387.8 495.4L387.9 497.9L387.0 499.9L385.3 501.1ZM383.8 498.1L382.8 498.2L381.7 497.9L380.8 497.3L379.6 495.9L378.4 493.9L377.8 492.4L377.8 491.2L378.3 490.6L379.3 490.5L381.2 491.4L384.3 494.1L384.9 495.4L385.0 496.4L384.7 497.4L383.8 498.1Z" fill="none" stroke="#b3d7ed" stroke-width="0.8"/>
</g>
<g clip-path="url(#c65)">
<g filter="url(#hb)" fill="#6fb0d9" fill-opacity="0.065">
<path id="h650" d="M483.5 521.9L414.5 521.9L414.5 452.9L483.5 452.9L483.5 521.9Z"/>
<path id="h651" d="M483.5 511.5L477.0 510.1L470.0 508.2L463.0 505.7L456.0 502.7L450.0 499.7L444.0 496.1L437.5 491.6L432.5 487.6L427.5 483.0L422.6 477.9L418.7 473.4L414.5 467.7L414.5 452.9L440.0 452.9L450.0 461.4L460.9 469.9L471.4 477.4L483.5 485.5L483.5 511.5Z"/>
<path id="h652" d="M483.5 509.2L477.5 508.2L471.0 506.6L464.0 504.3L457.5 501.6L451.5 498.7L445.5 495.2L440.0 491.5L435.0 487.7L429.1 482.4L423.8 476.9L418.9 470.9L414.5 464.7L414.5 452.9L432.9 452.9L455.0 470.9L483.5 492.1L483.5 509.2Z"/>
<path id="h653" d="M482.5 506.0L479.5 506.3L474.0 505.6L468.0 504.1L461.0 501.7L455.0 499.0L448.5 495.6L443.0 492.1L437.5 488.1L431.5 483.0L426.4 477.9L421.3 471.9L416.7 465.4L414.5 461.8L414.5 452.9L426.1 452.9L434.5 459.2L469.3 486.4L478.1 493.9L481.7 497.9L483.4 500.9L483.5 504.7L482.5 506.0Z"/>
<path id="h654" d="M473.0 503.0L470.5 502.9L466.0 501.9L461.0 500.3L456.0 498.2L446.5 493.1L437.5 486.8L433.0 482.9L428.9 478.9L425.3 474.9L421.7 470.4L418.4 465.4L416.0 461.0L414.9 457.9L414.9 456.9L415.1 456.4L417.0 455.2L419.5 455.2L422.5 456.1L426.5 458.1L431.5 461.3L437.5 465.6L457.2 480.9L467.2 489.4L470.2 492.4L472.7 495.4L474.2 497.9L474.7 499.9L474.3 501.9L474.0 502.5L473.0 503.0Z"/>
<path id="h655" d="M464.0 498.6L462.5 498.6L459.6 497.9L452.5 495.0L445.5 491.1L438.5 486.1L432.1 480.4L426.6 474.4L422.5 468.4L421.4 465.9L421.5 464.8L422.9 463.9L424.5 463.8L427.0 464.3L430.0 465.6L437.5 470.1L448.0 478.0L456.8 485.4L462.5 491.4L464.1 493.9L464.8 495.9L464.8 497.4L464.0 498.6Z"/>
</g>
<use href="#h650" fill="url(#sp0)"/>
<use href="#h651" fill="url(#sp1)"/>
<use href="#h652" fill="url(#sp2)"/>
<use href="#h653" fill="url(#sp3)"/>
<use href="#h654" fill="url(#sp4)"/>
<use href="#h655" fill="url(#sp5)"/>
<path d="M457.0 504.0L454.5 504.3L451.5 504.3L448.0 503.7L445.5 503.0L442.5 501.6L440.0 500.0L436.3 496.4L434.6 493.9L433.2 490.9L432.2 487.9L431.7 484.9L431.6 481.9L432.0 478.9L432.9 476.4L434.0 475.2L435.0 474.7L436.0 474.8L437.5 475.4L439.0 476.5L459.8 497.4L461.0 499.4L461.3 500.4L461.2 501.4L459.9 502.9L457.0 504.0Z" fill="#f3f8fc"/>
<path d="M454.0 501.5L452.0 501.8L450.0 501.8L445.5 500.8L441.5 498.6L438.5 495.9L435.8 491.9L434.4 487.4L434.2 484.9L434.3 482.9L434.8 481.4L435.5 480.4L436.5 479.8L437.5 479.8L439.0 480.5L440.5 481.5L445.0 485.5L453.2 493.9L455.5 496.9L456.2 498.9L455.7 500.4L454.0 501.5Z" fill="#ddecf6"/>
<path d="M450.0 498.9L447.5 499.0L445.0 498.2L442.5 496.9L440.0 494.6L438.2 491.9L437.2 489.4L437.0 486.9L437.1 485.9L437.7 484.9L439.0 484.4L441.5 485.5L444.5 487.9L448.4 491.9L450.4 494.4L451.4 496.4L451.4 497.9L451.0 498.4L450.0 498.9Z" fill="#c9e2f1"/>
<path d="M446.5 495.9L445.5 495.9L444.0 495.3L441.6 493.4L440.2 490.9L440.1 489.4L440.5 488.8L441.5 488.7L442.5 489.2L445.7 491.9L447.2 494.4L447.2 495.4L446.5 495.9Z" fill="#aed4ea"/>
<path d="M457.0 504.0L454.5 504.3L451.5 504.3L448.0 503.7L445.5 503.0L442.5 501.6L440.0 500.0L436.3 496.4L434.6 493.9L433.2 490.9L432.2 487.9L431.7 484.9L431.6 481.9L432.0 478.9L432.9 476.4L434.0 475.2L435.0 474.7L436.0 474.8L437.5 475.4L439.0 476.5L459.8 497.4L461.0 499.4L461.3 500.4L461.2 501.4L459.9 502.9L457.0 504.0ZM454.0 501.5L452.0 501.8L450.0 501.8L445.5 500.8L441.5 498.6L438.5 495.9L435.8 491.9L434.4 487.4L434.2 484.9L434.3 482.9L434.8 481.4L435.5 480.4L436.5 479.8L437.5 479.8L439.0 480.5L440.5 481.5L445.0 485.5L453.2 493.9L455.5 496.9L456.2 498.9L455.7 500.4L454.0 501.5ZM450.0 498.9L447.5 499.0L445.0 498.2L442.5 496.9L440.0 494.6L438.2 491.9L437.2 489.4L437.0 486.9L437.1 485.9L437.7 484.9L439.0 484.4L441.5 485.5L444.5 487.9L448.4 491.9L450.4 494.4L451.4 496.4L451.4 497.9L451.0 498.4L450.0 498.9ZM446.5 495.9L445.5 495.9L444.0 495.3L441.6 493.4L440.2 490.9L440.1 489.4L440.5 488.8L441.5 488.7L442.5 489.2L445.7 491.9L447.2 494.4L447.2 495.4L446.5 495.9Z" fill="none" stroke="#b3d7ed" stroke-width="0.8"/>
</g>
<g clip-path="url(#c70)">
<g filter="url(#hb)" fill="#6fb0d9" fill-opacity="0.065">
<path id="h700" d="M104.0 594.6L103.1 594.6L103.0 594.4L100.5 584.4L100.0 582.8L99.0 581.0L98.0 580.5L94.5 580.6L91.0 580.0L88.0 578.9L84.5 577.0L81.0 574.4L78.1 571.6L70.3 562.1L61.7 550.1L54.8 538.6L51.0 530.6L51.0 525.6L70.9 525.6L76.5 530.3L83.0 536.4L97.0 551.3L98.5 552.2L101.0 551.8L102.0 552.7L103.0 554.7L103.9 558.1L104.9 567.1L105.2 576.1L105.1 585.6L104.6 593.1L104.3 594.6L104.0 594.6Z"/>
<path id="h701" d="M104.0 590.9L103.5 591.0L103.0 590.1L100.5 580.5L100.0 579.0L99.0 577.5L98.0 577.3L94.5 577.9L92.0 577.6L89.0 576.8L85.5 575.1L82.5 573.0L79.5 570.3L72.4 561.6L64.3 550.1L58.2 539.6L56.2 535.1L54.8 531.1L54.2 528.1L54.3 525.6L66.0 525.6L67.5 526.6L74.0 531.3L81.5 537.9L88.5 544.9L98.0 555.4L99.0 555.9L101.0 555.6L102.0 556.4L103.0 558.3L103.8 561.1L104.6 569.1L104.8 583.1L104.5 588.1L104.0 590.9Z"/>
<path id="h702" d="M103.5 586.8L102.5 584.7L100.5 576.8L100.0 575.5L99.1 574.1L98.0 574.2L95.0 575.4L93.0 575.5L90.0 575.1L86.5 573.6L83.5 571.7L80.7 569.1L73.3 560.1L65.8 549.1L62.7 543.6L60.6 539.1L59.2 535.1L58.7 532.1L59.0 529.6L60.0 528.4L62.0 527.9L65.0 528.6L69.0 530.6L73.5 533.6L79.5 538.5L86.0 544.8L92.8 552.1L98.5 559.1L99.5 559.5L101.0 559.1L102.0 559.6L103.0 561.6L103.5 563.5L104.3 570.1L104.4 581.6L104.0 586.0L103.5 586.8Z"/>
<path id="h703" d="M103.5 581.5L103.0 581.4L102.5 580.2L100.0 570.0L99.5 568.4L99.0 568.0L97.4 570.6L95.5 572.4L93.5 573.1L91.0 573.1L88.0 572.3L85.0 570.7L82.5 568.6L79.7 565.6L71.8 555.1L68.7 550.1L65.9 545.1L64.2 541.1L63.3 537.6L63.3 535.1L64.1 533.6L65.0 533.2L66.0 533.1L69.0 533.9L72.5 535.8L77.0 539.0L85.0 546.2L93.7 555.6L96.4 559.6L99.0 565.6L99.5 565.7L101.0 563.4L101.5 563.2L102.0 563.5L103.0 565.6L103.7 570.1L104.0 576.6L103.5 581.5Z"/>
<path id="h704" d="M93.0 570.8L91.5 571.0L89.5 570.8L86.0 569.3L82.5 566.5L78.5 561.6L72.9 553.6L69.1 546.6L68.0 543.6L67.5 541.6L67.6 539.6L68.2 538.6L69.5 538.2L72.0 538.7L75.0 540.3L78.0 542.4L85.5 549.0L92.9 557.1L94.2 559.1L95.4 561.6L96.0 563.6L96.2 565.6L96.1 567.1L95.5 568.7L94.5 570.0L93.0 570.8Z"/>
<path id="h705" d="M91.5 568.2L89.0 568.2L86.5 567.3L84.0 565.3L81.3 562.1L77.0 556.1L74.2 551.1L72.7 547.1L72.7 545.6L73.1 544.6L74.0 544.2L75.5 544.4L77.5 545.3L80.0 547.0L85.5 551.8L91.3 558.1L93.1 561.1L93.8 564.1L93.3 566.6L92.5 567.6L91.5 568.2Z"/>
</g>
<use href="#h700" fill="url(#sp0)"/>
<use href="#h701" fill="url(#sp1)"/>
<use href="#h702" fill="url(#sp2)"/>
<use href="#h703" fill="url(#sp3)"/>
<use href="#h704" fill="url(#sp4)"/>
<use href="#h705" fill="url(#sp5)"/>
<path d="M101.5 579.7L99.0 579.8L95.5 578.6L92.0 576.3L88.9 573.1L82.8 565.6L78.2 558.6L76.0 553.6L75.8 552.1L76.2 551.1L77.5 550.8L79.5 551.2L85.5 554.3L93.5 560.0L100.5 566.1L102.6 569.1L103.3 571.1L103.6 573.1L103.6 575.6L103.3 577.6L102.5 579.1L101.5 579.7Z" fill="#f3f8fc"/>
<path d="M100.5 576.7L98.5 577.1L96.0 576.5L93.0 574.8L90.6 572.6L85.6 566.6L82.3 561.6L80.5 557.6L80.3 556.6L80.6 555.6L81.5 555.3L83.0 555.6L87.5 557.8L93.5 562.1L98.7 566.6L100.9 569.6L101.9 572.6L101.8 575.1L101.2 576.1L100.5 576.7Z" fill="#ddecf6"/>
<path d="M98.0 574.3L96.5 574.3L94.5 573.6L92.5 572.1L91.0 570.6L88.1 567.1L86.1 564.1L85.0 561.6L85.0 560.1L85.5 559.9L86.5 559.9L89.5 561.3L93.5 564.2L97.0 567.3L98.7 569.6L99.3 571.6L99.2 573.1L98.9 573.6L98.0 574.3Z" fill="#c9e2f1"/>
<path d="M96.0 571.7L95.0 571.6L94.0 571.1L92.3 569.6L90.1 566.6L89.4 565.1L89.5 564.6L90.5 564.5L91.8 565.1L95.5 568.1L96.6 570.1L96.6 571.1L96.0 571.7Z" fill="#aed4ea"/>
<path d="M101.5 579.7L99.0 579.8L95.5 578.6L92.0 576.3L88.9 573.1L82.8 565.6L78.2 558.6L76.0 553.6L75.8 552.1L76.2 551.1L77.5 550.8L79.5 551.2L85.5 554.3L93.5 560.0L100.5 566.1L102.6 569.1L103.3 571.1L103.6 573.1L103.6 575.6L103.3 577.6L102.5 579.1L101.5 579.7ZM100.5 576.7L98.5 577.1L96.0 576.5L93.0 574.8L90.6 572.6L85.6 566.6L82.3 561.6L80.5 557.6L80.3 556.6L80.6 555.6L81.5 555.3L83.0 555.6L87.5 557.8L93.5 562.1L98.7 566.6L100.9 569.6L101.9 572.6L101.8 575.1L101.2 576.1L100.5 576.7ZM98.0 574.3L96.5 574.3L94.5 573.6L92.5 572.1L91.0 570.6L88.1 567.1L86.1 564.1L85.0 561.6L85.0 560.1L85.5 559.9L86.5 559.9L89.5 561.3L93.5 564.2L97.0 567.3L98.7 569.6L99.3 571.6L99.2 573.1L98.9 573.6L98.0 574.3ZM96.0 571.7L95.0 571.6L94.0 571.1L92.3 569.6L90.1 566.6L89.4 565.1L89.5 564.6L90.5 564.5L91.8 565.1L95.5 568.1L96.6 570.1L96.6 571.1L96.0 571.7Z" fill="none" stroke="#b3d7ed" stroke-width="0.8"/>
</g>
<g clip-path="url(#c71)">
<g filter="url(#hb)" fill="#6fb0d9" fill-opacity="0.065">
<path id="h710" d="M192.7 594.6L123.7 594.6L123.7 525.6L192.7 525.6L192.7 594.6Z"/>
<path id="h711" d="M170.7 584.7L167.7 584.8L164.2 584.3L160.2 582.9L156.2 580.8L152.7 578.4L149.2 575.4L146.1 572.1L142.0 567.1L137.0 560.6L131.4 552.6L127.0 545.6L123.7 539.8L123.7 525.6L145.7 525.6L152.2 531.3L158.7 537.5L165.4 544.6L171.4 551.6L174.9 556.6L177.8 562.6L179.4 568.1L179.9 573.1L179.1 577.6L178.2 579.6L177.2 581.1L175.7 582.6L174.2 583.6L170.7 584.7Z"/>
<path id="h712" d="M168.7 580.2L166.2 580.3L163.2 579.9L160.2 578.9L157.2 577.5L154.2 575.5L151.2 573.0L145.5 566.6L140.9 560.6L136.3 554.1L132.6 548.1L129.3 542.1L126.9 536.6L125.4 532.1L124.9 528.6L125.1 525.6L138.6 525.6L140.7 526.9L147.2 531.6L154.2 537.7L161.6 545.1L168.7 553.1L171.5 557.1L173.8 561.6L175.3 566.1L175.8 570.1L175.4 573.6L174.1 576.6L173.2 577.8L171.7 579.0L168.7 580.2Z"/>
<path id="h713" d="M166.7 576.7L164.2 576.8L161.7 576.3L158.7 575.2L155.7 573.4L153.2 571.5L150.8 569.1L144.3 561.1L137.3 550.6L134.6 545.6L132.6 541.1L131.3 537.1L130.9 534.1L131.2 531.6L132.2 530.1L133.2 529.6L134.7 529.4L137.7 530.0L141.7 531.8L146.2 534.7L151.2 538.7L156.7 543.7L162.5 549.6L167.6 555.6L169.8 559.1L171.4 562.6L172.3 566.1L172.5 569.1L172.0 572.1L170.9 574.1L169.2 575.7L166.7 576.7Z"/>
<path id="h714" d="M164.7 573.7L162.7 573.7L160.2 573.1L157.7 572.0L155.7 570.7L151.8 567.1L146.6 560.6L141.3 552.6L137.6 545.1L136.6 542.1L136.1 539.6L136.3 537.6L137.2 536.1L138.2 535.7L139.2 535.6L141.7 536.0L144.7 537.4L148.7 540.0L152.7 543.1L157.2 547.3L161.7 552.0L165.7 556.6L167.3 559.1L168.7 562.1L169.5 565.1L169.7 567.6L169.2 570.1L168.2 571.9L166.7 573.1L164.7 573.7Z"/>
<path id="h715" d="M163.2 570.2L160.2 570.0L156.7 568.3L153.7 565.7L150.4 561.6L146.0 555.1L143.2 549.6L142.1 545.6L142.2 544.1L142.7 543.1L143.7 542.5L145.7 542.7L148.2 543.8L150.7 545.3L157.2 550.8L163.5 557.6L165.7 561.6L166.3 563.6L166.5 565.6L166.3 567.1L165.6 568.6L164.7 569.6L163.2 570.2Z"/>
</g>
<use href="#h710" fill="url(#sp0)"/>
<use href="#h711" fill="url(#sp1)"/>
<use href="#h712" fill="url(#sp2)"/>
<use href="#h713" fill="url(#sp3)"/>
<use href="#h714" fill="url(#sp4)"/>
<use href="#h715" fill="url(#sp5)"/>
<path d="M172.2 580.2L169.2 580.2L165.7 579.0L162.2 576.6L158.9 573.1L153.0 565.6L148.6 558.6L147.4 556.1L146.6 553.6L146.6 552.1L147.2 551.3L148.7 551.1L150.7 551.5L153.7 552.9L157.2 554.9L165.7 560.9L169.7 564.3L172.0 566.6L173.9 569.1L174.9 571.1L175.6 573.1L175.9 575.1L175.7 576.6L175.0 578.1L173.7 579.5L172.2 580.2Z" fill="#f3f8fc"/>
<path d="M170.7 577.3L168.2 577.4L165.2 576.3L162.7 574.6L159.9 571.6L155.5 566.1L152.4 561.1L151.1 557.6L151.2 556.3L151.7 555.8L152.7 555.6L154.7 556.1L159.2 558.4L165.2 562.7L170.0 567.1L172.1 570.1L173.0 573.1L173.0 574.6L172.6 575.6L171.9 576.6L170.7 577.3Z" fill="#ddecf6"/>
<path d="M168.2 574.7L166.2 574.5L164.2 573.4L162.7 572.1L160.4 569.6L157.8 566.1L156.1 563.1L155.6 561.1L156.2 560.2L158.2 560.5L161.2 562.0L165.2 565.0L168.5 568.1L169.9 570.6L170.2 572.6L169.5 574.1L168.2 574.7Z" fill="#c9e2f1"/>
<path d="M167.2 571.7L166.7 572.0L165.7 571.9L163.7 570.7L161.2 567.6L160.4 566.1L160.2 565.1L160.7 564.7L162.2 565.1L165.7 567.7L167.2 569.6L167.5 570.6L167.2 571.7Z" fill="#aed4ea"/>
<path d="M172.2 580.2L169.2 580.2L165.7 579.0L162.2 576.6L158.9 573.1L153.0 565.6L148.6 558.6L147.4 556.1L146.6 553.6L146.6 552.1L147.2 551.3L148.7 551.1L150.7 551.5L153.7 552.9L157.2 554.9L165.7 560.9L169.7 564.3L172.0 566.6L173.9 569.1L174.9 571.1L175.6 573.1L175.9 575.1L175.7 576.6L175.0 578.1L173.7 579.5L172.2 580.2ZM170.7 577.3L168.2 577.4L165.2 576.3L162.7 574.6L159.9 571.6L155.5 566.1L152.4 561.1L151.1 557.6L151.2 556.3L151.7 555.8L152.7 555.6L154.7 556.1L159.2 558.4L165.2 562.7L170.0 567.1L172.1 570.1L173.0 573.1L173.0 574.6L172.6 575.6L171.9 576.6L170.7 577.3ZM168.2 574.7L166.2 574.5L164.2 573.4L162.7 572.1L160.4 569.6L157.8 566.1L156.1 563.1L155.6 561.1L156.2 560.2L158.2 560.5L161.2 562.0L165.2 565.0L168.5 568.1L169.9 570.6L170.2 572.6L169.5 574.1L168.2 574.7ZM167.2 571.7L166.7 572.0L165.7 571.9L163.7 570.7L161.2 567.6L160.4 566.1L160.2 565.1L160.7 564.7L162.2 565.1L165.7 567.7L167.2 569.6L167.5 570.6L167.2 571.7Z" fill="none" stroke="#b3d7ed" stroke-width="0.8"/>
</g>
<g clip-path="url(#c72)">
<g filter="url(#hb)" fill="#6fb0d9" fill-opacity="0.045">
<path id="h720" d="M254.4 584.3L250.9 584.6L196.4 584.6L196.4 525.6L255.2 525.6L255.9 526.1L257.1 528.6L257.7 532.1L258.5 562.1L257.8 572.1L256.7 580.1L255.9 583.0L255.4 583.7L254.4 584.3Z"/>
<path id="h721" d="M253.9 581.3L250.4 581.5L196.4 581.5L196.4 526.8L251.9 526.8L254.4 527.0L255.4 527.4L256.5 529.1L257.1 532.6L257.8 550.1L258.0 562.1L257.5 569.1L256.4 576.8L255.4 580.0L254.9 580.7L253.9 581.3Z"/>
<path id="h722" d="M252.4 577.7L196.4 577.7L196.4 528.4L251.9 528.5L253.9 528.6L255.2 529.1L256.0 530.6L256.6 534.6L257.4 554.1L257.5 563.6L256.8 570.6L255.9 574.8L255.4 576.0L254.4 577.2L252.4 577.7Z"/>
<path id="h723" d="M252.4 574.2L196.4 574.2L196.4 530.9L250.9 530.9L253.4 531.0L254.4 531.5L254.9 532.0L255.4 533.4L255.9 537.1L256.9 551.6L257.0 563.1L256.4 568.9L255.4 572.5L254.4 573.7L252.4 574.2Z"/>
<path id="h724" d="M251.9 571.2L196.4 571.2L196.4 537.0L249.9 537.0L252.4 537.1L253.4 537.5L254.4 538.7L254.9 540.1L255.8 545.6L256.5 554.1L256.6 562.6L256.0 567.1L255.2 569.6L253.9 570.9L251.9 571.2Z"/>
<path id="h725" d="M253.4 567.7L249.9 567.9L196.4 567.9L196.4 545.7L249.4 545.7L252.9 546.0L253.9 546.6L254.9 548.6L255.6 552.6L256.0 559.1L255.9 563.1L255.4 565.5L254.4 567.2L253.4 567.7Z"/>
</g>
<use href="#h720" fill="url(#sp0)"/>
<use href="#h721" fill="url(#sp1)"/>
<use href="#h722" fill="url(#sp2)"/>
<use href="#h723" fill="url(#sp3)"/>
<use href="#h724" fill="url(#sp4)"/>
<use href="#h725" fill="url(#sp5)"/>
<path d="M246.9 575.2L196.4 575.3L196.4 554.7L243.9 554.7L247.4 554.9L249.4 555.5L251.0 556.6L252.2 559.1L252.7 566.1L252.6 569.1L252.0 571.6L250.9 573.5L249.4 574.6L246.9 575.2Z" fill="#f3f8fc"/>
<path d="M224.9 573.7L196.4 573.6L196.4 556.5L244.4 556.5L247.9 557.0L249.0 557.6L249.8 558.6L250.5 561.1L250.7 568.1L250.0 571.1L248.7 572.6L246.9 573.3L244.4 573.5L224.9 573.7Z" fill="#ddecf6"/>
<path d="M222.4 571.7L209.4 571.9L196.4 571.5L196.4 559.3L242.9 559.4L245.9 559.8L246.9 560.5L247.4 561.4L248.2 567.6L247.5 569.6L246.4 570.5L244.4 571.0L241.4 571.2L222.4 571.7Z" fill="#c9e2f1"/>
<path d="M217.4 569.7L210.9 569.9L204.3 569.6L198.8 568.6L198.0 568.1L198.0 567.6L199.4 566.9L202.4 566.2L210.9 565.7L219.4 566.1L223.4 566.8L225.9 567.6L225.7 568.1L224.3 568.6L217.4 569.7Z" fill="#aed4ea"/>
<path d="M196.4 554.7L242.4 554.7L247.9 555.0L249.4 555.5L250.4 556.1L251.9 558.1L252.4 560.6L252.7 567.1L252.3 570.6L251.5 572.6L249.9 574.3L247.4 575.1L241.9 575.3L196.4 575.3M196.4 556.5L241.4 556.5L246.9 556.7L248.9 557.6L250.0 559.1L250.5 561.1L250.8 567.1L250.5 569.6L249.7 571.6L248.4 572.8L246.4 573.4L239.4 573.6L196.4 573.6M196.4 559.3L239.4 559.3L244.9 559.5L246.4 560.1L247.3 561.1L248.2 567.1L247.9 569.1L247.0 570.1L245.9 570.7L243.4 571.1L213.4 571.8L196.4 571.5M217.4 569.7L210.9 569.9L204.3 569.6L198.8 568.6L198.0 568.1L198.0 567.6L199.4 566.9L202.4 566.2L210.9 565.7L219.4 566.1L223.4 566.8L225.9 567.6L225.7 568.1L224.3 568.6L217.4 569.7Z" fill="none" stroke="#b3d7ed" stroke-width="0.8"/>
</g>
<g clip-path="url(#c73)">
<g filter="url(#hb)" fill="#6fb0d9" fill-opacity="0.065">
<path id="h730" d="M338.1 594.6L269.1 594.6L269.1 525.6L338.1 525.6L338.1 594.6Z"/>
<path id="h731" d="M315.1 582.7L312.1 582.9L308.6 582.4L305.1 581.3L301.6 579.5L298.6 577.5L295.1 574.6L292.2 571.6L288.5 567.1L283.3 560.1L279.3 554.1L275.8 548.1L272.9 542.1L271.0 537.1L269.8 532.6L269.5 528.6L270.1 525.6L285.7 525.6L287.1 526.5L293.6 530.9L301.1 537.1L308.3 544.1L315.3 552.1L318.8 557.1L321.2 562.1L322.7 567.1L323.2 571.6L322.6 575.6L321.8 577.6L320.9 579.1L318.6 581.3L317.1 582.1L315.1 582.7Z"/>
<path id="h732" d="M312.1 578.7L309.1 578.7L306.1 578.0L303.1 576.7L300.1 574.9L297.1 572.5L294.7 570.1L287.9 561.6L284.2 556.1L281.3 551.1L278.8 546.1L277.0 541.6L276.0 537.6L275.8 534.6L276.3 532.1L277.6 530.5L278.6 529.9L280.1 529.6L283.6 530.0L288.1 531.9L292.6 534.6L298.1 538.7L303.6 543.6L309.4 549.6L314.0 555.1L316.5 559.1L318.2 563.1L319.2 567.1L319.3 570.6L318.6 573.6L317.1 576.2L315.1 577.8L312.1 578.7Z"/>
<path id="h733" d="M311.6 575.3L309.6 575.5L307.1 575.3L304.6 574.5L301.6 573.0L299.1 571.2L296.8 569.1L291.9 563.1L285.9 554.1L283.8 550.1L282.1 546.1L281.1 542.6L280.8 539.6L281.1 537.6L282.1 536.1L284.1 535.3L286.6 535.5L290.1 536.8L294.1 539.1L298.6 542.4L303.1 546.4L307.6 551.0L311.6 555.6L313.9 559.1L315.2 562.1L316.1 565.1L316.4 568.1L316.0 570.6L315.1 572.7L313.6 574.3L311.6 575.3Z"/>
<path id="h734" d="M309.1 572.7L307.1 572.7L305.1 572.2L303.1 571.4L300.6 569.8L297.2 566.6L292.5 560.6L288.2 553.6L285.7 547.6L285.1 545.1L285.1 543.1L285.6 541.6L286.6 540.7L288.1 540.3L290.6 540.7L293.6 542.0L296.6 543.9L300.1 546.6L303.6 549.8L307.3 553.6L310.3 557.1L311.8 559.6L312.9 562.1L313.6 564.6L313.8 567.1L313.4 569.1L312.6 570.7L311.1 572.0L309.1 572.7Z"/>
<path id="h735" d="M308.6 569.2L306.1 569.5L303.1 568.6L300.1 566.5L297.5 563.6L293.7 558.1L291.1 553.1L290.0 549.1L290.0 547.6L290.6 546.5L291.6 546.0L293.1 546.0L295.1 546.7L297.6 548.0L302.6 552.0L307.9 557.6L310.0 561.1L310.8 564.6L310.8 566.1L310.2 567.6L309.6 568.5L308.6 569.2Z"/>
</g>
<use href="#h730" fill="url(#sp0)"/>
<use href="#h731" fill="url(#sp1)"/>
<use href="#h732" fill="url(#sp2)"/>
<use href="#h733" fill="url(#sp3)"/>
<use href="#h734" fill="url(#sp4)"/>
<use href="#h735" fill="url(#sp5)"/>
<path d="M315.1 579.2L312.1 579.3L308.6 578.0L305.4 575.6L302.4 572.1L297.5 564.1L294.0 556.6L293.0 553.6L292.6 551.1L292.7 549.6L293.5 548.6L295.1 548.4L297.1 549.0L300.1 550.4L304.1 553.0L312.1 559.4L315.4 562.6L317.4 565.1L318.8 567.6L319.6 569.6L320.0 572.1L319.9 574.1L319.2 576.1L318.1 577.6L316.6 578.7L315.1 579.2Z" fill="#f3f8fc"/>
<path d="M313.1 576.2L310.6 576.0L308.1 574.9L305.6 572.8L303.4 570.1L300.0 564.6L297.4 559.1L296.5 555.6L296.7 554.1L297.1 553.5L298.1 553.1L299.6 553.3L304.1 555.5L310.1 560.2L314.8 565.1L316.6 568.6L317.1 570.6L317.0 572.1L316.6 573.7L315.6 575.1L314.6 575.8L313.1 576.2Z" fill="#ddecf6"/>
<path d="M311.6 573.2L310.1 573.1L308.1 572.1L306.4 570.6L304.5 568.1L302.3 564.6L301.0 561.6L300.5 559.1L301.1 557.9L302.1 557.8L303.1 558.0L306.1 559.6L309.6 562.4L312.6 565.7L313.9 568.1L314.2 570.6L313.9 571.6L313.1 572.6L311.6 573.2Z" fill="#c9e2f1"/>
<path d="M310.1 570.2L309.1 570.0L308.1 569.4L306.5 567.6L304.9 564.6L304.6 563.6L304.8 562.6L305.6 562.5L307.1 563.1L309.1 564.7L310.6 566.4L311.3 567.6L311.4 569.1L311.1 569.7L310.1 570.2Z" fill="#aed4ea"/>
<path d="M315.1 579.2L312.1 579.3L308.6 578.0L305.4 575.6L302.4 572.1L297.5 564.1L294.0 556.6L293.0 553.6L292.6 551.1L292.7 549.6L293.5 548.6L295.1 548.4L297.1 549.0L300.1 550.4L304.1 553.0L312.1 559.4L315.4 562.6L317.4 565.1L318.8 567.6L319.6 569.6L320.0 572.1L319.9 574.1L319.2 576.1L318.1 577.6L316.6 578.7L315.1 579.2ZM313.1 576.2L310.6 576.0L308.1 574.9L305.6 572.8L303.4 570.1L300.0 564.6L297.4 559.1L296.5 555.6L296.7 554.1L297.1 553.5L298.1 553.1L299.6 553.3L304.1 555.5L310.1 560.2L314.8 565.1L316.6 568.6L317.1 570.6L317.0 572.1L316.6 573.7L315.6 575.1L314.6 575.8L313.1 576.2ZM311.6 573.2L310.1 573.1L308.1 572.1L306.4 570.6L304.5 568.1L302.3 564.6L301.0 561.6L300.5 559.1L301.1 557.9L302.1 557.8L303.1 558.0L306.1 559.6L309.6 562.4L312.6 565.7L313.9 568.1L314.2 570.6L313.9 571.6L313.1 572.6L311.6 573.2ZM310.1 570.2L309.1 570.0L308.1 569.4L306.5 567.6L304.9 564.6L304.6 563.6L304.8 562.6L305.6 562.5L307.1 563.1L309.1 564.7L310.6 566.4L311.3 567.6L311.4 569.1L311.1 569.7L310.1 570.2Z" fill="none" stroke="#b3d7ed" stroke-width="0.8"/>
</g>
<g clip-path="url(#c74)">
<g filter="url(#hb)" fill="#6fb0d9" fill-opacity="0.065">
<path id="h740" d="M410.8 594.6L341.8 594.6L341.8 525.6L410.8 525.6L410.8 594.6Z"/>
<path id="h741" d="M388.3 584.2L384.3 584.2L380.3 583.5L375.8 581.9L371.3 579.5L367.8 577.0L363.9 573.6L358.7 568.1L354.0 562.6L349.9 557.1L346.6 552.1L344.0 547.6L341.8 543.0L341.8 526.0L342.3 525.6L355.0 525.6L362.3 528.8L369.3 532.9L377.3 538.7L385.3 545.7L391.5 552.1L395.0 557.1L397.6 562.6L399.1 568.1L399.2 573.1L398.2 577.1L397.1 579.1L395.8 580.7L394.3 582.0L392.3 583.1L388.3 584.2Z"/>
<path id="h742" d="M386.8 579.7L383.8 579.9L380.3 579.4L376.8 578.3L372.8 576.4L369.8 574.4L366.6 571.6L358.4 562.6L354.6 557.6L351.7 553.1L349.0 548.1L347.4 544.1L346.5 540.6L346.2 537.1L346.8 534.6L348.3 532.6L349.8 531.7L351.3 531.3L354.8 531.3L359.3 532.4L364.8 534.8L370.8 538.4L376.8 542.7L383.3 548.3L388.5 553.6L391.6 558.1L393.5 562.1L394.6 566.1L394.9 570.1L394.2 573.6L392.4 576.6L389.9 578.6L386.8 579.7Z"/>
<path id="h743" d="M385.3 576.2L382.8 576.5L379.8 576.2L376.8 575.2L373.8 573.8L368.8 570.1L362.3 563.1L356.5 555.1L354.2 551.1L352.7 547.6L351.9 544.6L351.6 541.6L352.0 539.6L353.3 537.8L354.3 537.1L355.8 536.7L358.8 536.7L362.8 537.8L366.8 539.6L371.3 542.2L376.3 545.8L381.8 550.5L385.9 554.6L388.4 558.1L390.2 561.6L391.2 565.1L391.5 568.1L390.9 571.1L389.8 573.3L387.8 575.2L385.3 576.2Z"/>
<path id="h744" d="M383.8 573.2L381.8 573.5L379.3 573.3L376.8 572.5L374.3 571.4L370.3 568.5L365.3 563.1L360.2 556.1L357.2 550.1L356.5 547.6L356.4 545.1L356.8 543.5L357.8 542.2L359.8 541.4L362.3 541.5L365.3 542.3L368.8 543.8L372.8 546.2L376.8 549.2L380.8 552.6L384.2 556.1L386.0 558.6L387.5 561.6L388.2 564.1L388.5 566.6L388.2 568.6L387.3 570.7L385.8 572.2L383.8 573.2Z"/>
<path id="h745" d="M381.8 569.8L378.8 570.0L375.3 568.8L372.1 566.6L368.3 562.6L364.6 557.6L362.3 553.1L361.7 549.6L362.1 548.1L362.8 547.3L364.3 546.7L365.8 546.7L368.3 547.4L370.8 548.5L376.3 552.2L381.8 557.3L384.2 561.1L384.9 563.1L385.1 565.1L384.9 566.6L384.2 568.1L383.2 569.1L381.8 569.8Z"/>
</g>
<use href="#h740" fill="url(#sp0)"/>
<use href="#h741" fill="url(#sp1)"/>
<use href="#h742" fill="url(#sp2)"/>
<use href="#h743" fill="url(#sp3)"/>
<use href="#h744" fill="url(#sp4)"/>
<use href="#h745" fill="url(#sp5)"/>
<path d="M386.8 579.7L383.3 579.4L379.8 577.8L376.8 575.3L374.1 571.6L369.6 564.1L366.5 557.1L365.6 554.1L365.3 551.6L365.5 550.1L366.3 549.1L367.8 548.8L370.3 549.3L373.3 550.5L377.8 552.9L382.3 555.8L386.8 559.2L390.1 562.1L392.1 564.6L393.4 567.1L394.1 569.6L394.2 572.1L393.8 574.1L392.8 576.1L391.3 577.8L389.3 579.0L386.8 579.7Z" fill="#f3f8fc"/>
<path d="M386.8 576.3L384.3 576.5L381.3 575.6L378.8 573.8L376.5 571.1L372.7 565.1L370.2 559.6L369.4 555.6L369.5 554.6L370.3 553.6L371.3 553.3L373.3 553.6L378.3 555.9L384.8 560.4L387.3 562.7L389.1 564.6L390.8 568.1L391.1 570.1L391.0 571.6L390.5 573.1L389.5 574.6L388.3 575.6L386.8 576.3Z" fill="#ddecf6"/>
<path d="M385.3 573.2L383.3 573.3L381.3 572.5L379.5 571.1L377.8 569.1L375.6 565.6L374.0 562.1L373.6 559.6L373.8 558.6L374.3 558.1L375.3 557.9L376.3 558.0L379.3 559.3L383.3 562.1L386.4 565.1L387.8 567.6L388.0 570.1L387.0 572.1L385.3 573.2Z" fill="#c9e2f1"/>
<path d="M383.8 570.2L382.8 570.2L381.8 569.9L379.8 568.0L378.0 564.6L377.8 563.2L378.2 562.6L379.3 562.6L380.8 563.2L382.8 564.6L384.2 566.1L384.8 567.1L385.0 568.6L384.6 569.6L383.8 570.2Z" fill="#aed4ea"/>
<path d="M386.8 579.7L383.3 579.4L379.8 577.8L376.8 575.3L374.1 571.6L369.6 564.1L366.5 557.1L365.6 554.1L365.3 551.6L365.5 550.1L366.3 549.1L367.8 548.8L370.3 549.3L373.3 550.5L377.8 552.9L382.3 555.8L386.8 559.2L390.1 562.1L392.1 564.6L393.4 567.1L394.1 569.6L394.2 572.1L393.8 574.1L392.8 576.1L391.3 577.8L389.3 579.0L386.8 579.7ZM386.8 576.3L384.3 576.5L381.3 575.6L378.8 573.8L376.5 571.1L372.7 565.1L370.2 559.6L369.4 555.6L369.5 554.6L370.3 553.6L371.3 553.3L373.3 553.6L378.3 555.9L384.8 560.4L387.3 562.7L389.1 564.6L390.8 568.1L391.1 570.1L391.0 571.6L390.5 573.1L389.5 574.6L388.3 575.6L386.8 576.3ZM385.3 573.2L383.3 573.3L381.3 572.5L379.5 571.1L377.8 569.1L375.6 565.6L374.0 562.1L373.6 559.6L373.8 558.6L374.3 558.1L375.3 557.9L376.3 558.0L379.3 559.3L383.3 562.1L386.4 565.1L387.8 567.6L388.0 570.1L387.0 572.1L385.3 573.2ZM383.8 570.2L382.8 570.2L381.8 569.9L379.8 568.0L378.0 564.6L377.8 563.2L378.2 562.6L379.3 562.6L380.8 563.2L382.8 564.6L384.2 566.1L384.8 567.1L385.0 568.6L384.6 569.6L383.8 570.2Z" fill="none" stroke="#b3d7ed" stroke-width="0.8"/>
</g>
<g clip-path="url(#c75)">
<g filter="url(#hb)" fill="#6fb0d9" fill-opacity="0.065">
<path id="h750" d="M483.5 587.3L465.0 584.4L452.4 581.1L444.0 580.3L440.0 579.5L434.5 577.5L430.5 574.7L428.6 572.6L426.8 570.1L425.3 567.1L424.2 564.1L419.8 549.6L416.8 535.6L415.3 525.6L447.5 525.6L452.3 540.6L454.0 548.0L455.0 550.1L456.0 551.4L459.8 554.6L464.8 557.6L470.3 560.1L480.5 564.0L483.5 565.6L483.5 587.3Z"/>
<path id="h751" d="M483.5 584.1L474.5 583.0L465.5 581.5L461.5 580.4L453.3 577.6L442.5 575.8L437.5 573.9L433.6 571.1L431.0 568.1L429.1 564.6L424.7 551.6L424.0 548.6L421.9 535.1L420.9 525.6L442.4 525.6L448.0 542.1L449.5 549.7L451.0 552.9L453.0 555.1L456.0 557.7L464.9 563.6L475.0 569.1L483.5 572.1L483.5 584.1Z"/>
<path id="h752" d="M483.5 582.2L473.0 581.0L464.5 579.6L454.0 575.6L444.5 574.0L441.0 573.0L437.5 571.2L435.0 569.2L432.8 566.6L430.9 563.1L426.4 550.1L424.4 534.1L424.1 525.6L439.6 525.6L442.2 532.1L445.8 542.6L447.5 551.4L449.3 554.6L451.5 557.1L454.5 559.7L461.0 564.8L464.5 567.1L472.2 570.6L483.5 574.1L483.5 582.2Z"/>
<path id="h753" d="M483.5 579.8L476.0 579.6L465.5 578.1L462.0 576.8L457.0 574.1L455.0 573.3L446.0 572.2L442.0 571.1L439.0 569.7L436.5 567.8L434.3 565.1L432.6 562.1L429.2 553.1L427.9 549.1L427.2 542.6L426.8 534.1L427.0 529.1L427.6 525.6L436.7 525.6L439.7 531.6L443.8 542.6L444.5 545.1L445.3 551.1L446.4 554.1L449.0 557.6L459.0 567.5L460.5 568.7L462.6 569.6L483.5 576.5L483.5 579.8Z"/>
<path id="h754" d="M451.5 569.7L449.0 570.1L446.0 570.0L443.5 569.5L441.0 568.5L438.9 567.1L437.0 565.3L435.4 563.1L434.1 560.6L430.0 550.6L429.3 548.1L429.1 545.6L428.9 538.6L429.3 533.1L430.3 529.6L431.0 528.5L432.0 527.8L433.5 527.7L435.0 528.6L436.5 530.4L438.5 534.0L442.5 544.1L443.4 551.6L444.3 554.6L446.0 557.3L452.0 564.1L453.4 566.6L453.6 567.6L453.3 568.6L452.8 569.1L451.5 569.7ZM469.5 576.2L467.4 576.1L465.6 575.6L464.3 574.6L464.2 574.1L465.5 573.6L468.1 574.1L470.6 575.6L469.5 576.2Z"/>
<path id="h755" d="M446.5 566.3L445.0 566.6L442.7 566.1L440.8 565.1L439.1 563.6L437.1 560.6L431.9 550.6L431.0 547.1L431.0 540.6L432.0 535.9L432.5 535.0L433.5 534.2L435.0 534.5L436.5 536.1L438.0 538.7L440.2 543.6L441.0 546.6L441.1 552.6L441.4 554.6L442.9 557.6L446.0 561.6L447.2 563.6L447.5 565.1L447.3 565.6L446.5 566.3Z"/>
</g>
<use href="#h750" fill="url(#sp0)"/>
<use href="#h751" fill="url(#sp1)"/>
<use href="#h752" fill="url(#sp2)"/>
<use href="#h753" fill="url(#sp3)"/>
<use href="#h754" fill="url(#sp4)"/>
<use href="#h755" fill="url(#sp5)"/>
<path d="M456.0 577.7L453.5 577.9L450.5 577.8L447.5 577.3L444.5 576.3L442.0 575.1L439.5 573.4L437.5 571.6L435.4 569.1L433.6 566.1L432.3 563.1L431.6 560.6L431.0 557.1L430.9 553.6L431.4 550.1L432.4 547.6L433.5 546.4L434.5 546.1L435.5 546.2L438.0 547.9L447.5 558.3L457.5 568.1L460.2 571.1L461.2 573.1L461.3 574.1L461.1 575.1L459.4 576.6L456.0 577.7Z" fill="#f3f8fc"/>
<path d="M453.0 575.2L449.0 575.3L444.5 574.0L441.0 572.0L437.6 568.6L435.2 564.6L434.3 562.1L433.7 559.6L433.7 555.1L434.1 553.6L435.0 552.3L436.0 551.8L437.0 552.0L440.0 553.9L450.3 564.1L454.4 568.6L455.9 571.1L456.1 573.1L455.0 574.5L453.0 575.2Z" fill="#ddecf6"/>
<path d="M450.5 572.2L448.5 572.6L445.5 572.0L442.8 570.6L440.4 568.6L438.1 565.6L436.9 562.6L436.4 559.6L437.0 557.6L437.5 557.2L438.5 557.1L440.5 557.9L443.5 560.3L447.9 564.6L450.4 567.6L451.4 569.6L451.5 571.1L450.5 572.2Z" fill="#c9e2f1"/>
<path d="M447.0 569.2L446.0 569.5L444.6 569.1L442.0 567.4L441.0 566.1L440.0 564.3L439.8 563.1L440.0 562.1L441.0 561.8L442.0 562.2L445.1 564.6L447.2 567.6L447.3 568.6L447.0 569.2Z" fill="#aed4ea"/>
<path d="M456.0 577.7L453.5 577.9L450.5 577.8L447.5 577.3L444.5 576.3L442.0 575.1L439.5 573.4L437.5 571.6L435.4 569.1L433.6 566.1L432.3 563.1L431.6 560.6L431.0 557.1L430.9 553.6L431.4 550.1L432.4 547.6L433.5 546.4L434.5 546.1L435.5 546.2L438.0 547.9L447.5 558.3L457.5 568.1L460.2 571.1L461.2 573.1L461.3 574.1L461.1 575.1L459.4 576.6L456.0 577.7ZM453.0 575.2L449.0 575.3L444.5 574.0L441.0 572.0L437.6 568.6L435.2 564.6L434.3 562.1L433.7 559.6L433.7 555.1L434.1 553.6L435.0 552.3L436.0 551.8L437.0 552.0L440.0 553.9L450.3 564.1L454.4 568.6L455.9 571.1L456.1 573.1L455.0 574.5L453.0 575.2ZM450.5 572.2L448.5 572.6L445.5 572.0L442.8 570.6L440.4 568.6L438.1 565.6L436.9 562.6L436.4 559.6L437.0 557.6L437.5 557.2L438.5 557.1L440.5 557.9L443.5 560.3L447.9 564.6L450.4 567.6L451.4 569.6L451.5 571.1L450.5 572.2ZM447.0 569.2L446.0 569.5L444.6 569.1L442.0 567.4L441.0 566.1L440.0 564.3L439.8 563.1L440.0 562.1L441.0 561.8L442.0 562.2L445.1 564.6L447.2 567.6L447.3 568.6L447.0 569.2Z" fill="none" stroke="#b3d7ed" stroke-width="0.8"/>
</g>
<g clip-path="url(#c76)">
<g filter="url(#hb)" fill="#6fb0d9" fill-opacity="0.065">
<path id="h760" d="M556.2 594.6L487.2 594.6L487.2 525.6L556.2 525.6L556.2 594.6Z"/>
<path id="h761" d="M513.2 580.2L510.7 580.5L508.2 580.4L505.7 579.8L503.7 578.8L502.1 577.6L500.7 575.9L499.7 574.1L499.0 571.6L498.7 569.1L498.8 566.1L500.3 560.1L503.0 554.1L507.1 548.1L517.1 537.1L528.4 525.6L556.2 525.6L556.2 540.2L552.0 545.6L539.5 560.6L532.9 568.1L529.7 571.4L525.2 574.9L521.2 577.4L516.7 579.3L513.2 580.2Z"/>
<path id="h762" d="M515.2 575.7L512.7 576.0L510.7 576.0L508.7 575.5L507.2 574.9L505.7 573.7L504.7 572.6L503.9 571.1L503.2 569.1L503.0 565.1L504.0 560.1L506.4 554.6L509.9 549.6L521.2 537.4L533.2 525.6L556.2 525.6L556.2 534.2L550.1 542.6L542.6 552.1L531.9 564.6L527.2 569.4L524.2 571.7L521.2 573.5L518.2 574.8L515.2 575.7Z"/>
<path id="h763" d="M516.7 572.2L512.7 572.5L509.8 571.6L508.7 570.9L507.6 569.6L506.4 566.6L506.3 562.6L507.4 558.6L509.3 554.6L512.2 550.6L524.7 537.4L537.4 525.6L556.2 525.6L556.2 528.4L551.7 535.6L544.1 546.1L534.8 557.6L528.7 564.6L525.2 567.9L521.2 570.5L516.7 572.2Z"/>
<path id="h764" d="M517.7 569.2L514.7 569.5L512.2 568.9L510.2 567.2L509.3 565.1L509.1 562.1L509.8 559.1L511.3 555.6L513.7 552.1L521.1 544.1L528.7 536.7L535.7 530.5L542.0 525.6L553.1 525.6L551.1 530.6L547.4 537.1L542.3 544.6L535.8 553.1L529.4 560.6L525.7 564.6L521.7 567.6L517.7 569.2Z"/>
<path id="h765" d="M519.2 565.7L517.2 566.1L515.2 565.9L513.7 565.1L512.7 563.6L512.3 561.6L512.5 559.6L513.4 557.1L514.8 554.6L517.7 551.2L523.2 545.5L532.2 537.3L536.2 534.2L539.7 532.1L542.2 531.1L543.7 531.1L544.3 531.6L544.5 532.6L543.7 536.1L541.1 541.1L537.1 547.1L531.4 554.6L525.2 561.8L522.2 564.3L519.2 565.7Z"/>
</g>
<use href="#h760" fill="url(#sp0)"/>
<use href="#h761" fill="url(#sp1)"/>
<use href="#h762" fill="url(#sp2)"/>
<use href="#h763" fill="url(#sp3)"/>
<use href="#h764" fill="url(#sp4)"/>
<use href="#h765" fill="url(#sp5)"/>
<path d="M508.7 578.7L505.7 579.0L503.7 578.5L502.2 577.3L501.5 575.6L501.6 573.1L502.4 570.6L503.8 568.1L505.7 565.6L508.2 563.2L512.2 560.0L516.7 556.9L521.2 554.4L524.7 553.0L527.2 552.4L529.7 552.4L531.1 553.1L531.6 554.1L531.8 555.1L531.1 558.1L528.9 562.1L525.3 566.6L521.2 570.9L516.7 574.8L512.7 577.2L508.7 578.7Z" fill="#f3f8fc"/>
<path d="M509.2 576.2L507.7 576.3L506.2 575.9L505.1 575.1L504.5 573.6L504.5 572.1L505.1 570.1L506.2 568.1L507.8 566.1L509.7 564.3L513.2 561.5L519.2 557.9L523.7 556.4L525.7 556.4L526.7 557.0L527.2 558.6L526.4 561.1L524.6 564.1L521.8 567.6L518.7 570.7L515.2 573.6L512.2 575.3L509.2 576.2Z" fill="#ddecf6"/>
<path d="M511.7 573.3L509.2 573.5L508.2 573.1L507.5 572.1L507.4 571.1L507.8 569.6L509.4 567.1L512.7 564.2L516.7 561.6L520.2 560.3L521.2 560.3L522.2 560.6L522.6 561.6L522.2 563.1L520.0 566.6L515.5 571.1L513.7 572.4L511.7 573.3Z" fill="#c9e2f1"/>
<path d="M512.7 570.7L511.2 570.8L510.4 570.1L510.5 569.1L511.4 567.6L514.7 565.1L516.7 564.3L517.7 564.3L518.0 565.1L516.9 567.1L514.5 569.6L512.7 570.7Z" fill="#aed4ea"/>
<path d="M508.7 578.7L505.7 579.0L503.7 578.5L502.2 577.3L501.5 575.6L501.6 573.1L502.4 570.6L503.8 568.1L505.7 565.6L508.2 563.2L512.2 560.0L516.7 556.9L521.2 554.4L524.7 553.0L527.2 552.4L529.7 552.4L531.1 553.1L531.6 554.1L531.8 555.1L531.1 558.1L528.9 562.1L525.3 566.6L521.2 570.9L516.7 574.8L512.7 577.2L508.7 578.7ZM509.2 576.2L507.7 576.3L506.2 575.9L505.1 575.1L504.5 573.6L504.5 572.1L505.1 570.1L506.2 568.1L507.8 566.1L509.7 564.3L513.2 561.5L519.2 557.9L523.7 556.4L525.7 556.4L526.7 557.0L527.2 558.6L526.4 561.1L524.6 564.1L521.8 567.6L518.7 570.7L515.2 573.6L512.2 575.3L509.2 576.2ZM511.7 573.3L509.2 573.5L508.2 573.1L507.5 572.1L507.4 571.1L507.8 569.6L509.4 567.1L512.7 564.2L516.7 561.6L520.2 560.3L521.2 560.3L522.2 560.6L522.6 561.6L522.2 563.1L520.0 566.6L515.5 571.1L513.7 572.4L511.7 573.3ZM512.7 570.7L511.2 570.8L510.4 570.1L510.5 569.1L511.4 567.6L514.7 565.1L516.7 564.3L517.7 564.3L518.0 565.1L516.9 567.1L514.5 569.6L512.7 570.7Z" fill="none" stroke="#b3d7ed" stroke-width="0.8"/>
</g>
<g clip-path="url(#c80)">
<g filter="url(#hb)" fill="#ffffff" fill-opacity="0.3">
<path id="h800" d="M75.5 650.6L51.0 650.6L51.0 598.4L104.8 598.4L104.8 604.4L104.2 604.9L104.2 609.4L103.8 609.9L103.8 613.9L103.2 614.4L103.2 617.4L102.8 617.9L102.8 619.9L102.2 620.4L102.2 622.4L101.8 622.9L101.8 623.9L101.2 624.4L101.2 625.4L100.8 625.9L100.8 626.9L100.2 627.4L100.2 628.4L99.8 628.9L99.2 630.4L98.2 631.9L98.2 632.4L97.2 633.4L97.2 633.9L96.2 634.9L96.2 635.4L95.2 636.4L95.2 636.9L94.2 637.9L94.2 638.4L93.2 639.4L93.2 639.9L88.0 645.1L87.5 645.1L86.5 646.1L85.0 646.6L84.0 647.6L83.5 647.6L82.5 648.6L82.0 648.6L81.5 649.1L80.0 649.1L79.5 649.6L78.0 649.6L77.5 650.1L76.0 650.1L75.5 650.6Z"/>
</g>
<g filter="url(#hb)" fill="#6fb0d9">
<path d="M75.5 650.8L51.0 650.8L51.0 645.0L74.5 644.8L79.7 643.4L84.5 640.4L88.5 636.3L92.5 630.5L94.6 626.4L96.0 622.6L97.6 614.9L99.2 598.4L104.9 598.4L105.0 604.4L104.4 604.9L104.4 609.4L103.9 609.9L103.9 613.9L103.4 614.4L103.4 617.4L102.9 617.9L102.9 619.9L102.4 620.4L102.4 622.4L101.9 622.9L101.9 623.9L101.4 624.4L101.4 625.4L100.9 625.9L100.9 626.9L100.4 627.4L100.4 628.4L99.9 628.9L99.9 629.4L99.4 629.9L99.4 630.4L98.9 630.9L98.4 632.4L97.4 633.4L97.4 633.9L96.4 634.9L96.4 635.4L95.4 636.4L95.4 636.9L94.4 637.9L94.4 638.4L93.4 639.4L93.4 639.9L88.0 645.3L87.5 645.3L86.5 646.3L85.0 646.8L84.0 647.8L83.5 647.8L82.5 648.8L82.0 648.8L81.5 649.3L80.0 649.3L79.5 649.8L78.0 649.8L77.5 650.3L76.0 650.3L75.5 650.8Z" fill-opacity="0.12"/>
<path d="M75.5 650.7L51.0 650.7L51.0 647.7L74.5 647.6L80.9 645.9L86.3 642.4L90.8 637.9L94.9 631.9L97.2 627.4L98.9 622.4L100.3 615.4L101.9 598.4L104.8 598.4L104.8 604.4L104.3 604.9L104.3 609.4L103.8 609.9L103.8 613.9L103.3 614.4L103.3 617.4L102.8 617.9L102.8 619.9L102.3 620.4L102.3 622.4L101.8 622.9L101.8 623.9L101.3 624.4L101.3 625.4L100.8 625.9L100.8 626.9L100.3 627.4L100.3 628.4L99.8 628.9L99.8 629.4L99.3 629.9L99.3 630.4L98.8 630.9L98.3 632.4L97.3 633.4L97.3 633.9L96.3 634.9L96.3 635.4L95.3 636.4L95.3 636.9L94.3 637.9L94.3 638.4L93.3 639.4L93.3 639.9L88.0 645.2L87.5 645.2L86.5 646.2L85.0 646.7L84.0 647.7L83.5 647.7L82.5 648.7L82.0 648.7L81.5 649.2L80.0 649.2L79.5 649.7L78.0 649.7L77.5 650.2L76.0 650.2L75.5 650.7Z" fill-opacity="0.12"/>
<path d="M75.5 650.6L51.0 650.6L51.0 649.5L75.0 649.3L81.5 647.6L87.5 643.7L92.2 638.9L96.3 632.9L99.0 627.5L100.5 623.3L102.0 615.9L103.7 598.4L104.6 598.4L104.7 604.4L104.1 604.9L104.2 609.4L103.6 609.9L103.7 613.9L103.1 614.4L103.2 617.4L102.6 617.9L102.7 619.9L102.1 620.4L102.2 622.4L101.6 622.9L101.7 623.9L101.1 624.4L101.2 625.4L100.6 625.9L100.7 626.9L100.2 627.4L100.2 628.4L99.7 628.9L99.7 629.4L99.2 629.9L99.2 630.4L98.7 630.9L98.7 631.4L98.2 631.9L98.2 632.4L97.1 633.4L97.2 633.9L96.1 634.9L96.2 635.4L95.2 636.4L95.2 636.9L94.2 637.9L94.2 638.4L93.2 639.4L93.2 639.9L88.0 645.1L87.5 645.1L86.5 646.1L86.0 646.1L85.5 646.6L85.0 646.5L84.0 647.6L83.5 647.6L82.5 648.6L82.0 648.6L81.5 649.1L80.0 649.0L79.5 649.6L78.0 649.5L77.5 650.1L76.0 650.0L75.5 650.6Z" fill-opacity="0.12"/>
</g>
<path d="M40.0 650.8L75.0 650.6L82.0 648.8L88.0 645.0L93.0 640.0L97.5 633.4L100.0 628.5L101.8 623.5L103.3 616.0L104.3 607.0L105.0 598.0L105.6 585.0" fill="none" stroke="#a6cfe8" stroke-width="1.3" stroke-opacity="0.95" stroke-linejoin="round"/>
<path d="M80.5 649.9L76.0 650.1L75.3 649.9L75.1 648.9L76.2 645.4L77.8 641.9L80.1 637.9L82.8 633.9L87.0 629.0L92.0 625.1L94.5 623.7L97.0 622.7L99.5 622.2L101.0 622.5L101.5 623.4L101.5 624.4L100.6 628.9L98.4 633.9L94.2 640.4L88.5 646.1L82.5 649.5L80.5 649.9Z" fill="#f3f8fc"/>
<path d="M81.5 648.9L80.0 648.9L79.2 648.4L79.1 647.4L79.5 645.9L82.2 639.9L86.2 633.9L89.5 630.5L93.0 628.1L97.0 626.6L98.5 626.5L99.4 626.9L99.7 627.9L99.6 628.9L98.2 632.9L93.5 640.4L88.4 645.4L83.5 648.2L81.5 648.9Z" fill="#ddecf6"/>
<path d="M84.5 646.5L83.5 646.4L83.3 645.9L83.8 643.4L85.4 639.9L88.1 635.9L90.0 633.8L92.5 631.9L95.0 630.9L97.0 630.8L97.4 631.9L97.1 633.4L93.2 639.9L88.0 644.9L84.5 646.5Z" fill="#c9e2f1"/>
<path d="M88.5 643.0L87.7 642.9L87.7 641.9L88.5 639.9L89.8 637.9L91.0 636.5L92.5 635.4L93.5 634.9L94.5 635.0L94.4 636.4L92.5 639.6L90.0 642.0L88.5 643.0Z" fill="#aed4ea"/>
<path d="M80.5 649.9L76.0 650.1L75.3 649.9L75.1 648.9L76.2 645.4L77.8 641.9L80.1 637.9L82.8 633.9L87.0 629.0L92.0 625.1L94.5 623.7L97.0 622.7L99.5 622.2L101.0 622.5L101.5 623.4L101.5 624.4L100.6 628.9L98.4 633.9L94.2 640.4L88.5 646.1L82.5 649.5L80.5 649.9ZM81.5 648.9L80.0 648.9L79.2 648.4L79.1 647.4L79.5 645.9L82.2 639.9L86.2 633.9L89.5 630.5L93.0 628.1L97.0 626.6L98.5 626.5L99.4 626.9L99.7 627.9L99.6 628.9L98.2 632.9L93.5 640.4L88.4 645.4L83.5 648.2L81.5 648.9ZM84.5 646.5L83.5 646.4L83.3 645.9L83.8 643.4L85.4 639.9L88.1 635.9L90.0 633.8L92.5 631.9L95.0 630.9L97.0 630.8L97.4 631.9L97.1 633.4L93.2 639.9L88.0 644.9L84.5 646.5ZM88.5 643.0L87.7 642.9L87.7 641.9L88.5 639.9L89.8 637.9L91.0 636.5L92.5 635.4L93.5 634.9L94.5 635.0L94.4 636.4L92.5 639.6L90.0 642.0L88.5 643.0Z" fill="none" stroke="#b3d7ed" stroke-width="0.8"/>
</g>
<g clip-path="url(#c81)">
<g filter="url(#hb)" fill="#ffffff" fill-opacity="0.3">
<path id="h810" d="M147.2 650.6L123.7 650.6L123.7 598.4L185.9 598.4L185.9 599.9L185.4 600.4L185.4 601.9L184.9 602.4L184.9 603.9L184.4 604.4L184.4 605.9L183.9 606.4L183.9 607.9L183.4 608.4L183.4 609.9L182.9 610.4L182.9 611.9L182.4 612.4L182.4 613.4L181.9 613.9L181.9 614.9L181.4 615.4L181.4 616.4L180.9 616.9L180.9 617.9L180.4 618.4L180.4 619.4L179.9 619.9L179.9 620.9L179.4 621.4L179.4 621.9L178.9 622.4L178.4 623.9L177.9 624.4L177.9 624.9L177.4 625.4L176.9 626.9L175.4 629.4L175.4 629.9L172.4 633.4L172.4 633.9L171.4 634.9L171.4 635.4L168.9 637.9L168.9 638.4L163.7 643.6L163.2 643.6L160.7 646.1L160.2 646.1L159.7 646.6L159.2 646.6L158.7 647.1L157.2 647.6L156.7 648.1L155.7 648.1L153.2 649.6L150.7 649.6L150.2 650.1L147.7 650.1L147.2 650.6Z"/>
</g>
<g filter="url(#hb)" fill="#6fb0d9">
<path d="M147.2 650.8L123.7 650.8L123.7 642.6L145.7 642.4L150.7 641.6L155.7 639.4L160.4 635.4L163.7 631.1L165.2 628.3L167.2 623.6L175.4 598.4L187.0 598.4L183.4 612.9L180.5 621.4L176.3 629.9L173.4 633.9L170.7 637.3L160.7 646.3L159.2 646.8L158.7 647.3L158.2 647.3L157.7 647.8L157.2 647.8L156.7 648.3L155.7 648.3L153.2 649.8L150.7 649.8L150.2 650.3L147.7 650.3L147.2 650.8Z" fill-opacity="0.12"/>
<path d="M147.2 650.6L123.7 650.7L123.7 646.2L146.2 646.0L151.7 645.1L157.7 642.5L162.7 638.0L166.2 632.4L168.7 625.9L173.9 608.9L177.5 598.4L186.3 598.4L186.1 599.9L185.8 600.4L183.2 611.9L181.2 617.9L180.7 618.6L180.6 619.4L180.2 620.0L180.1 620.9L176.2 628.9L175.7 629.4L175.6 629.9L172.7 633.4L172.6 633.9L171.7 634.9L171.6 635.4L166.5 640.9L160.7 646.1L159.2 646.7L158.7 647.2L158.2 647.2L157.7 647.6L157.2 647.7L156.7 648.1L155.7 648.2L153.2 649.6L150.7 649.7L150.2 650.1L147.7 650.2L147.2 650.6Z" fill-opacity="0.12"/>
<path d="M147.2 650.5L123.7 650.5L123.7 648.5L146.2 648.4L152.2 647.4L159.0 644.4L164.2 639.5L167.4 633.9L170.1 626.4L175.4 608.4L179.0 598.4L186.1 598.4L186.0 599.9L185.6 600.4L185.5 601.9L185.1 602.4L185.0 603.9L184.6 604.4L184.5 605.9L184.1 606.4L184.0 607.9L183.6 608.4L183.0 611.9L182.6 612.4L182.5 613.4L182.1 613.9L182.0 614.9L181.6 615.4L181.5 616.4L181.1 616.9L181.0 617.9L180.6 618.4L180.5 619.4L180.1 619.9L180.0 620.9L175.5 629.9L172.5 633.4L172.5 633.9L171.5 634.9L171.4 635.4L166.2 641.1L160.7 646.0L158.2 647.0L157.7 647.5L157.2 647.5L156.7 647.9L155.7 648.0L153.2 649.4L150.7 649.5L150.2 650.0L147.7 650.0L147.2 650.5Z" fill-opacity="0.12"/>
<path d="M168.2 638.4L167.7 638.7L167.4 638.4L171.0 628.9L174.5 615.9L176.5 609.4L180.6 598.4L185.9 598.4L185.8 599.9L185.4 600.4L185.3 601.9L184.9 602.4L184.8 603.9L184.4 604.4L184.3 605.9L183.9 606.4L183.8 607.9L183.4 608.4L182.8 611.9L181.9 613.9L181.8 614.9L181.4 615.4L181.3 616.4L180.9 616.9L180.8 617.9L180.4 618.4L180.3 619.4L179.9 619.9L179.8 620.9L175.3 629.9L172.3 633.4L172.3 633.9L171.3 634.9L171.2 635.4L168.2 638.4Z" fill-opacity="0.12"/>
<path d="M172.7 632.0L172.2 632.2L172.1 631.4L175.3 617.9L176.7 612.8L179.2 605.5L182.3 598.4L185.6 598.4L182.2 612.6L179.2 621.1L175.2 628.9L172.7 632.0Z" fill-opacity="0.12"/>
</g>
<path d="M110.0 650.8L146.3 650.6L153.0 649.5L160.0 646.5L166.0 641.5L170.5 636.4L175.5 629.5L179.6 621.3L182.5 613.0L184.8 604.0L186.2 598.0L187.5 585.0" fill="none" stroke="#a6cfe8" stroke-width="1.3" stroke-opacity="0.9" stroke-linejoin="round"/>
<path d="M148.7 650.9L146.2 651.0L144.0 650.4L143.4 649.9L143.6 648.4L145.5 644.4L148.3 639.9L151.4 635.9L155.2 631.7L160.7 627.1L163.7 625.3L166.7 624.0L169.7 623.2L172.2 623.1L174.2 623.5L175.8 624.4L176.4 625.4L176.4 626.4L175.4 629.9L171.1 636.9L166.7 642.2L160.2 647.6L153.2 650.5L148.7 650.9Z" fill="#f3f8fc"/>
<path d="M151.7 649.9L148.2 649.8L147.5 649.4L147.5 647.9L148.8 644.9L150.8 641.4L153.3 637.9L156.4 634.4L160.7 630.7L163.2 629.2L165.7 628.2L167.7 627.7L169.7 627.6L171.2 627.9L172.7 628.9L173.3 629.9L173.3 630.9L172.4 633.4L170.3 636.9L166.2 641.9L160.2 647.0L153.7 649.6L151.7 649.9Z" fill="#ddecf6"/>
<path d="M154.2 648.5L152.7 648.7L152.0 648.4L151.7 647.4L152.1 645.9L154.3 641.4L157.8 636.9L161.2 634.0L164.2 632.5L165.7 632.1L167.2 632.1L168.9 632.9L169.6 634.4L169.4 635.9L168.2 638.1L165.7 641.4L159.8 646.4L154.2 648.5Z" fill="#c9e2f1"/>
<path d="M159.2 645.4L157.2 645.7L156.7 645.4L156.6 644.9L157.0 642.9L158.2 640.7L160.2 638.4L162.2 637.0L163.7 636.5L165.2 636.9L165.6 638.4L164.8 640.4L162.5 642.9L159.2 645.4Z" fill="#aed4ea"/>
<path d="M148.7 650.9L146.2 651.0L144.0 650.4L143.4 649.9L143.6 648.4L145.5 644.4L148.3 639.9L151.4 635.9L155.2 631.7L160.7 627.1L163.7 625.3L166.7 624.0L169.7 623.2L172.2 623.1L174.2 623.5L175.8 624.4L176.4 625.4L176.4 626.4L175.4 629.9L171.1 636.9L166.7 642.2L160.2 647.6L153.2 650.5L148.7 650.9ZM151.7 649.9L148.2 649.8L147.5 649.4L147.5 647.9L148.8 644.9L150.8 641.4L153.3 637.9L156.4 634.4L160.7 630.7L163.2 629.2L165.7 628.2L167.7 627.7L169.7 627.6L171.2 627.9L172.7 628.9L173.3 629.9L173.3 630.9L172.4 633.4L170.3 636.9L166.2 641.9L160.2 647.0L153.7 649.6L151.7 649.9ZM154.2 648.5L152.7 648.7L152.0 648.4L151.7 647.4L152.1 645.9L154.3 641.4L157.8 636.9L161.2 634.0L164.2 632.5L165.7 632.1L167.2 632.1L168.9 632.9L169.6 634.4L169.4 635.9L168.2 638.1L165.7 641.4L159.8 646.4L154.2 648.5ZM159.2 645.4L157.2 645.7L156.7 645.4L156.6 644.9L157.0 642.9L158.2 640.7L160.2 638.4L162.2 637.0L163.7 636.5L165.2 636.9L165.6 638.4L164.8 640.4L162.5 642.9L159.2 645.4Z" fill="none" stroke="#b3d7ed" stroke-width="0.8"/>
</g>
<g clip-path="url(#c82)">
<g filter="url(#hb)" fill="#ffffff" fill-opacity="0.09">
<path id="h820" d="M256.9 653.2L255.9 653.4L253.9 653.1L196.4 653.1L196.4 598.4L256.8 598.4L257.2 600.4L257.7 609.9L257.8 621.4L257.8 651.4L257.6 652.4L256.9 653.2Z"/>
<path id="h821" d="M256.4 653.1L253.9 652.8L196.4 652.8L196.4 598.4L256.3 598.4L256.8 600.4L257.3 607.9L257.6 621.4L257.6 650.9L257.3 652.4L256.4 653.1Z"/>
<path id="h822" d="M255.9 652.9L253.9 652.5L196.4 652.5L196.4 598.4L255.4 598.4L256.1 599.4L256.4 601.2L257.2 610.4L257.3 616.9L257.3 651.4L256.9 652.6L255.9 652.9Z"/>
<path id="h823" d="M256.4 652.7L253.9 652.0L196.4 652.0L196.4 599.1L251.9 599.1L254.9 599.5L255.5 600.4L255.9 602.3L256.8 609.4L257.1 614.4L257.2 650.9L257.1 651.9L256.4 652.7Z"/>
<path id="h824" d="M256.4 652.4L255.9 652.5L255.0 651.9L254.5 650.9L254.4 649.9L254.5 613.9L254.7 610.4L255.4 607.1L255.9 607.1L256.4 608.9L256.9 616.4L257.0 650.4L256.8 651.9L256.4 652.4Z"/>
<path id="h825" d="M256.4 652.0L255.9 652.1L255.4 651.6L255.2 649.9L255.2 617.4L255.4 612.9L255.9 610.6L256.4 612.1L256.7 618.9L256.7 650.4L256.4 652.0Z"/>
</g>
<use href="#h820" fill="url(#sp0)"/>
<use href="#h821" fill="url(#sp1)"/>
<path d="M248.9 652.9L196.4 653.0L196.4 630.8L243.9 630.8L247.4 631.0L249.4 631.5L250.4 632.2L251.4 633.3L253.2 637.4L254.3 642.9L254.7 649.4L254.5 650.9L253.8 651.9L251.9 652.6L248.9 652.9Z" fill="#f3f8fc"/>
<path d="M250.9 652.0L245.4 652.4L196.4 652.4L196.4 636.3L242.4 636.3L247.9 636.7L249.4 637.3L250.5 638.4L251.5 640.4L252.3 643.4L252.8 646.9L252.7 650.4L252.3 651.4L250.9 652.0Z" fill="#ddecf6"/>
<path d="M247.9 651.4L196.4 651.6L196.4 642.3L240.4 642.2L246.4 642.6L247.9 643.1L248.9 643.8L249.9 645.3L250.4 646.9L250.5 648.9L250.2 650.4L249.4 651.1L247.9 651.4Z" fill="#c9e2f1"/>
<path d="M213.9 649.4L208.9 649.5L203.9 649.2L200.5 648.4L199.6 647.9L199.5 647.4L199.9 646.9L200.9 646.4L202.8 645.9L209.9 645.3L217.2 645.9L219.1 646.4L220.1 646.9L220.5 647.4L220.4 647.9L218.9 648.6L213.9 649.4ZM241.4 648.4L238.2 648.4L237.1 647.9L236.9 647.4L237.4 646.9L239.4 646.4L240.9 646.5L242.4 646.9L242.9 647.4L242.7 647.9L241.4 648.4Z" fill="#aed4ea"/>
<path d="M196.4 630.8L243.4 630.8L246.9 630.9L248.9 631.3L249.9 631.8L251.1 632.9L252.9 636.4L254.2 642.4L254.7 648.9L254.5 650.9L253.9 651.8L252.4 652.5L250.4 652.8L196.4 653.0M196.4 636.3L241.9 636.3L247.4 636.6L248.9 637.0L249.9 637.8L251.3 639.9L252.4 644.0L252.8 648.9L252.7 650.4L252.3 651.4L250.9 652.0L248.9 652.3L196.4 652.4M196.4 642.3L210.9 642.1L245.4 642.4L247.4 642.9L249.0 643.9L250.1 645.9L250.5 648.4L250.4 649.9L249.9 650.9L247.4 651.5L196.4 651.6M213.9 649.4L208.9 649.5L203.9 649.2L200.5 648.4L199.6 647.9L199.5 647.4L199.9 646.9L200.9 646.4L202.8 645.9L209.9 645.3L217.2 645.9L219.1 646.4L220.1 646.9L220.5 647.4L220.4 647.9L218.9 648.6L213.9 649.4ZM241.4 648.4L238.2 648.4L237.1 647.9L236.9 647.4L237.4 646.9L239.4 646.4L240.9 646.5L242.4 646.9L242.9 647.4L242.7 647.9L241.4 648.4Z" fill="none" stroke="#b3d7ed" stroke-width="0.8"/>
</g>
<g clip-path="url(#c83)">
<g filter="url(#hb)" fill="#ffffff" fill-opacity="0.28">
<path id="h830" d="M338.1 652.0L269.1 652.0L269.1 598.4L338.1 598.4L338.1 652.0Z"/>
</g>
<use href="#h830" fill="url(#sp0)"/>
<g filter="url(#hb)" fill="#6fb0d9">
<path d="M311.6 651.9L305.6 652.1L299.6 651.9L296.0 651.4L294.5 650.9L293.9 650.4L292.8 647.4L292.5 643.4L293.0 638.9L294.3 634.4L296.7 629.4L300.2 624.4L305.1 618.9L310.1 614.5L314.6 611.6L319.1 609.7L323.6 608.9L327.1 609.5L329.1 610.6L330.9 612.4L332.0 614.4L332.8 617.4L333.0 620.4L332.8 623.9L332.0 627.9L330.9 631.4L328.8 636.4L326.4 640.9L323.5 645.4L320.6 648.9L319.1 650.2L318.0 650.9L316.2 651.4L311.6 651.9Z" fill-opacity="0.07"/>
<path d="M310.1 651.0L306.1 651.3L302.1 650.9L300.6 650.4L298.9 648.9L297.4 645.9L296.9 642.9L297.1 638.9L298.2 634.9L300.1 630.9L302.9 626.9L306.5 622.9L310.1 619.7L313.6 617.4L317.1 615.9L320.1 615.3L323.1 615.7L324.6 616.4L326.1 617.9L327.1 619.7L327.6 621.9L327.8 624.4L327.6 626.9L326.0 632.9L323.0 639.4L320.7 642.9L318.7 645.4L316.6 647.5L314.1 649.4L312.2 650.4L310.1 651.0Z" fill-opacity="0.07"/>
<path d="M309.6 648.5L307.1 648.9L304.6 648.5L302.6 647.5L301.1 645.9L300.0 643.4L299.7 640.9L300.0 637.9L300.9 634.9L302.4 631.9L304.8 628.4L307.6 625.4L310.6 622.8L313.6 620.9L316.6 619.8L319.1 619.5L321.1 620.0L322.4 620.9L323.3 621.9L323.9 623.4L324.3 625.4L324.0 629.9L322.6 634.4L320.1 639.4L317.1 643.5L313.6 646.6L309.6 648.5Z" fill-opacity="0.07"/>
<path d="M308.1 645.9L306.1 645.7L304.6 644.9L303.6 643.9L302.8 642.4L302.3 640.4L302.4 638.4L302.8 636.4L303.8 633.9L304.9 631.9L307.1 629.1L309.1 627.1L311.6 625.2L313.6 624.1L315.6 623.4L317.6 623.3L319.1 623.8L320.6 625.4L321.1 626.9L321.3 628.4L320.8 632.4L319.2 636.4L316.9 640.4L314.1 643.3L311.1 645.2L308.1 645.9Z" fill-opacity="0.07"/>
<path d="M309.6 643.0L308.1 643.0L307.1 642.7L306.1 642.1L305.3 640.9L304.9 639.4L304.8 637.9L305.6 634.9L308.0 631.4L311.1 628.5L314.1 627.1L315.6 627.0L316.6 627.2L317.8 628.4L318.3 630.4L318.1 632.9L317.1 635.8L315.3 638.9L313.6 640.9L311.6 642.3L309.6 643.0Z" fill-opacity="0.07"/>
</g>
<path d="M268.0 651.3L298.0 651.3" fill="none" stroke="#a9d1e9" stroke-width="1.2" stroke-opacity="0.9" stroke-linejoin="round"/>
<path d="M298.0 651.3L338.0 651.3" fill="none" stroke="#a9d1e9" stroke-width="1.0" stroke-opacity="0.4" stroke-linejoin="round"/>
<path d="M304.6 652.4L299.6 652.7L295.1 652.3L292.6 651.4L292.2 650.4L293.7 646.4L296.4 641.4L299.2 637.4L302.6 633.5L306.1 630.6L309.6 628.5L312.6 627.7L315.1 628.0L316.1 628.6L317.1 629.7L317.8 631.4L318.0 632.9L317.5 637.4L316.0 641.9L313.4 646.9L310.9 650.4L308.6 651.7L304.6 652.4Z" fill="#f3f8fc"/>
<path d="M303.1 651.9L298.1 651.9L295.9 651.4L295.2 650.9L295.2 649.4L296.7 645.4L300.4 639.4L304.6 634.9L307.1 633.1L309.1 632.2L311.1 631.8L312.6 632.0L314.1 633.4L314.7 635.9L314.3 639.4L312.8 643.4L310.5 647.4L308.0 650.4L306.2 651.4L303.1 651.9Z" fill="#ddecf6"/>
<path d="M303.1 651.0L300.1 651.1L299.1 650.9L298.3 650.4L298.1 649.4L298.2 648.4L299.5 644.9L301.9 640.9L304.6 638.0L307.6 636.2L309.1 635.8L310.1 636.0L311.1 637.0L311.5 638.9L311.2 640.9L310.3 643.4L308.6 646.3L306.6 648.9L304.8 650.4L303.1 651.0Z" fill="#c9e2f1"/>
<path d="M302.6 648.5L301.7 647.9L301.5 646.9L302.6 643.8L303.6 642.3L305.1 640.8L306.6 640.0L307.6 640.0L308.1 640.6L308.2 641.9L307.1 644.7L304.6 647.6L302.6 648.5Z" fill="#aed4ea"/>
<path d="M304.6 652.4L299.6 652.7L295.1 652.3L292.6 651.4L292.2 650.4L293.7 646.4L296.4 641.4L299.2 637.4L302.6 633.5L306.1 630.6L309.6 628.5L312.6 627.7L315.1 628.0L316.1 628.6L317.1 629.7L317.8 631.4L318.0 632.9L317.5 637.4L316.0 641.9L313.4 646.9L310.9 650.4L308.6 651.7L304.6 652.4ZM303.1 651.9L298.1 651.9L295.9 651.4L295.2 650.9L295.2 649.4L296.7 645.4L300.4 639.4L304.6 634.9L307.1 633.1L309.1 632.2L311.1 631.8L312.6 632.0L314.1 633.4L314.7 635.9L314.3 639.4L312.8 643.4L310.5 647.4L308.0 650.4L306.2 651.4L303.1 651.9ZM303.1 651.0L300.1 651.1L299.1 650.9L298.3 650.4L298.1 649.4L298.2 648.4L299.5 644.9L301.9 640.9L304.6 638.0L307.6 636.2L309.1 635.8L310.1 636.0L311.1 637.0L311.5 638.9L311.2 640.9L310.3 643.4L308.6 646.3L306.6 648.9L304.8 650.4L303.1 651.0ZM302.6 648.5L301.7 647.9L301.5 646.9L302.6 643.8L303.6 642.3L305.1 640.8L306.6 640.0L307.6 640.0L308.1 640.6L308.2 641.9L307.1 644.7L304.6 647.6L302.6 648.5Z" fill="none" stroke="#b3d7ed" stroke-width="0.8"/>
</g>
<g clip-path="url(#c84)">
<g filter="url(#hb)" fill="#ffffff" fill-opacity="0.28">
<path id="h840" d="M410.8 652.0L341.8 652.0L341.8 598.4L410.8 598.4L410.8 652.0Z"/>
</g>
<use href="#h840" fill="url(#sp0)"/>
<g filter="url(#hb)" fill="#6fb0d9">
<path d="M386.3 651.4L380.3 651.8L373.8 651.6L369.7 650.9L368.3 649.9L367.2 647.9L366.5 645.9L366.0 641.4L366.7 636.4L368.7 630.9L371.9 625.4L378.5 617.4L386.3 609.5L393.3 603.5L397.3 600.7L401.3 598.4L410.8 598.4L410.8 622.4L407.6 628.4L404.6 633.4L396.7 644.4L393.8 647.5L390.8 649.9L388.8 650.9L386.3 651.4Z" fill-opacity="0.08"/>
<path d="M382.8 649.5L379.3 649.9L376.3 649.3L373.8 647.9L371.8 645.4L370.7 641.9L370.6 638.4L371.4 634.4L373.2 630.4L375.4 626.9L380.9 620.4L386.3 615.0L391.3 610.7L395.8 607.7L400.3 605.6L403.8 604.9L406.4 605.4L407.6 606.4L408.5 607.9L408.9 609.9L408.8 612.9L408.2 615.9L407.2 619.4L403.6 627.4L398.4 635.9L392.8 643.2L390.3 645.5L387.8 647.3L385.3 648.6L382.8 649.5Z" fill-opacity="0.08"/>
<path d="M382.8 646.4L380.3 646.7L377.8 646.1L375.8 644.9L374.3 642.8L373.6 640.4L373.5 637.4L374.2 634.4L375.7 630.9L378.1 627.4L382.3 622.6L386.3 618.6L390.3 615.3L394.3 612.7L397.3 611.3L400.3 610.8L402.3 611.4L403.3 612.4L403.9 613.9L404.1 615.9L403.9 617.9L402.3 623.4L399.1 629.9L395.0 636.4L390.8 641.8L386.8 644.8L382.8 646.4Z" fill-opacity="0.08"/>
<path d="M383.8 643.5L381.8 643.8L379.8 643.5L377.9 642.4L376.8 640.9L376.2 638.9L376.1 636.9L376.6 634.4L377.7 631.9L379.3 629.4L382.8 625.3L386.3 621.8L389.3 619.4L392.3 617.5L394.8 616.4L396.8 616.1L398.3 616.5L399.1 617.4L399.5 618.4L399.6 621.4L398.5 625.4L396.4 629.9L393.4 634.9L389.8 639.6L386.8 642.1L383.8 643.5Z" fill-opacity="0.08"/>
<path d="M383.3 640.9L381.8 640.9L380.5 640.4L379.5 639.4L378.9 638.4L378.7 636.9L378.8 635.4L379.8 632.4L383.3 627.9L387.8 623.8L389.8 622.4L391.8 621.5L393.3 621.2L394.3 621.4L395.3 622.6L395.4 624.9L394.6 627.9L392.7 631.9L390.3 635.6L388.0 638.4L385.8 640.1L383.3 640.9Z" fill-opacity="0.08"/>
</g>
<path d="M341.0 650.6L411.0 650.6" fill="none" stroke="#a9d1e9" stroke-width="1.4" stroke-opacity="0.85" stroke-linejoin="round"/>
<path d="M378.3 652.4L372.8 652.7L367.8 652.2L365.1 651.4L364.7 650.4L366.2 646.4L369.0 641.4L372.4 636.9L375.8 633.4L379.3 630.7L383.3 628.7L386.8 628.0L389.3 628.5L390.6 629.4L391.4 630.4L392.2 633.4L391.9 637.4L390.2 642.4L388.1 646.4L385.1 650.4L382.8 651.6L378.3 652.4Z" fill="#f3f8fc"/>
<path d="M376.3 651.9L370.8 651.8L368.8 651.4L368.0 650.9L367.8 649.9L368.1 648.9L370.0 644.4L373.8 638.9L375.8 636.7L378.3 634.6L380.8 633.1L383.3 632.2L385.3 632.0L386.8 632.5L388.3 634.1L388.8 636.9L388.2 640.4L386.5 644.4L384.2 647.9L381.9 650.4L379.9 651.4L376.3 651.9Z" fill="#ddecf6"/>
<path d="M376.8 650.9L373.3 651.1L372.3 650.9L371.5 650.4L371.1 649.4L371.2 648.4L372.3 645.4L374.7 641.4L377.8 638.2L379.8 636.8L381.3 636.2L382.8 636.0L383.8 636.2L384.8 637.0L385.4 638.9L385.2 640.9L384.3 643.4L382.5 646.4L380.3 648.9L378.3 650.4L376.8 650.9Z" fill="#c9e2f1"/>
<path d="M377.3 648.0L375.8 648.4L375.0 647.9L374.8 646.4L375.5 644.4L376.8 642.4L378.3 641.0L379.8 640.1L381.3 640.2L381.8 640.7L381.9 641.4L381.3 643.9L379.5 646.4L377.3 648.0Z" fill="#aed4ea"/>
<path d="M378.3 652.4L372.8 652.7L367.8 652.2L365.1 651.4L364.7 650.4L366.2 646.4L369.0 641.4L372.4 636.9L375.8 633.4L379.3 630.7L383.3 628.7L386.8 628.0L389.3 628.5L390.6 629.4L391.4 630.4L392.2 633.4L391.9 637.4L390.2 642.4L388.1 646.4L385.1 650.4L382.8 651.6L378.3 652.4ZM376.3 651.9L370.8 651.8L368.8 651.4L368.0 650.9L367.8 649.9L368.1 648.9L370.0 644.4L373.8 638.9L375.8 636.7L378.3 634.6L380.8 633.1L383.3 632.2L385.3 632.0L386.8 632.5L388.3 634.1L388.8 636.9L388.2 640.4L386.5 644.4L384.2 647.9L381.9 650.4L379.9 651.4L376.3 651.9ZM376.8 650.9L373.3 651.1L372.3 650.9L371.5 650.4L371.1 649.4L371.2 648.4L372.3 645.4L374.7 641.4L377.8 638.2L379.8 636.8L381.3 636.2L382.8 636.0L383.8 636.2L384.8 637.0L385.4 638.9L385.2 640.9L384.3 643.4L382.5 646.4L380.3 648.9L378.3 650.4L376.8 650.9ZM377.3 648.0L375.8 648.4L375.0 647.9L374.8 646.4L375.5 644.4L376.8 642.4L378.3 641.0L379.8 640.1L381.3 640.2L381.8 640.7L381.9 641.4L381.3 643.9L379.5 646.4L377.3 648.0Z" fill="none" stroke="#b3d7ed" stroke-width="0.8"/>
</g>
<g clip-path="url(#c85)">
<g filter="url(#hb)" fill="#ffffff" fill-opacity="0.28">
<path id="h850" d="M483.5 652.0L414.5 652.0L414.5 598.4L483.5 598.4L483.5 652.0Z"/>
</g>
<use href="#h850" fill="url(#sp0)"/>
<g filter="url(#hb)" fill="#6fb0d9">
<path d="M443.0 652.4L436.5 652.6L429.9 652.4L425.9 651.9L424.6 651.4L424.2 650.9L424.2 649.9L424.7 647.4L426.3 642.9L429.2 637.4L432.6 632.4L437.1 626.9L443.0 620.8L455.5 609.2L468.1 598.4L483.5 598.4L483.5 620.0L467.9 636.4L461.0 643.2L456.0 647.6L452.2 650.4L450.2 651.4L448.2 651.9L443.0 652.4Z" fill-opacity="0.1"/>
<path d="M441.5 651.5L437.0 651.7L433.0 651.4L431.4 650.4L430.7 648.4L430.9 644.9L432.3 640.4L434.8 635.9L438.3 630.9L443.6 624.9L454.0 615.2L464.5 606.2L474.5 598.4L483.5 598.4L483.5 614.3L471.4 627.9L457.5 641.8L453.0 645.5L448.5 648.5L444.5 650.6L441.5 651.5Z" fill-opacity="0.1"/>
<path d="M441.5 648.4L438.5 648.5L436.5 647.8L435.4 646.4L435.0 643.9L435.5 640.9L437.0 637.4L439.4 633.4L442.1 629.9L445.8 625.9L453.5 618.7L461.0 612.2L468.0 606.6L474.5 602.0L480.0 598.7L480.5 598.4L483.5 598.4L483.5 609.5L476.2 618.9L466.4 629.9L455.5 640.6L451.5 643.7L448.0 645.9L444.5 647.5L441.5 648.4Z" fill-opacity="0.1"/>
<path d="M444.5 644.5L442.0 644.8L440.0 644.1L439.1 642.9L438.9 640.9L439.4 638.4L440.8 635.4L442.8 632.4L445.2 629.4L456.0 619.2L462.0 614.3L467.5 610.1L472.0 607.2L475.5 605.4L478.5 604.5L480.0 604.8L480.5 605.9L480.2 607.4L478.1 611.9L473.5 618.4L467.2 625.9L460.0 633.5L454.0 639.2L449.0 642.6L444.5 644.5Z" fill-opacity="0.1"/>
<path d="M446.5 641.0L445.0 641.1L443.5 640.7L442.9 639.9L442.6 638.4L443.1 636.4L444.0 634.4L447.4 629.9L455.5 622.3L463.0 616.5L469.0 612.9L471.0 612.4L472.0 612.7L472.3 613.4L472.1 614.4L470.5 617.9L467.3 622.4L462.6 627.9L457.5 633.3L453.5 637.1L450.0 639.5L446.5 641.0Z" fill-opacity="0.1"/>
</g>
<path d="M414.0 651.2L436.0 651.2" fill="none" stroke="#a9d1e9" stroke-width="1.2" stroke-opacity="0.85" stroke-linejoin="round"/>
<path d="M436.0 651.2L484.0 651.2" fill="none" stroke="#a9d1e9" stroke-width="1.0" stroke-opacity="0.4" stroke-linejoin="round"/>
<path d="M437.5 652.9L430.0 652.7L427.5 652.1L426.5 651.4L426.5 649.9L427.7 646.9L429.2 644.4L431.5 641.4L434.5 638.4L439.5 634.2L444.0 631.1L448.5 628.5L452.5 626.7L455.5 625.9L458.0 625.9L460.0 626.8L460.7 627.9L460.9 629.4L460.6 631.4L459.7 633.9L456.9 638.9L452.7 644.4L448.0 649.3L445.4 651.4L442.0 652.5L437.5 652.9Z" fill="#f3f8fc"/>
<path d="M440.0 651.9L434.0 652.2L431.3 651.9L430.2 651.4L429.7 650.4L429.8 648.9L430.8 646.4L432.0 644.4L434.0 641.9L437.0 639.1L440.5 636.3L444.5 633.6L447.5 632.1L450.5 631.0L453.0 630.6L454.5 631.0L455.5 632.4L455.5 634.4L454.5 637.4L452.3 640.9L448.7 645.4L444.5 649.6L442.5 651.1L440.0 651.9Z" fill="#ddecf6"/>
<path d="M438.0 650.9L436.0 651.1L434.5 650.9L433.3 649.9L433.1 648.9L433.3 647.4L433.9 645.9L435.2 643.9L439.0 640.2L444.0 636.9L447.5 635.5L449.0 635.5L450.0 635.9L450.4 636.9L450.1 638.9L449.1 640.9L447.4 643.4L444.7 646.4L442.0 648.9L440.0 650.2L438.0 650.9Z" fill="#c9e2f1"/>
<path d="M439.0 648.1L437.5 648.2L436.6 647.4L436.7 645.9L437.6 644.4L439.5 642.6L442.0 640.9L444.0 640.2L444.9 640.4L445.2 640.9L445.1 641.9L443.5 644.4L441.1 646.9L439.0 648.1Z" fill="#aed4ea"/>
<path d="M437.5 652.9L430.0 652.7L427.5 652.1L426.5 651.4L426.5 649.9L427.7 646.9L429.2 644.4L431.5 641.4L434.5 638.4L439.5 634.2L444.0 631.1L448.5 628.5L452.5 626.7L455.5 625.9L458.0 625.9L460.0 626.8L460.7 627.9L460.9 629.4L460.6 631.4L459.7 633.9L456.9 638.9L452.7 644.4L448.0 649.3L445.4 651.4L442.0 652.5L437.5 652.9ZM440.0 651.9L434.0 652.2L431.3 651.9L430.2 651.4L429.7 650.4L429.8 648.9L430.8 646.4L432.0 644.4L434.0 641.9L437.0 639.1L440.5 636.3L444.5 633.6L447.5 632.1L450.5 631.0L453.0 630.6L454.5 631.0L455.5 632.4L455.5 634.4L454.5 637.4L452.3 640.9L448.7 645.4L444.5 649.6L442.5 651.1L440.0 651.9ZM438.0 650.9L436.0 651.1L434.5 650.9L433.3 649.9L433.1 648.9L433.3 647.4L433.9 645.9L435.2 643.9L439.0 640.2L444.0 636.9L447.5 635.5L449.0 635.5L450.0 635.9L450.4 636.9L450.1 638.9L449.1 640.9L447.4 643.4L444.7 646.4L442.0 648.9L440.0 650.2L438.0 650.9ZM439.0 648.1L437.5 648.2L436.6 647.4L436.7 645.9L437.6 644.4L439.5 642.6L442.0 640.9L444.0 640.2L444.9 640.4L445.2 640.9L445.1 641.9L443.5 644.4L441.1 646.9L439.0 648.1Z" fill="none" stroke="#b3d7ed" stroke-width="0.8"/>
</g>
<g clip-path="url(#c86)">
<g filter="url(#hb)" fill="#ffffff" fill-opacity="0.28">
<path id="h860" d="M556.2 652.0L487.2 652.0L487.2 598.4L556.2 598.4L556.2 652.0Z"/>
</g>
<use href="#h860" fill="url(#sp0)"/>
<g filter="url(#hb)" fill="#6fb0d9">
<path d="M518.7 652.4L511.2 652.3L508.0 651.9L506.2 651.4L505.2 650.8L503.8 649.4L500.5 644.4L497.5 637.9L493.5 624.4L490.4 611.4L488.3 598.4L515.3 598.4L520.5 609.9L525.4 622.9L527.9 630.9L528.8 637.4L528.9 640.9L528.5 644.4L527.8 647.4L526.6 650.4L525.6 651.4L524.0 651.9L518.7 652.4Z" fill-opacity="0.1"/>
<path d="M517.2 651.0L515.2 651.0L513.2 650.7L511.2 650.0L509.2 648.7L507.2 646.9L505.1 644.4L501.9 638.9L498.9 629.9L495.8 617.9L494.0 607.4L493.4 598.4L510.3 598.4L513.3 603.9L516.5 610.4L520.0 618.9L523.5 628.9L524.5 632.9L524.9 637.4L524.4 642.4L523.7 644.9L522.8 646.9L521.7 648.4L520.2 649.8L518.7 650.6L517.2 651.0Z" fill-opacity="0.1"/>
<path d="M517.2 646.9L515.7 647.3L513.7 647.2L511.7 646.5L509.7 645.2L507.7 643.4L506.1 641.4L503.5 636.4L500.1 624.9L497.9 613.9L497.3 608.9L497.2 604.4L497.5 600.9L498.1 598.4L505.6 598.4L506.2 599.1L509.2 603.0L512.1 607.9L514.9 613.4L517.9 620.4L521.4 630.4L522.0 633.4L522.3 636.9L521.9 640.4L520.8 643.4L519.2 645.7L517.2 646.9Z" fill-opacity="0.1"/>
<path d="M516.2 643.4L514.7 643.8L513.2 643.7L511.7 643.1L510.2 642.2L508.7 640.8L507.2 638.9L505.1 634.4L502.1 623.4L500.7 614.4L500.6 610.4L500.9 607.4L501.7 605.2L502.7 604.2L504.2 604.1L506.2 605.3L508.2 607.4L510.2 610.2L514.4 617.9L518.4 627.9L519.7 632.9L519.8 637.4L519.4 639.4L518.7 641.0L517.7 642.4L516.2 643.4Z" fill-opacity="0.1"/>
<path d="M513.7 640.4L512.7 640.3L511.2 639.6L509.2 637.7L507.5 634.9L506.2 630.9L504.5 623.9L503.9 617.9L504.2 613.9L504.7 612.8L505.7 612.1L506.7 612.2L508.2 613.3L511.2 617.2L514.2 623.1L517.1 630.9L517.6 634.4L517.2 637.5L516.5 638.9L515.7 639.7L514.7 640.3L513.7 640.4Z" fill-opacity="0.1"/>
</g>
<path d="M487.0 650.6L520.0 650.6" fill="none" stroke="#a9d1e9" stroke-width="1.0" stroke-opacity="0.45" stroke-linejoin="round"/>
<path d="M520.0 650.4L557.0 650.4" fill="none" stroke="#a9d1e9" stroke-width="2.2" stroke-opacity="0.9" stroke-linejoin="round"/>
<path d="M522.7 652.9L518.2 653.0L513.7 652.5L511.2 651.7L509.9 650.4L507.9 646.9L505.9 642.4L503.6 634.9L503.1 631.9L503.0 629.4L503.6 627.4L504.5 626.4L506.2 626.0L508.2 626.4L511.2 627.8L514.2 629.7L520.7 635.1L523.8 638.4L526.2 641.4L527.7 643.9L528.7 646.4L529.4 648.9L529.4 650.9L528.7 651.7L527.7 652.2L522.7 652.9Z" fill="#f3f8fc"/>
<path d="M523.7 652.0L519.7 652.3L515.7 652.0L514.0 651.4L512.3 649.9L509.0 643.9L506.9 637.9L506.4 635.4L506.4 633.4L506.8 631.9L507.7 630.9L508.7 630.6L510.2 630.8L514.2 632.7L518.7 636.3L522.9 640.9L525.3 644.9L526.2 648.4L526.2 649.9L525.9 650.9L525.4 651.4L523.7 652.0Z" fill="#ddecf6"/>
<path d="M521.2 650.9L518.7 651.1L516.7 650.6L515.1 649.4L513.4 647.4L511.3 643.4L510.1 639.9L509.9 636.9L510.7 635.5L511.7 635.2L512.7 635.3L515.2 636.5L518.2 639.0L521.2 642.4L522.7 645.4L523.1 647.9L522.5 649.9L521.2 650.9Z" fill="#c9e2f1"/>
<path d="M518.7 648.0L517.7 648.0L516.7 647.5L514.7 645.2L513.4 641.9L513.5 640.4L514.0 639.9L515.2 640.0L516.7 640.9L518.2 642.3L519.4 643.9L519.9 645.4L520.0 646.4L519.7 647.4L518.7 648.0Z" fill="#aed4ea"/>
<path d="M522.7 652.9L518.2 653.0L513.7 652.5L511.2 651.7L509.9 650.4L507.9 646.9L505.9 642.4L503.6 634.9L503.1 631.9L503.0 629.4L503.6 627.4L504.5 626.4L506.2 626.0L508.2 626.4L511.2 627.8L514.2 629.7L520.7 635.1L523.8 638.4L526.2 641.4L527.7 643.9L528.7 646.4L529.4 648.9L529.4 650.9L528.7 651.7L527.7 652.2L522.7 652.9ZM523.7 652.0L519.7 652.3L515.7 652.0L514.0 651.4L512.3 649.9L509.0 643.9L506.9 637.9L506.4 635.4L506.4 633.4L506.8 631.9L507.7 630.9L508.7 630.6L510.2 630.8L514.2 632.7L518.7 636.3L522.9 640.9L525.3 644.9L526.2 648.4L526.2 649.9L525.9 650.9L525.4 651.4L523.7 652.0ZM521.2 650.9L518.7 651.1L516.7 650.6L515.1 649.4L513.4 647.4L511.3 643.4L510.1 639.9L509.9 636.9L510.7 635.5L511.7 635.2L512.7 635.3L515.2 636.5L518.2 639.0L521.2 642.4L522.7 645.4L523.1 647.9L522.5 649.9L521.2 650.9ZM518.7 648.0L517.7 648.0L516.7 647.5L514.7 645.2L513.4 641.9L513.5 640.4L514.0 639.9L515.2 640.0L516.7 640.9L518.2 642.3L519.4 643.9L519.9 645.4L520.0 646.4L519.7 647.4L518.7 648.0Z" fill="none" stroke="#b3d7ed" stroke-width="0.8"/>
</g>
<g clip-path="url(#c87)">
<g filter="url(#hb)" fill="#ffffff" fill-opacity="0.28">
<path id="h870" d="M628.9 652.0L559.9 652.0L559.9 598.4L628.9 598.4L628.9 652.0Z"/>
</g>
<use href="#h870" fill="url(#sp0)"/>
<g filter="url(#hb)" fill="#6fb0d9">
<path d="M591.4 652.4L583.9 652.2L579.2 651.4L578.3 650.9L576.8 649.4L573.2 643.9L570.2 636.9L566.1 622.9L563.1 609.9L561.3 598.4L588.3 598.4L593.7 610.4L598.6 623.4L600.8 630.4L601.8 637.4L601.9 640.9L601.5 644.4L600.7 647.9L599.6 650.4L598.6 651.4L597.0 651.9L591.4 652.4Z" fill-opacity="0.1"/>
<path d="M590.4 650.9L588.4 651.0L586.4 650.8L584.4 650.1L582.4 648.8L580.4 647.1L578.4 644.8L575.1 639.4L573.7 635.9L571.7 629.4L568.7 617.4L567.0 607.4L566.4 598.4L583.3 598.4L586.1 603.4L589.2 609.9L592.6 617.9L596.2 627.9L597.4 632.4L597.9 636.9L597.5 641.9L596.1 646.4L594.9 648.2L593.4 649.7L591.9 650.5L590.4 650.9Z" fill-opacity="0.1"/>
<path d="M589.9 647.0L588.4 647.3L586.4 647.1L584.4 646.3L582.4 645.0L579.1 641.4L576.5 636.4L573.1 624.9L570.8 613.4L570.2 604.4L570.5 600.9L571.1 598.4L578.6 598.4L579.4 599.3L582.4 603.3L585.1 607.9L588.1 613.9L591.1 620.9L594.6 630.9L595.2 634.4L595.3 637.4L594.8 640.9L593.6 643.9L591.9 645.9L589.9 647.0Z" fill-opacity="0.1"/>
<path d="M588.9 643.6L587.4 643.8L585.9 643.6L584.4 643.0L582.9 641.9L580.2 638.9L578.1 634.4L575.1 623.4L573.7 613.9L573.6 610.4L573.9 607.4L574.6 605.4L575.9 604.2L577.4 604.2L579.4 605.5L581.4 607.7L583.4 610.5L587.8 618.9L591.7 628.9L592.8 633.9L592.6 638.4L591.4 641.5L590.4 642.7L588.9 643.6Z" fill-opacity="0.1"/>
<path d="M586.9 640.4L585.9 640.3L584.4 639.7L582.4 638.0L580.8 635.4L579.5 631.9L577.7 624.9L576.9 618.9L577.1 614.4L577.7 612.9L578.4 612.2L579.4 612.1L580.9 613.0L583.9 616.7L587.3 623.4L590.1 630.9L590.6 634.4L590.2 637.4L588.9 639.6L587.9 640.2L586.9 640.4Z" fill-opacity="0.1"/>
</g>
<path d="M560.0 650.6L593.0 650.6" fill="none" stroke="#a9d1e9" stroke-width="1.0" stroke-opacity="0.45" stroke-linejoin="round"/>
<path d="M593.0 650.4L630.0 650.4" fill="none" stroke="#a9d1e9" stroke-width="2.2" stroke-opacity="0.9" stroke-linejoin="round"/>
<path d="M596.4 652.9L591.9 653.0L587.4 652.5L584.9 651.8L583.4 650.4L579.6 642.9L577.2 635.4L576.6 631.9L576.5 629.4L576.9 627.8L577.9 626.4L579.4 626.0L581.4 626.3L583.9 627.3L586.9 629.1L590.4 631.7L593.9 634.8L597.3 638.4L599.7 641.4L601.2 643.9L602.2 646.4L602.8 648.9L602.8 650.9L602.0 651.9L600.9 652.3L596.4 652.9Z" fill="#f3f8fc"/>
<path d="M597.4 652.0L593.4 652.3L589.4 652.0L587.5 651.4L585.8 649.9L582.7 644.4L580.5 638.4L579.9 633.9L580.1 632.4L580.9 631.1L581.9 630.6L583.4 630.7L585.4 631.4L587.4 632.5L591.9 636.0L596.4 640.9L598.6 644.4L599.7 648.4L599.7 649.9L599.4 650.9L598.9 651.4L597.4 652.0Z" fill="#ddecf6"/>
<path d="M594.4 651.0L591.9 651.1L589.9 650.4L588.4 649.2L586.9 647.4L584.8 643.4L583.6 639.9L583.4 636.9L583.8 635.9L584.4 635.4L585.4 635.2L586.4 635.4L588.9 636.7L592.1 639.4L595.0 642.9L596.2 645.4L596.6 647.9L596.0 649.9L595.4 650.5L594.4 651.0Z" fill="#c9e2f1"/>
<path d="M592.4 648.0L591.4 648.0L590.4 647.6L588.4 645.5L587.4 643.5L586.9 641.9L586.9 640.8L587.4 639.9L588.4 639.9L589.9 640.7L592.5 643.4L593.3 644.9L593.5 646.4L593.2 647.4L592.4 648.0Z" fill="#aed4ea"/>
<path d="M596.4 652.9L591.9 653.0L587.4 652.5L584.9 651.8L583.4 650.4L579.6 642.9L577.2 635.4L576.6 631.9L576.5 629.4L576.9 627.8L577.9 626.4L579.4 626.0L581.4 626.3L583.9 627.3L586.9 629.1L590.4 631.7L593.9 634.8L597.3 638.4L599.7 641.4L601.2 643.9L602.2 646.4L602.8 648.9L602.8 650.9L602.0 651.9L600.9 652.3L596.4 652.9ZM597.4 652.0L593.4 652.3L589.4 652.0L587.5 651.4L585.8 649.9L582.7 644.4L580.5 638.4L579.9 633.9L580.1 632.4L580.9 631.1L581.9 630.6L583.4 630.7L585.4 631.4L587.4 632.5L591.9 636.0L596.4 640.9L598.6 644.4L599.7 648.4L599.7 649.9L599.4 650.9L598.9 651.4L597.4 652.0ZM594.4 651.0L591.9 651.1L589.9 650.4L588.4 649.2L586.9 647.4L584.8 643.4L583.6 639.9L583.4 636.9L583.8 635.9L584.4 635.4L585.4 635.2L586.4 635.4L588.9 636.7L592.1 639.4L595.0 642.9L596.2 645.4L596.6 647.9L596.0 649.9L595.4 650.5L594.4 651.0ZM592.4 648.0L591.4 648.0L590.4 647.6L588.4 645.5L587.4 643.5L586.9 641.9L586.9 640.8L587.4 639.9L588.4 639.9L589.9 640.7L592.5 643.4L593.3 644.9L593.5 646.4L593.2 647.4L592.4 648.0Z" fill="none" stroke="#b3d7ed" stroke-width="0.8"/>
</g>
<path d="M51.0 79.3 69.5 79.3 69.5 78.5 71.1 78.5 71.1 77.2 72.7 77.2 72.7 74.6 75.8 74.6 75.8 66.2 78.5 66.2 78.5 62.5 80.6 62.5 80.6 53.5 83.2 53.5 83.2 47.7 85.3 47.7 85.3 41.4 87.4 41.4 87.4 33.5 90.6 33.5 90.6 25.6 92.1 25.6 92.1 21.9 96.4 21.9 96.4 34.0 99.0 34.0 99.0 60.4 101.6 60.4 101.6 74.6 104.3 74.6 104.3 79.3 120.3 79.3" fill="none" stroke="#afd5eb" stroke-width="1"/>
<path d="M83.4 16.4V85.4" stroke="#bcdcef" stroke-width="0.9" stroke-dasharray="3 2"/>
<path d="M91.6 16.4V85.4" stroke="#bcdcef" stroke-width="0.9" stroke-dasharray="3 2"/>
<path d="M97.4 16.4V85.4" stroke="#bcdcef" stroke-width="0.9" stroke-dasharray="3 2"/>
<path d="M123.7 152.2 124.7 152.2 124.7 152.2 127.3 152.2 127.3 152.2 129.9 152.2 129.9 152.2 132.5 152.2 132.5 152.1 135.1 152.1 135.1 152.0 137.7 152.0 137.7 151.6 140.3 151.6 140.3 150.8 142.9 150.8 142.9 149.1 145.5 149.1 145.5 146.0 148.1 146.0 148.1 141.0 150.7 141.0 150.7 133.7 153.3 133.7 153.3 124.3 155.9 124.3 155.9 113.8 158.5 113.8 158.5 103.9 161.1 103.9 161.1 96.8 163.7 96.8 163.7 94.2 166.3 94.2 166.3 105.2 168.9 105.2 168.9 127.3 171.5 127.3 171.5 143.5 174.1 143.5 174.1 150.2 176.7 150.2 176.7 151.9 179.3 151.9 179.3 152.2 181.9 152.2 181.9 152.2 184.5 152.2 184.5 152.2 187.1 152.2 187.1 152.2 189.7 152.2 189.7 152.2 192.3 152.2 192.3 152.2 193.0 152.2" fill="none" stroke="#afd5eb" stroke-width="1"/>
<path d="M154.2 89.2V158.2" stroke="#bcdcef" stroke-width="0.9" stroke-dasharray="3 2"/>
<path d="M162.0 89.2V158.2" stroke="#bcdcef" stroke-width="0.9" stroke-dasharray="3 2"/>
<path d="M168.8 89.2V158.2" stroke="#bcdcef" stroke-width="0.9" stroke-dasharray="3 2"/>
<path d="M196.4 172.0 200.9 172.0 200.9 170.0 205.0 170.0 205.0 167.0 208.0 167.0 208.0 168.5 211.0 168.5 211.0 171.0 214.0 171.0 214.0 169.5 217.0 169.5 217.0 172.5 220.0 172.5 220.0 174.0 223.0 174.0 223.0 172.5 226.0 172.5 226.0 176.5 229.0 176.5 229.0 175.0 232.0 175.0 232.0 178.5 235.0 178.5 235.0 178.0 238.0 178.0 238.0 177.5 241.0 177.5 241.0 176.0 243.5 176.0 243.5 177.5 245.0 177.5 245.0 181.3 248.4 181.3 248.4 182.7 251.3 182.7 251.3 192.7 252.5 192.7 252.5 215.5 254.5 215.5 254.5 221.9 257.0 221.9 257.0 225.0 265.7 225.0" fill="none" stroke="#afd5eb" stroke-width="1"/>
<path d="M204.7 161.9V230.9" stroke="#bcdcef" stroke-width="0.9" stroke-dasharray="3 2"/>
<path d="M222.5 161.9V230.9" stroke="#bcdcef" stroke-width="0.9" stroke-dasharray="3 2"/>
<path d="M242.0 161.9V230.9" stroke="#bcdcef" stroke-width="0.9" stroke-dasharray="3 2"/>
<path d="M269.1 297.2 269.5 297.2 269.5 297.2 272.1 297.2 272.1 297.2 274.7 297.2 274.7 297.2 277.3 297.2 277.3 297.2 279.9 297.2 279.9 297.2 282.5 297.2 282.5 297.1 285.1 297.1 285.1 296.8 287.7 296.8 287.7 295.9 290.3 295.9 290.3 293.6 292.9 293.6 292.9 288.9 295.5 288.9 295.5 280.4 298.1 280.4 298.1 268.4 300.7 268.4 300.7 254.7 303.3 254.7 303.3 243.5 305.9 243.5 305.9 239.2 308.5 239.2 308.5 245.1 311.1 245.1 311.1 259.5 313.7 259.5 313.7 275.2 316.3 275.2 316.3 286.9 318.9 286.9 318.9 293.3 321.5 293.3 321.5 296.0 324.1 296.0 324.1 296.9 326.7 296.9 326.7 297.1 329.3 297.1 329.3 297.2 331.9 297.2 331.9 297.2 334.5 297.2 334.5 297.2 337.1 297.2 337.1 297.2 338.4 297.2" fill="none" stroke="#afd5eb" stroke-width="1"/>
<path d="M298.8 234.7V303.6" stroke="#bcdcef" stroke-width="0.9" stroke-dasharray="3 2"/>
<path d="M306.4 234.7V303.6" stroke="#bcdcef" stroke-width="0.9" stroke-dasharray="3 2"/>
<path d="M312.6 234.7V303.6" stroke="#bcdcef" stroke-width="0.9" stroke-dasharray="3 2"/>
<path d="M341.8 370.6 342.7 370.6 342.7 370.6 345.3 370.6 345.3 370.6 347.9 370.6 347.9 370.6 350.5 370.6 350.5 370.5 353.1 370.5 353.1 370.3 355.7 370.3 355.7 369.8 358.3 369.8 358.3 368.6 360.9 368.6 360.9 366.3 363.5 366.3 363.5 362.0 366.1 362.0 366.1 355.2 368.7 355.2 368.7 345.8 371.3 345.8 371.3 334.7 373.9 334.7 373.9 323.9 376.5 323.9 376.5 315.9 379.1 315.9 379.1 312.9 381.7 312.9 381.7 319.2 384.3 319.2 384.3 334.3 386.9 334.3 386.9 350.3 389.5 350.3 389.5 361.6 392.1 361.6 392.1 367.4 394.7 367.4 394.7 369.7 397.3 369.7 397.3 370.4 399.9 370.4 399.9 370.6 402.5 370.6 402.5 370.6 405.1 370.6 405.1 370.6 407.7 370.6 407.7 370.6 410.3 370.6 410.3 370.6 411.1 370.6" fill="none" stroke="#afd5eb" stroke-width="1"/>
<path d="M372.0 307.4V376.4" stroke="#bcdcef" stroke-width="0.9" stroke-dasharray="3 2"/>
<path d="M379.4 307.4V376.4" stroke="#bcdcef" stroke-width="0.9" stroke-dasharray="3 2"/>
<path d="M385.6 307.4V376.4" stroke="#bcdcef" stroke-width="0.9" stroke-dasharray="3 2"/>
<path d="M414.5 443.7 431.2 443.7 431.2 439.5 433.5 439.5 433.5 423.0 435.9 423.0 435.9 396.5 437.4 396.5 437.4 384.7 442.0 384.7 442.0 389.0 444.5 389.0 444.5 397.3 446.8 397.3 446.8 402.5 449.0 402.5 449.0 408.0 451.5 408.0 451.5 416.0 452.3 416.0 452.3 423.9 455.0 423.9 455.0 429.5 457.0 429.5 457.0 433.2 460.0 433.2 460.0 437.0 463.0 437.0 463.0 440.3 467.0 440.3 467.0 442.2 472.6 442.2 472.6 443.4 483.8 443.4" fill="none" stroke="#afd5eb" stroke-width="1"/>
<path d="M437.4 380.1V449.1" stroke="#bcdcef" stroke-width="0.9" stroke-dasharray="3 2"/>
<path d="M443.7 380.1V449.1" stroke="#bcdcef" stroke-width="0.9" stroke-dasharray="3 2"/>
<path d="M451.5 380.1V449.1" stroke="#bcdcef" stroke-width="0.9" stroke-dasharray="3 2"/>
<path d="M487.2 516.2 489.8 516.2 489.8 516.2 492.4 516.2 492.4 516.2 495.0 516.2 495.0 516.1 497.6 516.1 497.6 515.5 500.2 515.5 500.2 513.6 502.8 513.6 502.8 508.1 505.4 508.1 505.4 496.8 508.0 496.8 508.0 479.9 510.6 479.9 510.6 463.3 513.2 463.3 513.2 456.3 515.8 456.3 515.8 459.7 518.4 459.7 518.4 468.8 521.0 468.8 521.0 480.8 523.6 480.8 523.6 492.7 526.2 492.7 526.2 502.3 528.8 502.3 528.8 508.9 531.4 508.9 531.4 512.8 534.0 512.8 534.0 514.8 536.6 514.8 536.6 515.7 539.2 515.7 539.2 516.0 541.8 516.0 541.8 516.1 544.4 516.1 544.4 516.2 547.0 516.2 547.0 516.2 549.6 516.2 549.6 516.2 552.2 516.2 552.2 516.2 554.8 516.2 554.8 516.2 556.5 516.2" fill="none" stroke="#afd5eb" stroke-width="1"/>
<path d="M510.6 452.9V521.9" stroke="#bcdcef" stroke-width="0.9" stroke-dasharray="3 2"/>
<path d="M516.3 452.9V521.9" stroke="#bcdcef" stroke-width="0.9" stroke-dasharray="3 2"/>
<path d="M524.1 452.9V521.9" stroke="#bcdcef" stroke-width="0.9" stroke-dasharray="3 2"/>
<path d="M559.9 589.5 562.1 589.5 562.1 589.5 564.7 589.5 564.7 589.5 567.3 589.5 567.3 589.5 569.9 589.5 569.9 589.4 572.5 589.4 572.5 588.9 575.1 588.9 575.1 586.3 577.7 586.3 577.7 578.1 580.3 578.1 580.3 561.1 582.9 561.1 582.9 540.4 585.5 540.4 585.5 530.6 588.1 530.6 588.1 533.4 590.7 533.4 590.7 540.9 593.3 540.9 593.3 551.2 595.9 551.2 595.9 562.1 598.5 562.1 598.5 571.7 601.1 571.7 601.1 579.0 603.7 579.0 603.7 583.9 606.3 583.9 606.3 586.8 608.9 586.8 608.9 588.3 611.5 588.3 611.5 589.0 614.1 589.0 614.1 589.3 616.7 589.3 616.7 589.4 619.3 589.4 619.3 589.5 621.9 589.5 621.9 589.5 624.5 589.5 624.5 589.5 627.1 589.5 627.1 589.5 629.2 589.5" fill="none" stroke="#afd5eb" stroke-width="1"/>
<path d="M583.5 525.6V594.6" stroke="#bcdcef" stroke-width="0.9" stroke-dasharray="3 2"/>
<path d="M589.4 525.6V594.6" stroke="#bcdcef" stroke-width="0.9" stroke-dasharray="3 2"/>
<path d="M597.4 525.6V594.6" stroke="#bcdcef" stroke-width="0.9" stroke-dasharray="3 2"/>
<path d="M632.6 661.9 649.3 661.9 649.3 648.3 651.4 648.3 651.4 602.0 653.6 602.0 653.6 618.4 655.7 618.4 655.7 621.5 657.8 621.5 657.8 624.0 659.6 624.0 659.6 630.0 661.4 630.0 661.4 637.0 663.5 637.0 663.5 642.5 665.7 642.5 665.7 647.0 668.5 647.0 668.5 651.5 671.4 651.5 671.4 655.5 675.0 655.5 675.0 658.5 680.0 658.5 680.0 661.2 701.9 661.2" fill="none" stroke="#afd5eb" stroke-width="1"/>
<path d="M652.1 598.4V667.4" stroke="#bcdcef" stroke-width="0.9" stroke-dasharray="3 2"/>
<path d="M657.4 598.4V667.4" stroke="#bcdcef" stroke-width="0.9" stroke-dasharray="3 2"/>
<path d="M666.4 598.4V667.4" stroke="#bcdcef" stroke-width="0.9" stroke-dasharray="3 2"/>
<rect x="51.00" y="16.40" width="69.3" height="69.0" fill="none" stroke="#777777" stroke-width="1.4"/>
<path d="M59.8 16.4v2.0M59.8 85.4v-2.0M75.7 16.4v2.0M75.7 85.4v-2.0M91.6 16.4v2.0M91.6 85.4v-2.0M107.6 16.4v2.0M107.6 85.4v-2.0" stroke="#8a8a8a" stroke-width="0.8" fill="none"/>
<rect x="51.00" y="89.15" width="69.3" height="69.0" fill="none" stroke="#777777" stroke-width="1.4"/>
<path d="M59.8 89.2v2.0M59.8 158.2v-2.0M75.7 89.2v2.0M75.7 158.2v-2.0M91.6 89.2v2.0M91.6 158.2v-2.0M107.6 89.2v2.0M107.6 158.2v-2.0M51.0 96.4h2.0M120.3 96.4h-2.0M51.0 113.5h2.0M120.3 113.5h-2.0M51.0 129.5h2.0M120.3 129.5h-2.0M51.0 147.1h2.0M120.3 147.1h-2.0" stroke="#8a8a8a" stroke-width="0.8" fill="none"/>
<rect x="123.70" y="89.15" width="69.3" height="69.0" fill="none" stroke="#777777" stroke-width="1.4"/>
<path d="M136.4 89.2v2.0M136.4 158.2v-2.0M153.3 89.2v2.0M153.3 158.2v-2.0M169.4 89.2v2.0M169.4 158.2v-2.0M185.7 89.2v2.0M185.7 158.2v-2.0M123.7 96.4h2.0M193.0 96.4h-2.0M123.7 113.5h2.0M193.0 113.5h-2.0M123.7 129.5h2.0M193.0 129.5h-2.0M123.7 147.1h2.0M193.0 147.1h-2.0" stroke="#8a8a8a" stroke-width="0.8" fill="none"/>
<rect x="51.00" y="161.90" width="69.3" height="69.0" fill="none" stroke="#777777" stroke-width="1.4"/>
<path d="M59.8 161.9v2.0M59.8 230.9v-2.0M75.7 161.9v2.0M75.7 230.9v-2.0M91.6 161.9v2.0M91.6 230.9v-2.0M107.6 161.9v2.0M107.6 230.9v-2.0M51.0 176.5h2.0M120.3 176.5h-2.0M51.0 190.2h2.0M120.3 190.2h-2.0M51.0 204.5h2.0M120.3 204.5h-2.0M51.0 219.3h2.0M120.3 219.3h-2.0" stroke="#8a8a8a" stroke-width="0.8" fill="none"/>
<rect x="123.70" y="161.90" width="69.3" height="69.0" fill="none" stroke="#777777" stroke-width="1.4"/>
<path d="M136.4 161.9v2.0M136.4 230.9v-2.0M153.3 161.9v2.0M153.3 230.9v-2.0M169.4 161.9v2.0M169.4 230.9v-2.0M185.7 161.9v2.0M185.7 230.9v-2.0M123.7 176.5h2.0M193.0 176.5h-2.0M123.7 190.2h2.0M193.0 190.2h-2.0M123.7 204.5h2.0M193.0 204.5h-2.0M123.7 219.3h2.0M193.0 219.3h-2.0" stroke="#8a8a8a" stroke-width="0.8" fill="none"/>
<rect x="196.40" y="161.90" width="69.3" height="69.0" fill="none" stroke="#777777" stroke-width="1.4"/>
<path d="M207.2 161.9v2.0M207.2 230.9v-2.0M221.9 161.9v2.0M221.9 230.9v-2.0M236.7 161.9v2.0M236.7 230.9v-2.0M251.4 161.9v2.0M251.4 230.9v-2.0M196.4 176.5h2.0M265.7 176.5h-2.0M196.4 190.2h2.0M265.7 190.2h-2.0M196.4 204.5h2.0M265.7 204.5h-2.0M196.4 219.3h2.0M265.7 219.3h-2.0" stroke="#8a8a8a" stroke-width="0.8" fill="none"/>
<rect x="51.00" y="234.65" width="69.3" height="69.0" fill="none" stroke="#777777" stroke-width="1.4"/>
<path d="M59.8 234.7v2.0M59.8 303.6v-2.0M75.7 234.7v2.0M75.7 303.6v-2.0M91.6 234.7v2.0M91.6 303.6v-2.0M107.6 234.7v2.0M107.6 303.6v-2.0M51.0 247.7h2.0M120.3 247.7h-2.0M51.0 263.6h2.0M120.3 263.6h-2.0M51.0 280.7h2.0M120.3 280.7h-2.0M51.0 296.7h2.0M120.3 296.7h-2.0" stroke="#8a8a8a" stroke-width="0.8" fill="none"/>
<rect x="123.70" y="234.65" width="69.3" height="69.0" fill="none" stroke="#777777" stroke-width="1.4"/>
<path d="M136.4 234.7v2.0M136.4 303.6v-2.0M153.3 234.7v2.0M153.3 303.6v-2.0M169.4 234.7v2.0M169.4 303.6v-2.0M185.7 234.7v2.0M185.7 303.6v-2.0M123.7 247.7h2.0M193.0 247.7h-2.0M123.7 263.6h2.0M193.0 263.6h-2.0M123.7 280.7h2.0M193.0 280.7h-2.0M123.7 296.7h2.0M193.0 296.7h-2.0" stroke="#8a8a8a" stroke-width="0.8" fill="none"/>
<rect x="196.40" y="234.65" width="69.3" height="69.0" fill="none" stroke="#777777" stroke-width="1.4"/>
<path d="M207.2 234.7v2.0M207.2 303.6v-2.0M221.9 234.7v2.0M221.9 303.6v-2.0M236.7 234.7v2.0M236.7 303.6v-2.0M251.4 234.7v2.0M251.4 303.6v-2.0M196.4 247.7h2.0M265.7 247.7h-2.0M196.4 263.6h2.0M265.7 263.6h-2.0M196.4 280.7h2.0M265.7 280.7h-2.0M196.4 296.7h2.0M265.7 296.7h-2.0" stroke="#8a8a8a" stroke-width="0.8" fill="none"/>
<rect x="269.10" y="234.65" width="69.3" height="69.0" fill="none" stroke="#777777" stroke-width="1.4"/>
<path d="M274.8 234.7v2.0M274.8 303.6v-2.0M292.1 234.7v2.0M292.1 303.6v-2.0M308.7 234.7v2.0M308.7 303.6v-2.0M325.6 234.7v2.0M325.6 303.6v-2.0M269.1 247.7h2.0M338.4 247.7h-2.0M269.1 263.6h2.0M338.4 263.6h-2.0M269.1 280.7h2.0M338.4 280.7h-2.0M269.1 296.7h2.0M338.4 296.7h-2.0" stroke="#8a8a8a" stroke-width="0.8" fill="none"/>
<rect x="51.00" y="307.40" width="69.3" height="69.0" fill="none" stroke="#777777" stroke-width="1.4"/>
<path d="M59.8 307.4v2.0M59.8 376.4v-2.0M75.7 307.4v2.0M75.7 376.4v-2.0M91.6 307.4v2.0M91.6 376.4v-2.0M107.6 307.4v2.0M107.6 376.4v-2.0M51.0 321.7h2.0M120.3 321.7h-2.0M51.0 335.9h2.0M120.3 335.9h-2.0M51.0 350.2h2.0M120.3 350.2h-2.0M51.0 365.0h2.0M120.3 365.0h-2.0" stroke="#8a8a8a" stroke-width="0.8" fill="none"/>
<rect x="123.70" y="307.40" width="69.3" height="69.0" fill="none" stroke="#777777" stroke-width="1.4"/>
<path d="M136.4 307.4v2.0M136.4 376.4v-2.0M153.3 307.4v2.0M153.3 376.4v-2.0M169.4 307.4v2.0M169.4 376.4v-2.0M185.7 307.4v2.0M185.7 376.4v-2.0M123.7 321.7h2.0M193.0 321.7h-2.0M123.7 335.9h2.0M193.0 335.9h-2.0M123.7 350.2h2.0M193.0 350.2h-2.0M123.7 365.0h2.0M193.0 365.0h-2.0" stroke="#8a8a8a" stroke-width="0.8" fill="none"/>
<rect x="196.40" y="307.40" width="69.3" height="69.0" fill="none" stroke="#777777" stroke-width="1.4"/>
<path d="M207.2 307.4v2.0M207.2 376.4v-2.0M221.9 307.4v2.0M221.9 376.4v-2.0M236.7 307.4v2.0M236.7 376.4v-2.0M251.4 307.4v2.0M251.4 376.4v-2.0M196.4 321.7h2.0M265.7 321.7h-2.0M196.4 335.9h2.0M265.7 335.9h-2.0M196.4 350.2h2.0M265.7 350.2h-2.0M196.4 365.0h2.0M265.7 365.0h-2.0" stroke="#8a8a8a" stroke-width="0.8" fill="none"/>
<rect x="269.10" y="307.40" width="69.3" height="69.0" fill="none" stroke="#777777" stroke-width="1.4"/>
<path d="M274.8 307.4v2.0M274.8 376.4v-2.0M292.1 307.4v2.0M292.1 376.4v-2.0M308.7 307.4v2.0M308.7 376.4v-2.0M325.6 307.4v2.0M325.6 376.4v-2.0M269.1 321.7h2.0M338.4 321.7h-2.0M269.1 335.9h2.0M338.4 335.9h-2.0M269.1 350.2h2.0M338.4 350.2h-2.0M269.1 365.0h2.0M338.4 365.0h-2.0" stroke="#8a8a8a" stroke-width="0.8" fill="none"/>
<rect x="341.80" y="307.40" width="69.3" height="69.0" fill="none" stroke="#777777" stroke-width="1.4"/>
<path d="M352.3 307.4v2.0M352.3 376.4v-2.0M367.0 307.4v2.0M367.0 376.4v-2.0M381.4 307.4v2.0M381.4 376.4v-2.0M395.8 307.4v2.0M395.8 376.4v-2.0M341.8 321.7h2.0M411.1 321.7h-2.0M341.8 335.9h2.0M411.1 335.9h-2.0M341.8 350.2h2.0M411.1 350.2h-2.0M341.8 365.0h2.0M411.1 365.0h-2.0" stroke="#8a8a8a" stroke-width="0.8" fill="none"/>
<rect x="51.00" y="380.15" width="69.3" height="69.0" fill="none" stroke="#777777" stroke-width="1.4"/>
<path d="M59.8 380.1v2.0M59.8 449.1v-2.0M75.7 380.1v2.0M75.7 449.1v-2.0M91.6 380.1v2.0M91.6 449.1v-2.0M107.6 380.1v2.0M107.6 449.1v-2.0M51.0 389.8h2.0M120.3 389.8h-2.0M51.0 405.2h2.0M120.3 405.2h-2.0M51.0 421.2h2.0M120.3 421.2h-2.0M51.0 436.6h2.0M120.3 436.6h-2.0" stroke="#8a8a8a" stroke-width="0.8" fill="none"/>
<rect x="123.70" y="380.15" width="69.3" height="69.0" fill="none" stroke="#777777" stroke-width="1.4"/>
<path d="M136.4 380.1v2.0M136.4 449.1v-2.0M153.3 380.1v2.0M153.3 449.1v-2.0M169.4 380.1v2.0M169.4 449.1v-2.0M185.7 380.1v2.0M185.7 449.1v-2.0M123.7 389.8h2.0M193.0 389.8h-2.0M123.7 405.2h2.0M193.0 405.2h-2.0M123.7 421.2h2.0M193.0 421.2h-2.0M123.7 436.6h2.0M193.0 436.6h-2.0" stroke="#8a8a8a" stroke-width="0.8" fill="none"/>
<rect x="196.40" y="380.15" width="69.3" height="69.0" fill="none" stroke="#777777" stroke-width="1.4"/>
<path d="M207.2 380.1v2.0M207.2 449.1v-2.0M221.9 380.1v2.0M221.9 449.1v-2.0M236.7 380.1v2.0M236.7 449.1v-2.0M251.4 380.1v2.0M251.4 449.1v-2.0M196.4 389.8h2.0M265.7 389.8h-2.0M196.4 405.2h2.0M265.7 405.2h-2.0M196.4 421.2h2.0M265.7 421.2h-2.0M196.4 436.6h2.0M265.7 436.6h-2.0" stroke="#8a8a8a" stroke-width="0.8" fill="none"/>
<rect x="269.10" y="380.15" width="69.3" height="69.0" fill="none" stroke="#777777" stroke-width="1.4"/>
<path d="M274.8 380.1v2.0M274.8 449.1v-2.0M292.1 380.1v2.0M292.1 449.1v-2.0M308.7 380.1v2.0M308.7 449.1v-2.0M325.6 380.1v2.0M325.6 449.1v-2.0M269.1 389.8h2.0M338.4 389.8h-2.0M269.1 405.2h2.0M338.4 405.2h-2.0M269.1 421.2h2.0M338.4 421.2h-2.0M269.1 436.6h2.0M338.4 436.6h-2.0" stroke="#8a8a8a" stroke-width="0.8" fill="none"/>
<rect x="341.80" y="380.15" width="69.3" height="69.0" fill="none" stroke="#777777" stroke-width="1.4"/>
<path d="M352.3 380.1v2.0M352.3 449.1v-2.0M367.0 380.1v2.0M367.0 449.1v-2.0M381.4 380.1v2.0M381.4 449.1v-2.0M395.8 380.1v2.0M395.8 449.1v-2.0M341.8 389.8h2.0M411.1 389.8h-2.0M341.8 405.2h2.0M411.1 405.2h-2.0M341.8 421.2h2.0M411.1 421.2h-2.0M341.8 436.6h2.0M411.1 436.6h-2.0" stroke="#8a8a8a" stroke-width="0.8" fill="none"/>
<rect x="414.50" y="380.15" width="69.3" height="69.0" fill="none" stroke="#777777" stroke-width="1.4"/>
<path d="M428.2 380.1v2.0M428.2 449.1v-2.0M444.5 380.1v2.0M444.5 449.1v-2.0M460.5 380.1v2.0M460.5 449.1v-2.0M476.5 380.1v2.0M476.5 449.1v-2.0M414.5 389.8h2.0M483.8 389.8h-2.0M414.5 405.2h2.0M483.8 405.2h-2.0M414.5 421.2h2.0M483.8 421.2h-2.0M414.5 436.6h2.0M483.8 436.6h-2.0" stroke="#8a8a8a" stroke-width="0.8" fill="none"/>
<rect x="51.00" y="452.90" width="69.3" height="69.0" fill="none" stroke="#777777" stroke-width="1.4"/>
<path d="M59.8 452.9v2.0M59.8 521.9v-2.0M75.7 452.9v2.0M75.7 521.9v-2.0M91.6 452.9v2.0M91.6 521.9v-2.0M107.6 452.9v2.0M107.6 521.9v-2.0M51.0 457.5h2.0M120.3 457.5h-2.0M51.0 475.8h2.0M120.3 475.8h-2.0M51.0 495.2h2.0M120.3 495.2h-2.0M51.0 514.0h2.0M120.3 514.0h-2.0" stroke="#8a8a8a" stroke-width="0.8" fill="none"/>
<rect x="123.70" y="452.90" width="69.3" height="69.0" fill="none" stroke="#777777" stroke-width="1.4"/>
<path d="M136.4 452.9v2.0M136.4 521.9v-2.0M153.3 452.9v2.0M153.3 521.9v-2.0M169.4 452.9v2.0M169.4 521.9v-2.0M185.7 452.9v2.0M185.7 521.9v-2.0M123.7 457.5h2.0M193.0 457.5h-2.0M123.7 475.8h2.0M193.0 475.8h-2.0M123.7 495.2h2.0M193.0 495.2h-2.0M123.7 514.0h2.0M193.0 514.0h-2.0" stroke="#8a8a8a" stroke-width="0.8" fill="none"/>
<rect x="196.40" y="452.90" width="69.3" height="69.0" fill="none" stroke="#777777" stroke-width="1.4"/>
<path d="M207.2 452.9v2.0M207.2 521.9v-2.0M221.9 452.9v2.0M221.9 521.9v-2.0M236.7 452.9v2.0M236.7 521.9v-2.0M251.4 452.9v2.0M251.4 521.9v-2.0M196.4 457.5h2.0M265.7 457.5h-2.0M196.4 475.8h2.0M265.7 475.8h-2.0M196.4 495.2h2.0M265.7 495.2h-2.0M196.4 514.0h2.0M265.7 514.0h-2.0" stroke="#8a8a8a" stroke-width="0.8" fill="none"/>
<rect x="269.10" y="452.90" width="69.3" height="69.0" fill="none" stroke="#777777" stroke-width="1.4"/>
<path d="M274.8 452.9v2.0M274.8 521.9v-2.0M292.1 452.9v2.0M292.1 521.9v-2.0M308.7 452.9v2.0M308.7 521.9v-2.0M325.6 452.9v2.0M325.6 521.9v-2.0M269.1 457.5h2.0M338.4 457.5h-2.0M269.1 475.8h2.0M338.4 475.8h-2.0M269.1 495.2h2.0M338.4 495.2h-2.0M269.1 514.0h2.0M338.4 514.0h-2.0" stroke="#8a8a8a" stroke-width="0.8" fill="none"/>
<rect x="341.80" y="452.90" width="69.3" height="69.0" fill="none" stroke="#777777" stroke-width="1.4"/>
<path d="M352.3 452.9v2.0M352.3 521.9v-2.0M367.0 452.9v2.0M367.0 521.9v-2.0M381.4 452.9v2.0M381.4 521.9v-2.0M395.8 452.9v2.0M395.8 521.9v-2.0M341.8 457.5h2.0M411.1 457.5h-2.0M341.8 475.8h2.0M411.1 475.8h-2.0M341.8 495.2h2.0M411.1 495.2h-2.0M341.8 514.0h2.0M411.1 514.0h-2.0" stroke="#8a8a8a" stroke-width="0.8" fill="none"/>
<rect x="414.50" y="452.90" width="69.3" height="69.0" fill="none" stroke="#777777" stroke-width="1.4"/>
<path d="M428.2 452.9v2.0M428.2 521.9v-2.0M444.5 452.9v2.0M444.5 521.9v-2.0M460.5 452.9v2.0M460.5 521.9v-2.0M476.5 452.9v2.0M476.5 521.9v-2.0M414.5 457.5h2.0M483.8 457.5h-2.0M414.5 475.8h2.0M483.8 475.8h-2.0M414.5 495.2h2.0M483.8 495.2h-2.0M414.5 514.0h2.0M483.8 514.0h-2.0" stroke="#8a8a8a" stroke-width="0.8" fill="none"/>
<rect x="487.20" y="452.90" width="69.3" height="69.0" fill="none" stroke="#777777" stroke-width="1.4"/>
<path d="M494.0 452.9v2.0M494.0 521.9v-2.0M514.5 452.9v2.0M514.5 521.9v-2.0M534.3 452.9v2.0M534.3 521.9v-2.0M554.8 452.9v2.0M554.8 521.9v-2.0M487.2 457.5h2.0M556.5 457.5h-2.0M487.2 475.8h2.0M556.5 475.8h-2.0M487.2 495.2h2.0M556.5 495.2h-2.0M487.2 514.0h2.0M556.5 514.0h-2.0" stroke="#8a8a8a" stroke-width="0.8" fill="none"/>
<rect x="51.00" y="525.65" width="69.3" height="69.0" fill="none" stroke="#777777" stroke-width="1.4"/>
<path d="M59.8 525.6v2.0M59.8 594.6v-2.0M75.7 525.6v2.0M75.7 594.6v-2.0M91.6 525.6v2.0M91.6 594.6v-2.0M107.6 525.6v2.0M107.6 594.6v-2.0M51.0 535.0h2.0M120.3 535.0h-2.0M51.0 552.0h2.0M120.3 552.0h-2.0M51.0 568.0h2.0M120.3 568.0h-2.0M51.0 584.0h2.0M120.3 584.0h-2.0" stroke="#8a8a8a" stroke-width="0.8" fill="none"/>
<rect x="123.70" y="525.65" width="69.3" height="69.0" fill="none" stroke="#777777" stroke-width="1.4"/>
<path d="M136.4 525.6v2.0M136.4 594.6v-2.0M153.3 525.6v2.0M153.3 594.6v-2.0M169.4 525.6v2.0M169.4 594.6v-2.0M185.7 525.6v2.0M185.7 594.6v-2.0M123.7 535.0h2.0M193.0 535.0h-2.0M123.7 552.0h2.0M193.0 552.0h-2.0M123.7 568.0h2.0M193.0 568.0h-2.0M123.7 584.0h2.0M193.0 584.0h-2.0" stroke="#8a8a8a" stroke-width="0.8" fill="none"/>
<rect x="196.40" y="525.65" width="69.3" height="69.0" fill="none" stroke="#777777" stroke-width="1.4"/>
<path d="M207.2 525.6v2.0M207.2 594.6v-2.0M221.9 525.6v2.0M221.9 594.6v-2.0M236.7 525.6v2.0M236.7 594.6v-2.0M251.4 525.6v2.0M251.4 594.6v-2.0M196.4 535.0h2.0M265.7 535.0h-2.0M196.4 552.0h2.0M265.7 552.0h-2.0M196.4 568.0h2.0M265.7 568.0h-2.0M196.4 584.0h2.0M265.7 584.0h-2.0" stroke="#8a8a8a" stroke-width="0.8" fill="none"/>
<rect x="269.10" y="525.65" width="69.3" height="69.0" fill="none" stroke="#777777" stroke-width="1.4"/>
<path d="M274.8 525.6v2.0M274.8 594.6v-2.0M292.1 525.6v2.0M292.1 594.6v-2.0M308.7 525.6v2.0M308.7 594.6v-2.0M325.6 525.6v2.0M325.6 594.6v-2.0M269.1 535.0h2.0M338.4 535.0h-2.0M269.1 552.0h2.0M338.4 552.0h-2.0M269.1 568.0h2.0M338.4 568.0h-2.0M269.1 584.0h2.0M338.4 584.0h-2.0" stroke="#8a8a8a" stroke-width="0.8" fill="none"/>
<rect x="341.80" y="525.65" width="69.3" height="69.0" fill="none" stroke="#777777" stroke-width="1.4"/>
<path d="M352.3 525.6v2.0M352.3 594.6v-2.0M367.0 525.6v2.0M367.0 594.6v-2.0M381.4 525.6v2.0M381.4 594.6v-2.0M395.8 525.6v2.0M395.8 594.6v-2.0M341.8 535.0h2.0M411.1 535.0h-2.0M341.8 552.0h2.0M411.1 552.0h-2.0M341.8 568.0h2.0M411.1 568.0h-2.0M341.8 584.0h2.0M411.1 584.0h-2.0" stroke="#8a8a8a" stroke-width="0.8" fill="none"/>
<rect x="414.50" y="525.65" width="69.3" height="69.0" fill="none" stroke="#777777" stroke-width="1.4"/>
<path d="M428.2 525.6v2.0M428.2 594.6v-2.0M444.5 525.6v2.0M444.5 594.6v-2.0M460.5 525.6v2.0M460.5 594.6v-2.0M476.5 525.6v2.0M476.5 594.6v-2.0M414.5 535.0h2.0M483.8 535.0h-2.0M414.5 552.0h2.0M483.8 552.0h-2.0M414.5 568.0h2.0M483.8 568.0h-2.0M414.5 584.0h2.0M483.8 584.0h-2.0" stroke="#8a8a8a" stroke-width="0.8" fill="none"/>
<rect x="487.20" y="525.65" width="69.3" height="69.0" fill="none" stroke="#777777" stroke-width="1.4"/>
<path d="M494.0 525.6v2.0M494.0 594.6v-2.0M514.5 525.6v2.0M514.5 594.6v-2.0M534.3 525.6v2.0M534.3 594.6v-2.0M554.8 525.6v2.0M554.8 594.6v-2.0M487.2 535.0h2.0M556.5 535.0h-2.0M487.2 552.0h2.0M556.5 552.0h-2.0M487.2 568.0h2.0M556.5 568.0h-2.0M487.2 584.0h2.0M556.5 584.0h-2.0" stroke="#8a8a8a" stroke-width="0.8" fill="none"/>
<rect x="559.90" y="525.65" width="69.3" height="69.0" fill="none" stroke="#777777" stroke-width="1.4"/>
<path d="M570.9 525.6v2.0M570.9 594.6v-2.0M587.6 525.6v2.0M587.6 594.6v-2.0M604.5 525.6v2.0M604.5 594.6v-2.0M621.1 525.6v2.0M621.1 594.6v-2.0M559.9 535.0h2.0M629.2 535.0h-2.0M559.9 552.0h2.0M629.2 552.0h-2.0M559.9 568.0h2.0M629.2 568.0h-2.0M559.9 584.0h2.0M629.2 584.0h-2.0" stroke="#8a8a8a" stroke-width="0.8" fill="none"/>
<rect x="51.00" y="598.40" width="69.3" height="69.0" fill="none" stroke="#777777" stroke-width="1.4"/>
<path d="M59.8 598.4v2.0M59.8 667.4v-2.0M75.7 598.4v2.0M75.7 667.4v-2.0M91.6 598.4v2.0M91.6 667.4v-2.0M107.6 598.4v2.0M107.6 667.4v-2.0M51.0 612.2h2.0M120.3 612.2h-2.0M51.0 627.0h2.0M120.3 627.0h-2.0M51.0 641.3h2.0M120.3 641.3h-2.0M51.0 657.3h2.0M120.3 657.3h-2.0" stroke="#8a8a8a" stroke-width="0.8" fill="none"/>
<rect x="123.70" y="598.40" width="69.3" height="69.0" fill="none" stroke="#777777" stroke-width="1.4"/>
<path d="M136.4 598.4v2.0M136.4 667.4v-2.0M153.3 598.4v2.0M153.3 667.4v-2.0M169.4 598.4v2.0M169.4 667.4v-2.0M185.7 598.4v2.0M185.7 667.4v-2.0M123.7 612.2h2.0M193.0 612.2h-2.0M123.7 627.0h2.0M193.0 627.0h-2.0M123.7 641.3h2.0M193.0 641.3h-2.0M123.7 657.3h2.0M193.0 657.3h-2.0" stroke="#8a8a8a" stroke-width="0.8" fill="none"/>
<rect x="196.40" y="598.40" width="69.3" height="69.0" fill="none" stroke="#777777" stroke-width="1.4"/>
<path d="M207.2 598.4v2.0M207.2 667.4v-2.0M221.9 598.4v2.0M221.9 667.4v-2.0M236.7 598.4v2.0M236.7 667.4v-2.0M251.4 598.4v2.0M251.4 667.4v-2.0M196.4 612.2h2.0M265.7 612.2h-2.0M196.4 627.0h2.0M265.7 627.0h-2.0M196.4 641.3h2.0M265.7 641.3h-2.0M196.4 657.3h2.0M265.7 657.3h-2.0" stroke="#8a8a8a" stroke-width="0.8" fill="none"/>
<rect x="269.10" y="598.40" width="69.3" height="69.0" fill="none" stroke="#777777" stroke-width="1.4"/>
<path d="M274.8 598.4v2.0M274.8 667.4v-2.0M292.1 598.4v2.0M292.1 667.4v-2.0M308.7 598.4v2.0M308.7 667.4v-2.0M325.6 598.4v2.0M325.6 667.4v-2.0M269.1 612.2h2.0M338.4 612.2h-2.0M269.1 627.0h2.0M338.4 627.0h-2.0M269.1 641.3h2.0M338.4 641.3h-2.0M269.1 657.3h2.0M338.4 657.3h-2.0" stroke="#8a8a8a" stroke-width="0.8" fill="none"/>
<rect x="341.80" y="598.40" width="69.3" height="69.0" fill="none" stroke="#777777" stroke-width="1.4"/>
<path d="M352.3 598.4v2.0M352.3 667.4v-2.0M367.0 598.4v2.0M367.0 667.4v-2.0M381.4 598.4v2.0M381.4 667.4v-2.0M395.8 598.4v2.0M395.8 667.4v-2.0M341.8 612.2h2.0M411.1 612.2h-2.0M341.8 627.0h2.0M411.1 627.0h-2.0M341.8 641.3h2.0M411.1 641.3h-2.0M341.8 657.3h2.0M411.1 657.3h-2.0" stroke="#8a8a8a" stroke-width="0.8" fill="none"/>
<rect x="414.50" y="598.40" width="69.3" height="69.0" fill="none" stroke="#777777" stroke-width="1.4"/>
<path d="M428.2 598.4v2.0M428.2 667.4v-2.0M444.5 598.4v2.0M444.5 667.4v-2.0M460.5 598.4v2.0M460.5 667.4v-2.0M476.5 598.4v2.0M476.5 667.4v-2.0M414.5 612.2h2.0M483.8 612.2h-2.0M414.5 627.0h2.0M483.8 627.0h-2.0M414.5 641.3h2.0M483.8 641.3h-2.0M414.5 657.3h2.0M483.8 657.3h-2.0" stroke="#8a8a8a" stroke-width="0.8" fill="none"/>
<rect x="487.20" y="598.40" width="69.3" height="69.0" fill="none" stroke="#777777" stroke-width="1.4"/>
<path d="M494.0 598.4v2.0M494.0 667.4v-2.0M514.5 598.4v2.0M514.5 667.4v-2.0M534.3 598.4v2.0M534.3 667.4v-2.0M554.8 598.4v2.0M554.8 667.4v-2.0M487.2 612.2h2.0M556.5 612.2h-2.0M487.2 627.0h2.0M556.5 627.0h-2.0M487.2 641.3h2.0M556.5 641.3h-2.0M487.2 657.3h2.0M556.5 657.3h-2.0" stroke="#8a8a8a" stroke-width="0.8" fill="none"/>
<rect x="559.90" y="598.40" width="69.3" height="69.0" fill="none" stroke="#777777" stroke-width="1.4"/>
<path d="M570.9 598.4v2.0M570.9 667.4v-2.0M587.6 598.4v2.0M587.6 667.4v-2.0M604.5 598.4v2.0M604.5 667.4v-2.0M621.1 598.4v2.0M621.1 667.4v-2.0M559.9 612.2h2.0M629.2 612.2h-2.0M559.9 627.0h2.0M629.2 627.0h-2.0M559.9 641.3h2.0M629.2 641.3h-2.0M559.9 657.3h2.0M629.2 657.3h-2.0" stroke="#8a8a8a" stroke-width="0.8" fill="none"/>
<rect x="632.60" y="598.40" width="69.3" height="69.0" fill="none" stroke="#777777" stroke-width="1.4"/>
<path d="M641.8 598.4v2.0M641.8 667.4v-2.0M657.5 598.4v2.0M657.5 667.4v-2.0M673.1 598.4v2.0M673.1 667.4v-2.0M688.5 598.4v2.0M688.5 667.4v-2.0M632.6 612.2h2.0M701.9 612.2h-2.0M632.6 627.0h2.0M701.9 627.0h-2.0M632.6 641.3h2.0M701.9 641.3h-2.0M632.6 657.3h2.0M701.9 657.3h-2.0" stroke="#8a8a8a" stroke-width="0.8" fill="none"/>
<g font-family="Liberation Sans" font-size="10" fill="#2b2b2b" stroke="#2b2b2b" stroke-width="0.25" text-anchor="middle">
<text x="59.3" y="678.6">-4</text>
<text x="75.3" y="678.6">-3</text>
<text x="91.6" y="678.6">-2</text>
<text x="106.7" y="678.6">-1</text>
<text x="136.2" y="678.6">-4</text>
<text x="152.8" y="678.6">-3</text>
<text x="169.0" y="678.6">-2</text>
<text x="185.0" y="678.6">-1</text>
<text x="207.8" y="678.6">-10.0</text>
<text x="236.7" y="678.6">-5.0</text>
<text x="263.5" y="678.6">0.0</text>
<text x="291.3" y="678.6">-5</text>
<text x="307.3" y="678.6">-4</text>
<text x="325.3" y="678.6">-3</text>
<text x="352.0" y="678.6">-7</text>
<text x="366.4" y="678.6">-6</text>
<text x="381.1" y="678.6">-5</text>
<text x="395.2" y="678.6">-4</text>
<text x="427.9" y="678.6">600</text>
<text x="461.0" y="678.6">800</text>
<text x="496.2" y="678.6">0.344</text>
<text x="535.3" y="678.6">0.360</text>
<text x="571.5" y="678.6">2</text>
<text x="588.2" y="678.6">3</text>
<text x="604.5" y="678.6">4</text>
<text x="621.1" y="678.6">5</text>
<text x="641.8" y="678.6">2.0</text>
<text x="674.2" y="678.6">3.0</text>
</g>
<g font-family="Liberation Sans" font-size="10" fill="#2b2b2b" stroke="#2b2b2b" stroke-width="0.25" text-anchor="end">
<text x="42.0" y="100.0">-1</text>
<text x="42.0" y="117.1">-2</text>
<text x="42.0" y="133.1">-3</text>
<text x="42.0" y="150.7">-4</text>
<text x="43.3" y="180.1">-2.5</text>
<text x="43.3" y="193.8">-5.0</text>
<text x="43.3" y="208.1">-7.5</text>
<text x="43.3" y="222.9">-10.0</text>
<text x="43.3" y="251.3">-3</text>
<text x="43.3" y="267.2">-4</text>
<text x="43.3" y="284.3">-5</text>
<text x="43.3" y="300.3">-6</text>
<text x="42.8" y="325.3">-4</text>
<text x="42.8" y="339.5">-5</text>
<text x="42.8" y="353.8">-6</text>
<text x="42.8" y="368.6">-7</text>
<text x="45.0" y="393.4">900</text>
<text x="45.0" y="408.8">800</text>
<text x="45.0" y="424.8">700</text>
<text x="45.0" y="440.2">600</text>
<text x="45.0" y="461.1">0.368</text>
<text x="45.0" y="479.4">0.360</text>
<text x="45.0" y="498.8">0.352</text>
<text x="45.0" y="517.6">0.344</text>
<text x="41.0" y="538.6">5</text>
<text x="41.0" y="555.6">4</text>
<text x="41.0" y="571.6">3</text>
<text x="41.0" y="587.6">2</text>
<text x="42.2" y="615.8">3.5</text>
<text x="42.2" y="630.6">3.0</text>
<text x="42.2" y="644.9">2.5</text>
<text x="42.2" y="660.9">2.0</text>
</g>
<g font-family="Liberation Serif" fill="#1e1e1e" stroke="#1e1e1e" stroke-width="0.28">
<text x="59.7" y="9.4" font-size="12.3">−2.03</text>
<text x="90.5" y="5.6" font-size="9.6" stroke-width="0.35">+</text>
<text x="90.5" y="12.8" font-size="9.6" stroke-width="0.35">−</text>
<text x="98.3" y="5.4" font-size="8.8">0.36</text>
<text x="98.3" y="12.6" font-size="8.8">0.51</text>
</g>
<g font-family="Liberation Serif" fill="#1e1e1e" stroke="#1e1e1e" stroke-width="0.28">
<text x="132.8" y="82.2" font-size="12.3">−2.45</text>
<text x="163.6" y="78.4" font-size="9.6" stroke-width="0.35">+</text>
<text x="163.6" y="85.6" font-size="9.6" stroke-width="0.35">−</text>
<text x="171.5" y="78.2" font-size="8.8">0.37</text>
<text x="171.5" y="85.4" font-size="8.8">0.46</text>
</g>
<g font-family="Liberation Serif" fill="#1e1e1e" stroke="#1e1e1e" stroke-width="0.28">
<text x="204.2" y="154.9" font-size="12.3">−7.49</text>
<text x="235.0" y="151.1" font-size="9.6" stroke-width="0.35">+</text>
<text x="235.0" y="158.3" font-size="9.6" stroke-width="0.35">−</text>
<text x="243.0" y="150.9" font-size="8.8">3.39</text>
<text x="243.0" y="158.1" font-size="8.8">3.01</text>
</g>
<g font-family="Liberation Serif" fill="#1e1e1e" stroke="#1e1e1e" stroke-width="0.28">
<text x="276.2" y="227.7" font-size="12.3">−4.15</text>
<text x="307.0" y="223.8" font-size="9.6" stroke-width="0.35">+</text>
<text x="307.0" y="231.1" font-size="9.6" stroke-width="0.35">−</text>
<text x="315.0" y="223.7" font-size="8.8">0.38</text>
<text x="315.0" y="230.8" font-size="8.8">0.44</text>
</g>
<g font-family="Liberation Serif" fill="#1e1e1e" stroke="#1e1e1e" stroke-width="0.28">
<text x="350.0" y="300.4" font-size="12.3">−5.13</text>
<text x="380.8" y="296.6" font-size="9.6" stroke-width="0.35">+</text>
<text x="380.8" y="303.8" font-size="9.6" stroke-width="0.35">−</text>
<text x="389.4" y="296.4" font-size="8.8">0.44</text>
<text x="389.4" y="303.6" font-size="8.8">0.52</text>
</g>
<g font-family="Liberation Serif" fill="#1e1e1e" stroke="#1e1e1e" stroke-width="0.28">
<text x="418.6" y="373.1" font-size="12.3">691.45</text>
<text x="454.7" y="369.3" font-size="9.6" stroke-width="0.35">+</text>
<text x="454.7" y="376.5" font-size="9.6" stroke-width="0.35">−</text>
<text x="462.2" y="369.1" font-size="8.8">51.79</text>
<text x="462.2" y="376.3" font-size="8.8">36.44</text>
</g>
<g font-family="Liberation Serif" fill="#1e1e1e" stroke="#1e1e1e" stroke-width="0.28">
<text x="499.2" y="445.9" font-size="12.3">0.35</text>
<text x="523.0" y="442.1" font-size="9.6" stroke-width="0.35">+</text>
<text x="523.0" y="449.3" font-size="9.6" stroke-width="0.35">−</text>
<text x="529.4" y="441.9" font-size="8.8">0.00</text>
<text x="529.4" y="449.1" font-size="8.8">0.00</text>
</g>
<g font-family="Liberation Serif" fill="#1e1e1e" stroke="#1e1e1e" stroke-width="0.28">
<text x="572.1" y="518.6" font-size="12.3">3.10</text>
<text x="595.9" y="514.9" font-size="9.6" stroke-width="0.35">+</text>
<text x="595.9" y="522.0" font-size="9.6" stroke-width="0.35">−</text>
<text x="603.0" y="514.6" font-size="8.8">0.48</text>
<text x="603.0" y="521.9" font-size="8.8">0.35</text>
</g>
<g font-family="Liberation Serif" fill="#1e1e1e" stroke="#1e1e1e" stroke-width="0.28">
<text x="644.3" y="591.4" font-size="12.3">2.50</text>
<text x="668.1" y="587.6" font-size="9.6" stroke-width="0.35">+</text>
<text x="668.1" y="594.8" font-size="9.6" stroke-width="0.35">−</text>
<text x="674.8" y="587.4" font-size="8.8">0.29</text>
<text x="674.8" y="594.6" font-size="8.8">0.16</text>
</g>
<g font-family="Liberation Sans" font-size="12.3" fill="#474747" text-anchor="middle" letter-spacing="0.45">
<text x="85.7" y="697.0">log(H<tspan font-size="8" dy="2.5">2</tspan><tspan dy="-2.5">O)</tspan></text>
<text x="158.3" y="697.0">log(CH<tspan font-size="8" dy="2.5">4</tspan><tspan dy="-2.5">)</tspan></text>
<text x="231.1" y="697.0">log(CO)</text>
<text x="303.8" y="697.0">log(NH<tspan font-size="8" dy="2.5">3</tspan><tspan dy="-2.5">)</tspan></text>
<text x="376.4" y="697.0">log(CO<tspan font-size="8" dy="2.5">2</tspan><tspan dy="-2.5">)</tspan></text>
<text x="449.1" y="697.0">T</text>
<text x="521.9" y="697.0">R<tspan font-size="8" dy="2.5">p</tspan></text>
<text x="595.4" y="697.0">log(P<tspan font-size="9" dy="2.5">clouds</tspan><tspan dy="-2.5">)</tspan></text>
<text x="669.8" y="697.0"><tspan font-style="italic">μ</tspan> (derived)</text>
</g>
<g font-family="Liberation Sans" font-size="12.3" fill="#474747" text-anchor="middle" letter-spacing="0.45">
<text transform="translate(23.2 122.7) rotate(-90)">log(CH<tspan font-size="8" dy="2.5">4</tspan><tspan dy="-2.5">)</tspan></text>
<text transform="translate(14.6 197.4) rotate(-90)">log(CO)</text>
<text transform="translate(18.0 271.1) rotate(-90)">log(NH<tspan font-size="8" dy="2.5">3</tspan><tspan dy="-2.5">)</tspan></text>
<text transform="translate(18.5 338.4) rotate(-90)">log(CO<tspan font-size="8" dy="2.5">2</tspan><tspan dy="-2.5">)</tspan></text>
<text transform="translate(17.1 413.1) rotate(-90)">T</text>
<text transform="translate(10.5 487.4) rotate(-90)">R<tspan font-size="8" dy="2.5">p</tspan></text>
<text transform="translate(18.0 558.1) rotate(-90)">log(P<tspan font-size="9" dy="2.5">clouds</tspan><tspan dy="-2.5">)</tspan></text>
<text transform="translate(18.6 633.9) rotate(-90)"><tspan font-style="italic">μ</tspan> (derived)</text>
</g>
</svg></body></html>
